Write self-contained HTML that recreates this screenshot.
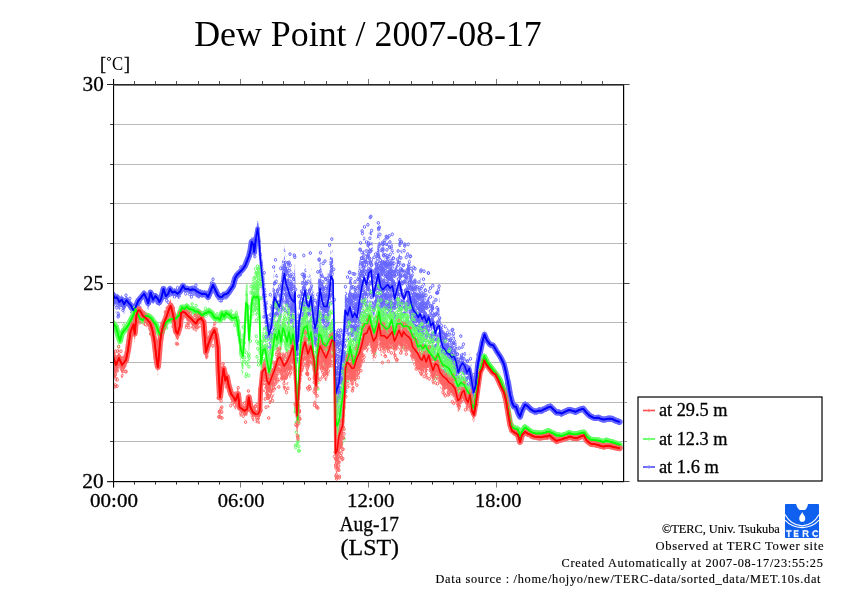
<!DOCTYPE html>
<html><head><meta charset="utf-8"><title>Dew Point / 2007-08-17</title><style>
html,body{margin:0;padding:0;background:#fff;}
body{width:842px;height:595px;overflow:hidden;position:relative;font-family:"Liberation Serif",serif;}
svg{position:absolute;left:0;top:0;display:block;will-change:transform;}
text{font-family:"Liberation Serif",serif;fill:#000;}
</style></head><body>
<svg width="842" height="595" viewBox="0 0 842 595">
<defs><clipPath id="pc"><rect x="113" y="84" width="511" height="398"/></clipPath><pattern id="bd" width="32" height="32" patternUnits="userSpaceOnUse"><g fill="none" stroke="#6464ff" stroke-width="1"><ellipse cx="4.3" cy="27.1" rx="1.15" ry="1.45"/><ellipse cx="24.4" cy="8.2" rx="1.15" ry="1.45"/><ellipse cx="15.9" cy="14.4" rx="1.15" ry="1.45"/><ellipse cx="20.9" cy="25.2" rx="1.15" ry="1.45"/><ellipse cx="3.0" cy="0.9" rx="1.15" ry="1.45"/><ellipse cx="3.0" cy="32.9" rx="1.15" ry="1.45"/><ellipse cx="26.7" cy="13.8" rx="1.15" ry="1.45"/><ellipse cx="24.4" cy="0.1" rx="1.15" ry="1.45"/><ellipse cx="24.4" cy="32.1" rx="1.15" ry="1.45"/><ellipse cx="14.3" cy="23.1" rx="1.15" ry="1.45"/><ellipse cx="7.3" cy="-1.8" rx="1.15" ry="1.45"/><ellipse cx="7.3" cy="30.2" rx="1.15" ry="1.45"/><ellipse cx="28.8" cy="1.0" rx="1.15" ry="1.45"/><ellipse cx="28.8" cy="33.0" rx="1.15" ry="1.45"/><ellipse cx="0.8" cy="17.3" rx="1.15" ry="1.45"/><ellipse cx="32.8" cy="17.3" rx="1.15" ry="1.45"/><ellipse cx="-1.9" cy="12.2" rx="1.15" ry="1.45"/><ellipse cx="30.1" cy="12.2" rx="1.15" ry="1.45"/><ellipse cx="6.9" cy="13.5" rx="1.15" ry="1.45"/><ellipse cx="0.9" cy="7.1" rx="1.15" ry="1.45"/><ellipse cx="32.9" cy="7.1" rx="1.15" ry="1.45"/><ellipse cx="14.0" cy="15.9" rx="1.15" ry="1.45"/><ellipse cx="7.5" cy="7.4" rx="1.15" ry="1.45"/><ellipse cx="7.0" cy="14.7" rx="1.15" ry="1.45"/><ellipse cx="9.3" cy="0.7" rx="1.15" ry="1.45"/><ellipse cx="9.3" cy="32.7" rx="1.15" ry="1.45"/><ellipse cx="26.8" cy="17.8" rx="1.15" ry="1.45"/><ellipse cx="20.6" cy="5.9" rx="1.15" ry="1.45"/><ellipse cx="-0.2" cy="27.5" rx="1.15" ry="1.45"/><ellipse cx="31.8" cy="27.5" rx="1.15" ry="1.45"/><ellipse cx="3.9" cy="10.6" rx="1.15" ry="1.45"/><ellipse cx="23.1" cy="22.8" rx="1.15" ry="1.45"/><ellipse cx="-2.0" cy="13.5" rx="1.15" ry="1.45"/><ellipse cx="30.0" cy="13.5" rx="1.15" ry="1.45"/><ellipse cx="26.6" cy="21.4" rx="1.15" ry="1.45"/><ellipse cx="9.7" cy="18.8" rx="1.15" ry="1.45"/><ellipse cx="28.2" cy="27.1" rx="1.15" ry="1.45"/><ellipse cx="16.2" cy="18.8" rx="1.15" ry="1.45"/><ellipse cx="1.1" cy="7.8" rx="1.15" ry="1.45"/><ellipse cx="33.1" cy="7.8" rx="1.15" ry="1.45"/><ellipse cx="25.5" cy="13.3" rx="1.15" ry="1.45"/><ellipse cx="5.5" cy="17.6" rx="1.15" ry="1.45"/><ellipse cx="22.5" cy="21.6" rx="1.15" ry="1.45"/><ellipse cx="12.0" cy="14.0" rx="1.15" ry="1.45"/><ellipse cx="16.3" cy="24.9" rx="1.15" ry="1.45"/><ellipse cx="16.7" cy="12.6" rx="1.15" ry="1.45"/><ellipse cx="15.7" cy="0.9" rx="1.15" ry="1.45"/><ellipse cx="15.7" cy="32.9" rx="1.15" ry="1.45"/><ellipse cx="1.4" cy="22.5" rx="1.15" ry="1.45"/><ellipse cx="33.4" cy="22.5" rx="1.15" ry="1.45"/><ellipse cx="-0.5" cy="19.0" rx="1.15" ry="1.45"/><ellipse cx="31.5" cy="19.0" rx="1.15" ry="1.45"/><ellipse cx="12.6" cy="5.5" rx="1.15" ry="1.45"/><ellipse cx="16.1" cy="-0.6" rx="1.15" ry="1.45"/><ellipse cx="16.1" cy="31.4" rx="1.15" ry="1.45"/><ellipse cx="24.7" cy="17.3" rx="1.15" ry="1.45"/><ellipse cx="27.5" cy="7.4" rx="1.15" ry="1.45"/><ellipse cx="16.4" cy="-1.5" rx="1.15" ry="1.45"/><ellipse cx="16.4" cy="30.5" rx="1.15" ry="1.45"/><ellipse cx="18.5" cy="14.7" rx="1.15" ry="1.45"/><ellipse cx="8.6" cy="17.5" rx="1.15" ry="1.45"/><ellipse cx="-1.4" cy="0.2" rx="1.15" ry="1.45"/><ellipse cx="-1.4" cy="32.2" rx="1.15" ry="1.45"/><ellipse cx="30.6" cy="0.2" rx="1.15" ry="1.45"/><ellipse cx="30.6" cy="32.2" rx="1.15" ry="1.45"/><ellipse cx="25.1" cy="26.3" rx="1.15" ry="1.45"/><ellipse cx="28.4" cy="23.7" rx="1.15" ry="1.45"/><ellipse cx="25.9" cy="16.6" rx="1.15" ry="1.45"/><ellipse cx="18.0" cy="13.6" rx="1.15" ry="1.45"/><ellipse cx="1.8" cy="27.8" rx="1.15" ry="1.45"/><ellipse cx="33.8" cy="27.8" rx="1.15" ry="1.45"/><ellipse cx="18.2" cy="6.4" rx="1.15" ry="1.45"/><ellipse cx="16.2" cy="15.5" rx="1.15" ry="1.45"/><ellipse cx="11.4" cy="11.1" rx="1.15" ry="1.45"/><ellipse cx="17.2" cy="20.0" rx="1.15" ry="1.45"/><ellipse cx="19.6" cy="14.7" rx="1.15" ry="1.45"/><ellipse cx="0.9" cy="7.3" rx="1.15" ry="1.45"/><ellipse cx="32.9" cy="7.3" rx="1.15" ry="1.45"/><ellipse cx="5.7" cy="18.7" rx="1.15" ry="1.45"/><ellipse cx="27.6" cy="25.6" rx="1.15" ry="1.45"/><ellipse cx="25.5" cy="26.1" rx="1.15" ry="1.45"/><ellipse cx="8.2" cy="26.9" rx="1.15" ry="1.45"/><ellipse cx="21.5" cy="2.7" rx="1.15" ry="1.45"/><ellipse cx="21.5" cy="34.7" rx="1.15" ry="1.45"/><ellipse cx="0.5" cy="0.5" rx="1.15" ry="1.45"/><ellipse cx="0.5" cy="32.5" rx="1.15" ry="1.45"/><ellipse cx="32.5" cy="0.5" rx="1.15" ry="1.45"/><ellipse cx="32.5" cy="32.5" rx="1.15" ry="1.45"/><ellipse cx="24.2" cy="8.0" rx="1.15" ry="1.45"/><ellipse cx="3.5" cy="20.0" rx="1.15" ry="1.45"/><ellipse cx="11.0" cy="2.2" rx="1.15" ry="1.45"/><ellipse cx="11.0" cy="34.2" rx="1.15" ry="1.45"/><ellipse cx="5.1" cy="16.9" rx="1.15" ry="1.45"/><ellipse cx="5.4" cy="8.7" rx="1.15" ry="1.45"/><ellipse cx="22.8" cy="14.6" rx="1.15" ry="1.45"/><ellipse cx="10.3" cy="15.2" rx="1.15" ry="1.45"/><ellipse cx="0.8" cy="12.4" rx="1.15" ry="1.45"/><ellipse cx="32.8" cy="12.4" rx="1.15" ry="1.45"/><ellipse cx="13.5" cy="6.0" rx="1.15" ry="1.45"/><ellipse cx="3.5" cy="28.8" rx="1.15" ry="1.45"/><ellipse cx="16.3" cy="6.7" rx="1.15" ry="1.45"/><ellipse cx="19.4" cy="26.1" rx="1.15" ry="1.45"/><ellipse cx="0.7" cy="0.6" rx="1.15" ry="1.45"/><ellipse cx="0.7" cy="32.6" rx="1.15" ry="1.45"/><ellipse cx="32.7" cy="0.6" rx="1.15" ry="1.45"/><ellipse cx="32.7" cy="32.6" rx="1.15" ry="1.45"/><ellipse cx="4.7" cy="23.0" rx="1.15" ry="1.45"/><ellipse cx="5.1" cy="22.5" rx="1.15" ry="1.45"/><ellipse cx="21.7" cy="17.4" rx="1.15" ry="1.45"/><ellipse cx="7.1" cy="-0.8" rx="1.15" ry="1.45"/><ellipse cx="7.1" cy="31.2" rx="1.15" ry="1.45"/><ellipse cx="25.5" cy="16.5" rx="1.15" ry="1.45"/><ellipse cx="7.1" cy="20.8" rx="1.15" ry="1.45"/><ellipse cx="12.6" cy="18.4" rx="1.15" ry="1.45"/><ellipse cx="10.3" cy="20.2" rx="1.15" ry="1.45"/><ellipse cx="1.9" cy="9.6" rx="1.15" ry="1.45"/><ellipse cx="33.9" cy="9.6" rx="1.15" ry="1.45"/><ellipse cx="-1.0" cy="28.0" rx="1.15" ry="1.45"/><ellipse cx="31.0" cy="28.0" rx="1.15" ry="1.45"/><ellipse cx="9.8" cy="27.5" rx="1.15" ry="1.45"/><ellipse cx="9.9" cy="-1.9" rx="1.15" ry="1.45"/><ellipse cx="9.9" cy="30.1" rx="1.15" ry="1.45"/><ellipse cx="23.8" cy="13.3" rx="1.15" ry="1.45"/><ellipse cx="8.1" cy="0.3" rx="1.15" ry="1.45"/><ellipse cx="8.1" cy="32.3" rx="1.15" ry="1.45"/><ellipse cx="28.1" cy="1.2" rx="1.15" ry="1.45"/><ellipse cx="28.1" cy="33.2" rx="1.15" ry="1.45"/><ellipse cx="26.2" cy="-1.2" rx="1.15" ry="1.45"/><ellipse cx="26.2" cy="30.8" rx="1.15" ry="1.45"/><ellipse cx="18.2" cy="5.5" rx="1.15" ry="1.45"/><ellipse cx="27.8" cy="-0.8" rx="1.15" ry="1.45"/><ellipse cx="27.8" cy="31.2" rx="1.15" ry="1.45"/><ellipse cx="22.5" cy="16.3" rx="1.15" ry="1.45"/><ellipse cx="12.1" cy="11.1" rx="1.15" ry="1.45"/><ellipse cx="6.6" cy="21.6" rx="1.15" ry="1.45"/><ellipse cx="13.9" cy="6.2" rx="1.15" ry="1.45"/><ellipse cx="3.3" cy="21.3" rx="1.15" ry="1.45"/><ellipse cx="9.5" cy="16.0" rx="1.15" ry="1.45"/><ellipse cx="10.4" cy="27.9" rx="1.15" ry="1.45"/><ellipse cx="28.8" cy="0.6" rx="1.15" ry="1.45"/><ellipse cx="28.8" cy="32.6" rx="1.15" ry="1.45"/><ellipse cx="6.4" cy="10.5" rx="1.15" ry="1.45"/><ellipse cx="-0.4" cy="25.0" rx="1.15" ry="1.45"/><ellipse cx="31.6" cy="25.0" rx="1.15" ry="1.45"/><ellipse cx="10.9" cy="6.8" rx="1.15" ry="1.45"/><ellipse cx="21.6" cy="26.8" rx="1.15" ry="1.45"/><ellipse cx="-2.2" cy="11.0" rx="1.15" ry="1.45"/><ellipse cx="29.8" cy="11.0" rx="1.15" ry="1.45"/><ellipse cx="28.2" cy="22.0" rx="1.15" ry="1.45"/><ellipse cx="15.5" cy="-0.5" rx="1.15" ry="1.45"/><ellipse cx="15.5" cy="31.5" rx="1.15" ry="1.45"/><ellipse cx="7.5" cy="23.2" rx="1.15" ry="1.45"/><ellipse cx="2.7" cy="5.4" rx="1.15" ry="1.45"/><ellipse cx="34.7" cy="5.4" rx="1.15" ry="1.45"/><ellipse cx="-2.8" cy="6.8" rx="1.15" ry="1.45"/><ellipse cx="29.2" cy="6.8" rx="1.15" ry="1.45"/><ellipse cx="24.3" cy="19.2" rx="1.15" ry="1.45"/><ellipse cx="26.9" cy="11.8" rx="1.15" ry="1.45"/><ellipse cx="10.9" cy="9.3" rx="1.15" ry="1.45"/><ellipse cx="27.8" cy="19.3" rx="1.15" ry="1.45"/><ellipse cx="-1.5" cy="28.4" rx="1.15" ry="1.45"/><ellipse cx="30.5" cy="28.4" rx="1.15" ry="1.45"/><ellipse cx="4.3" cy="17.6" rx="1.15" ry="1.45"/><ellipse cx="3.3" cy="1.3" rx="1.15" ry="1.45"/><ellipse cx="3.3" cy="33.3" rx="1.15" ry="1.45"/><ellipse cx="2.3" cy="27.7" rx="1.15" ry="1.45"/><ellipse cx="34.3" cy="27.7" rx="1.15" ry="1.45"/><ellipse cx="25.2" cy="26.5" rx="1.15" ry="1.45"/><ellipse cx="10.9" cy="19.7" rx="1.15" ry="1.45"/><ellipse cx="25.0" cy="12.1" rx="1.15" ry="1.45"/><ellipse cx="18.3" cy="7.2" rx="1.15" ry="1.45"/><ellipse cx="2.6" cy="8.5" rx="1.15" ry="1.45"/><ellipse cx="34.6" cy="8.5" rx="1.15" ry="1.45"/><ellipse cx="28.5" cy="18.1" rx="1.15" ry="1.45"/><ellipse cx="-2.4" cy="14.6" rx="1.15" ry="1.45"/><ellipse cx="29.6" cy="14.6" rx="1.15" ry="1.45"/><ellipse cx="8.9" cy="25.2" rx="1.15" ry="1.45"/><ellipse cx="26.5" cy="0.4" rx="1.15" ry="1.45"/><ellipse cx="26.5" cy="32.4" rx="1.15" ry="1.45"/><ellipse cx="21.5" cy="2.9" rx="1.15" ry="1.45"/><ellipse cx="21.5" cy="34.9" rx="1.15" ry="1.45"/><ellipse cx="3.7" cy="28.3" rx="1.15" ry="1.45"/><ellipse cx="1.3" cy="7.7" rx="1.15" ry="1.45"/><ellipse cx="33.3" cy="7.7" rx="1.15" ry="1.45"/><ellipse cx="-0.4" cy="13.5" rx="1.15" ry="1.45"/><ellipse cx="31.6" cy="13.5" rx="1.15" ry="1.45"/><ellipse cx="3.7" cy="5.4" rx="1.15" ry="1.45"/><ellipse cx="7.7" cy="23.8" rx="1.15" ry="1.45"/><ellipse cx="3.3" cy="-2.9" rx="1.15" ry="1.45"/><ellipse cx="3.3" cy="29.1" rx="1.15" ry="1.45"/><ellipse cx="12.1" cy="-1.0" rx="1.15" ry="1.45"/><ellipse cx="12.1" cy="31.0" rx="1.15" ry="1.45"/><ellipse cx="-2.9" cy="9.4" rx="1.15" ry="1.45"/><ellipse cx="29.1" cy="9.4" rx="1.15" ry="1.45"/><ellipse cx="8.1" cy="15.3" rx="1.15" ry="1.45"/><ellipse cx="3.2" cy="20.9" rx="1.15" ry="1.45"/><ellipse cx="1.3" cy="0.3" rx="1.15" ry="1.45"/><ellipse cx="1.3" cy="32.3" rx="1.15" ry="1.45"/><ellipse cx="33.3" cy="0.3" rx="1.15" ry="1.45"/><ellipse cx="33.3" cy="32.3" rx="1.15" ry="1.45"/><ellipse cx="-0.6" cy="9.5" rx="1.15" ry="1.45"/><ellipse cx="31.4" cy="9.5" rx="1.15" ry="1.45"/><ellipse cx="19.1" cy="14.4" rx="1.15" ry="1.45"/><ellipse cx="10.0" cy="2.0" rx="1.15" ry="1.45"/><ellipse cx="10.0" cy="34.0" rx="1.15" ry="1.45"/><ellipse cx="-2.8" cy="-1.0" rx="1.15" ry="1.45"/><ellipse cx="-2.8" cy="31.0" rx="1.15" ry="1.45"/><ellipse cx="29.2" cy="-1.0" rx="1.15" ry="1.45"/><ellipse cx="29.2" cy="31.0" rx="1.15" ry="1.45"/><ellipse cx="-1.0" cy="3.6" rx="1.15" ry="1.45"/><ellipse cx="31.0" cy="3.6" rx="1.15" ry="1.45"/><ellipse cx="6.9" cy="19.8" rx="1.15" ry="1.45"/><ellipse cx="-0.6" cy="17.4" rx="1.15" ry="1.45"/><ellipse cx="31.4" cy="17.4" rx="1.15" ry="1.45"/><ellipse cx="22.0" cy="21.2" rx="1.15" ry="1.45"/><ellipse cx="8.3" cy="17.3" rx="1.15" ry="1.45"/><ellipse cx="9.8" cy="7.9" rx="1.15" ry="1.45"/><ellipse cx="2.6" cy="9.0" rx="1.15" ry="1.45"/><ellipse cx="34.6" cy="9.0" rx="1.15" ry="1.45"/><ellipse cx="-0.5" cy="14.3" rx="1.15" ry="1.45"/><ellipse cx="31.5" cy="14.3" rx="1.15" ry="1.45"/><ellipse cx="20.9" cy="20.6" rx="1.15" ry="1.45"/><ellipse cx="-1.9" cy="12.5" rx="1.15" ry="1.45"/><ellipse cx="30.1" cy="12.5" rx="1.15" ry="1.45"/><ellipse cx="9.8" cy="10.5" rx="1.15" ry="1.45"/><ellipse cx="10.1" cy="27.1" rx="1.15" ry="1.45"/><ellipse cx="28.6" cy="9.7" rx="1.15" ry="1.45"/><ellipse cx="10.7" cy="17.4" rx="1.15" ry="1.45"/><ellipse cx="18.5" cy="19.1" rx="1.15" ry="1.45"/><ellipse cx="7.8" cy="0.7" rx="1.15" ry="1.45"/><ellipse cx="7.8" cy="32.7" rx="1.15" ry="1.45"/><ellipse cx="7.8" cy="2.3" rx="1.15" ry="1.45"/><ellipse cx="7.8" cy="34.3" rx="1.15" ry="1.45"/><ellipse cx="17.6" cy="2.3" rx="1.15" ry="1.45"/><ellipse cx="17.6" cy="34.3" rx="1.15" ry="1.45"/><ellipse cx="2.4" cy="20.3" rx="1.15" ry="1.45"/><ellipse cx="34.4" cy="20.3" rx="1.15" ry="1.45"/><ellipse cx="9.3" cy="25.3" rx="1.15" ry="1.45"/><ellipse cx="15.8" cy="27.6" rx="1.15" ry="1.45"/><ellipse cx="4.9" cy="16.0" rx="1.15" ry="1.45"/><ellipse cx="25.4" cy="2.5" rx="1.15" ry="1.45"/><ellipse cx="25.4" cy="34.5" rx="1.15" ry="1.45"/><ellipse cx="-1.6" cy="5.5" rx="1.15" ry="1.45"/><ellipse cx="30.4" cy="5.5" rx="1.15" ry="1.45"/><ellipse cx="24.8" cy="-0.5" rx="1.15" ry="1.45"/><ellipse cx="24.8" cy="31.5" rx="1.15" ry="1.45"/><ellipse cx="26.3" cy="10.2" rx="1.15" ry="1.45"/><ellipse cx="3.4" cy="16.5" rx="1.15" ry="1.45"/><ellipse cx="-2.6" cy="9.4" rx="1.15" ry="1.45"/><ellipse cx="29.4" cy="9.4" rx="1.15" ry="1.45"/><ellipse cx="28.6" cy="4.5" rx="1.15" ry="1.45"/><ellipse cx="-2.9" cy="1.0" rx="1.15" ry="1.45"/><ellipse cx="-2.9" cy="33.0" rx="1.15" ry="1.45"/><ellipse cx="29.1" cy="1.0" rx="1.15" ry="1.45"/><ellipse cx="29.1" cy="33.0" rx="1.15" ry="1.45"/><ellipse cx="10.1" cy="28.9" rx="1.15" ry="1.45"/><ellipse cx="25.7" cy="-3.0" rx="1.15" ry="1.45"/><ellipse cx="25.7" cy="29.0" rx="1.15" ry="1.45"/><ellipse cx="26.9" cy="23.9" rx="1.15" ry="1.45"/><ellipse cx="22.1" cy="5.7" rx="1.15" ry="1.45"/><ellipse cx="13.8" cy="5.1" rx="1.15" ry="1.45"/></g></pattern><pattern id="bs" width="32" height="32" patternUnits="userSpaceOnUse"><g fill="none" stroke="#6464ff" stroke-width="1"><ellipse cx="14.5" cy="17.9" rx="1.15" ry="1.45"/><ellipse cx="-2.4" cy="14.9" rx="1.15" ry="1.45"/><ellipse cx="29.6" cy="14.9" rx="1.15" ry="1.45"/><ellipse cx="16.3" cy="18.8" rx="1.15" ry="1.45"/><ellipse cx="5.9" cy="16.4" rx="1.15" ry="1.45"/><ellipse cx="20.2" cy="25.4" rx="1.15" ry="1.45"/><ellipse cx="3.0" cy="9.7" rx="1.15" ry="1.45"/><ellipse cx="2.9" cy="25.9" rx="1.15" ry="1.45"/><ellipse cx="34.9" cy="25.9" rx="1.15" ry="1.45"/><ellipse cx="22.2" cy="1.3" rx="1.15" ry="1.45"/><ellipse cx="22.2" cy="33.3" rx="1.15" ry="1.45"/><ellipse cx="-0.6" cy="-1.1" rx="1.15" ry="1.45"/><ellipse cx="-0.6" cy="30.9" rx="1.15" ry="1.45"/><ellipse cx="31.4" cy="-1.1" rx="1.15" ry="1.45"/><ellipse cx="31.4" cy="30.9" rx="1.15" ry="1.45"/><ellipse cx="20.9" cy="19.7" rx="1.15" ry="1.45"/><ellipse cx="5.0" cy="0.5" rx="1.15" ry="1.45"/><ellipse cx="5.0" cy="32.5" rx="1.15" ry="1.45"/><ellipse cx="16.9" cy="1.9" rx="1.15" ry="1.45"/><ellipse cx="16.9" cy="33.9" rx="1.15" ry="1.45"/><ellipse cx="6.1" cy="7.7" rx="1.15" ry="1.45"/><ellipse cx="1.0" cy="14.8" rx="1.15" ry="1.45"/><ellipse cx="33.0" cy="14.8" rx="1.15" ry="1.45"/><ellipse cx="14.1" cy="27.0" rx="1.15" ry="1.45"/><ellipse cx="16.6" cy="20.5" rx="1.15" ry="1.45"/><ellipse cx="16.0" cy="21.2" rx="1.15" ry="1.45"/><ellipse cx="14.6" cy="8.9" rx="1.15" ry="1.45"/><ellipse cx="-0.1" cy="-0.1" rx="1.15" ry="1.45"/><ellipse cx="-0.1" cy="31.9" rx="1.15" ry="1.45"/><ellipse cx="31.9" cy="-0.1" rx="1.15" ry="1.45"/><ellipse cx="31.9" cy="31.9" rx="1.15" ry="1.45"/><ellipse cx="26.9" cy="22.6" rx="1.15" ry="1.45"/><ellipse cx="10.1" cy="7.3" rx="1.15" ry="1.45"/><ellipse cx="9.2" cy="2.2" rx="1.15" ry="1.45"/><ellipse cx="9.2" cy="34.2" rx="1.15" ry="1.45"/><ellipse cx="24.5" cy="12.8" rx="1.15" ry="1.45"/><ellipse cx="27.1" cy="12.4" rx="1.15" ry="1.45"/><ellipse cx="-1.3" cy="27.1" rx="1.15" ry="1.45"/><ellipse cx="30.7" cy="27.1" rx="1.15" ry="1.45"/><ellipse cx="0.0" cy="6.7" rx="1.15" ry="1.45"/><ellipse cx="32.0" cy="6.7" rx="1.15" ry="1.45"/><ellipse cx="-2.9" cy="15.0" rx="1.15" ry="1.45"/><ellipse cx="29.1" cy="15.0" rx="1.15" ry="1.45"/><ellipse cx="-0.6" cy="12.7" rx="1.15" ry="1.45"/><ellipse cx="31.4" cy="12.7" rx="1.15" ry="1.45"/><ellipse cx="2.3" cy="20.1" rx="1.15" ry="1.45"/><ellipse cx="34.3" cy="20.1" rx="1.15" ry="1.45"/><ellipse cx="24.9" cy="8.6" rx="1.15" ry="1.45"/><ellipse cx="2.8" cy="10.6" rx="1.15" ry="1.45"/><ellipse cx="34.8" cy="10.6" rx="1.15" ry="1.45"/><ellipse cx="-1.1" cy="24.3" rx="1.15" ry="1.45"/><ellipse cx="30.9" cy="24.3" rx="1.15" ry="1.45"/><ellipse cx="3.8" cy="7.9" rx="1.15" ry="1.45"/><ellipse cx="3.2" cy="1.9" rx="1.15" ry="1.45"/><ellipse cx="3.2" cy="33.9" rx="1.15" ry="1.45"/><ellipse cx="25.5" cy="5.7" rx="1.15" ry="1.45"/><ellipse cx="17.9" cy="14.3" rx="1.15" ry="1.45"/><ellipse cx="6.1" cy="23.4" rx="1.15" ry="1.45"/><ellipse cx="4.2" cy="20.6" rx="1.15" ry="1.45"/><ellipse cx="3.7" cy="13.5" rx="1.15" ry="1.45"/><ellipse cx="6.8" cy="8.6" rx="1.15" ry="1.45"/><ellipse cx="-0.9" cy="25.7" rx="1.15" ry="1.45"/><ellipse cx="31.1" cy="25.7" rx="1.15" ry="1.45"/><ellipse cx="9.7" cy="28.3" rx="1.15" ry="1.45"/><ellipse cx="6.7" cy="12.6" rx="1.15" ry="1.45"/><ellipse cx="27.3" cy="20.5" rx="1.15" ry="1.45"/><ellipse cx="3.2" cy="-0.3" rx="1.15" ry="1.45"/><ellipse cx="3.2" cy="31.7" rx="1.15" ry="1.45"/><ellipse cx="6.8" cy="8.3" rx="1.15" ry="1.45"/><ellipse cx="24.7" cy="10.5" rx="1.15" ry="1.45"/><ellipse cx="9.5" cy="2.3" rx="1.15" ry="1.45"/><ellipse cx="9.5" cy="34.3" rx="1.15" ry="1.45"/><ellipse cx="2.9" cy="18.6" rx="1.15" ry="1.45"/><ellipse cx="34.9" cy="18.6" rx="1.15" ry="1.45"/><ellipse cx="7.8" cy="19.2" rx="1.15" ry="1.45"/><ellipse cx="11.9" cy="14.5" rx="1.15" ry="1.45"/><ellipse cx="-1.3" cy="15.5" rx="1.15" ry="1.45"/><ellipse cx="30.7" cy="15.5" rx="1.15" ry="1.45"/><ellipse cx="18.4" cy="27.7" rx="1.15" ry="1.45"/><ellipse cx="5.9" cy="4.9" rx="1.15" ry="1.45"/><ellipse cx="-2.9" cy="26.2" rx="1.15" ry="1.45"/><ellipse cx="29.1" cy="26.2" rx="1.15" ry="1.45"/><ellipse cx="8.0" cy="6.1" rx="1.15" ry="1.45"/><ellipse cx="23.7" cy="-1.9" rx="1.15" ry="1.45"/><ellipse cx="23.7" cy="30.1" rx="1.15" ry="1.45"/><ellipse cx="6.3" cy="-1.6" rx="1.15" ry="1.45"/><ellipse cx="6.3" cy="30.4" rx="1.15" ry="1.45"/><ellipse cx="28.2" cy="19.3" rx="1.15" ry="1.45"/><ellipse cx="13.5" cy="3.3" rx="1.15" ry="1.45"/><ellipse cx="1.2" cy="-1.2" rx="1.15" ry="1.45"/><ellipse cx="1.2" cy="30.8" rx="1.15" ry="1.45"/><ellipse cx="33.2" cy="-1.2" rx="1.15" ry="1.45"/><ellipse cx="33.2" cy="30.8" rx="1.15" ry="1.45"/><ellipse cx="7.6" cy="22.5" rx="1.15" ry="1.45"/><ellipse cx="8.2" cy="26.4" rx="1.15" ry="1.45"/><ellipse cx="19.1" cy="9.4" rx="1.15" ry="1.45"/><ellipse cx="5.6" cy="23.1" rx="1.15" ry="1.45"/><ellipse cx="2.2" cy="7.3" rx="1.15" ry="1.45"/><ellipse cx="34.2" cy="7.3" rx="1.15" ry="1.45"/><ellipse cx="17.9" cy="27.3" rx="1.15" ry="1.45"/><ellipse cx="19.7" cy="9.0" rx="1.15" ry="1.45"/><ellipse cx="-2.6" cy="6.5" rx="1.15" ry="1.45"/><ellipse cx="29.4" cy="6.5" rx="1.15" ry="1.45"/><ellipse cx="0.5" cy="8.6" rx="1.15" ry="1.45"/><ellipse cx="32.5" cy="8.6" rx="1.15" ry="1.45"/></g></pattern><pattern id="gd" width="32" height="32" patternUnits="userSpaceOnUse"><g fill="none" stroke="#64ff64" stroke-width="1"><ellipse cx="-1.4" cy="-1.7" rx="1.15" ry="1.45"/><ellipse cx="-1.4" cy="30.3" rx="1.15" ry="1.45"/><ellipse cx="30.6" cy="-1.7" rx="1.15" ry="1.45"/><ellipse cx="30.6" cy="30.3" rx="1.15" ry="1.45"/><ellipse cx="1.8" cy="2.7" rx="1.15" ry="1.45"/><ellipse cx="1.8" cy="34.7" rx="1.15" ry="1.45"/><ellipse cx="33.8" cy="2.7" rx="1.15" ry="1.45"/><ellipse cx="33.8" cy="34.7" rx="1.15" ry="1.45"/><ellipse cx="26.7" cy="23.6" rx="1.15" ry="1.45"/><ellipse cx="21.4" cy="9.9" rx="1.15" ry="1.45"/><ellipse cx="19.4" cy="19.4" rx="1.15" ry="1.45"/><ellipse cx="18.6" cy="5.1" rx="1.15" ry="1.45"/><ellipse cx="13.8" cy="12.6" rx="1.15" ry="1.45"/><ellipse cx="23.1" cy="-0.2" rx="1.15" ry="1.45"/><ellipse cx="23.1" cy="31.8" rx="1.15" ry="1.45"/><ellipse cx="-1.6" cy="17.4" rx="1.15" ry="1.45"/><ellipse cx="30.4" cy="17.4" rx="1.15" ry="1.45"/><ellipse cx="14.2" cy="8.6" rx="1.15" ry="1.45"/><ellipse cx="1.1" cy="0.9" rx="1.15" ry="1.45"/><ellipse cx="1.1" cy="32.9" rx="1.15" ry="1.45"/><ellipse cx="33.1" cy="0.9" rx="1.15" ry="1.45"/><ellipse cx="33.1" cy="32.9" rx="1.15" ry="1.45"/><ellipse cx="14.9" cy="10.2" rx="1.15" ry="1.45"/><ellipse cx="12.2" cy="28.5" rx="1.15" ry="1.45"/><ellipse cx="16.8" cy="17.9" rx="1.15" ry="1.45"/><ellipse cx="7.6" cy="0.8" rx="1.15" ry="1.45"/><ellipse cx="7.6" cy="32.8" rx="1.15" ry="1.45"/><ellipse cx="10.4" cy="4.4" rx="1.15" ry="1.45"/><ellipse cx="16.3" cy="-0.0" rx="1.15" ry="1.45"/><ellipse cx="16.3" cy="32.0" rx="1.15" ry="1.45"/><ellipse cx="21.6" cy="5.8" rx="1.15" ry="1.45"/><ellipse cx="28.6" cy="25.5" rx="1.15" ry="1.45"/><ellipse cx="23.5" cy="-3.0" rx="1.15" ry="1.45"/><ellipse cx="23.5" cy="29.0" rx="1.15" ry="1.45"/><ellipse cx="24.4" cy="25.3" rx="1.15" ry="1.45"/><ellipse cx="11.3" cy="-0.6" rx="1.15" ry="1.45"/><ellipse cx="11.3" cy="31.4" rx="1.15" ry="1.45"/><ellipse cx="-1.2" cy="5.2" rx="1.15" ry="1.45"/><ellipse cx="30.8" cy="5.2" rx="1.15" ry="1.45"/><ellipse cx="24.1" cy="22.9" rx="1.15" ry="1.45"/><ellipse cx="14.8" cy="17.0" rx="1.15" ry="1.45"/><ellipse cx="15.7" cy="-2.4" rx="1.15" ry="1.45"/><ellipse cx="15.7" cy="29.6" rx="1.15" ry="1.45"/><ellipse cx="16.0" cy="26.6" rx="1.15" ry="1.45"/><ellipse cx="11.3" cy="28.3" rx="1.15" ry="1.45"/><ellipse cx="28.8" cy="14.8" rx="1.15" ry="1.45"/><ellipse cx="18.2" cy="-2.5" rx="1.15" ry="1.45"/><ellipse cx="18.2" cy="29.5" rx="1.15" ry="1.45"/><ellipse cx="23.2" cy="15.6" rx="1.15" ry="1.45"/><ellipse cx="7.1" cy="10.4" rx="1.15" ry="1.45"/><ellipse cx="22.4" cy="5.3" rx="1.15" ry="1.45"/><ellipse cx="-2.9" cy="8.6" rx="1.15" ry="1.45"/><ellipse cx="29.1" cy="8.6" rx="1.15" ry="1.45"/><ellipse cx="-2.8" cy="9.9" rx="1.15" ry="1.45"/><ellipse cx="29.2" cy="9.9" rx="1.15" ry="1.45"/><ellipse cx="-1.4" cy="22.6" rx="1.15" ry="1.45"/><ellipse cx="30.6" cy="22.6" rx="1.15" ry="1.45"/><ellipse cx="16.1" cy="16.6" rx="1.15" ry="1.45"/><ellipse cx="20.8" cy="18.8" rx="1.15" ry="1.45"/><ellipse cx="10.0" cy="6.7" rx="1.15" ry="1.45"/><ellipse cx="16.4" cy="-2.1" rx="1.15" ry="1.45"/><ellipse cx="16.4" cy="29.9" rx="1.15" ry="1.45"/><ellipse cx="19.9" cy="2.4" rx="1.15" ry="1.45"/><ellipse cx="19.9" cy="34.4" rx="1.15" ry="1.45"/><ellipse cx="26.3" cy="23.2" rx="1.15" ry="1.45"/><ellipse cx="-3.0" cy="6.1" rx="1.15" ry="1.45"/><ellipse cx="29.0" cy="6.1" rx="1.15" ry="1.45"/><ellipse cx="23.8" cy="1.9" rx="1.15" ry="1.45"/><ellipse cx="23.8" cy="33.9" rx="1.15" ry="1.45"/><ellipse cx="20.9" cy="8.7" rx="1.15" ry="1.45"/><ellipse cx="7.3" cy="28.0" rx="1.15" ry="1.45"/><ellipse cx="3.4" cy="16.7" rx="1.15" ry="1.45"/><ellipse cx="27.3" cy="7.8" rx="1.15" ry="1.45"/><ellipse cx="6.7" cy="28.2" rx="1.15" ry="1.45"/><ellipse cx="13.5" cy="22.9" rx="1.15" ry="1.45"/><ellipse cx="1.0" cy="11.6" rx="1.15" ry="1.45"/><ellipse cx="33.0" cy="11.6" rx="1.15" ry="1.45"/><ellipse cx="5.5" cy="21.5" rx="1.15" ry="1.45"/><ellipse cx="2.7" cy="-1.5" rx="1.15" ry="1.45"/><ellipse cx="2.7" cy="30.5" rx="1.15" ry="1.45"/><ellipse cx="34.7" cy="-1.5" rx="1.15" ry="1.45"/><ellipse cx="34.7" cy="30.5" rx="1.15" ry="1.45"/><ellipse cx="0.8" cy="23.3" rx="1.15" ry="1.45"/><ellipse cx="32.8" cy="23.3" rx="1.15" ry="1.45"/><ellipse cx="0.7" cy="8.2" rx="1.15" ry="1.45"/><ellipse cx="32.7" cy="8.2" rx="1.15" ry="1.45"/><ellipse cx="26.0" cy="5.0" rx="1.15" ry="1.45"/><ellipse cx="5.9" cy="22.1" rx="1.15" ry="1.45"/><ellipse cx="12.3" cy="1.4" rx="1.15" ry="1.45"/><ellipse cx="12.3" cy="33.4" rx="1.15" ry="1.45"/><ellipse cx="-0.3" cy="4.8" rx="1.15" ry="1.45"/><ellipse cx="31.7" cy="4.8" rx="1.15" ry="1.45"/><ellipse cx="1.2" cy="11.0" rx="1.15" ry="1.45"/><ellipse cx="33.2" cy="11.0" rx="1.15" ry="1.45"/><ellipse cx="19.7" cy="23.8" rx="1.15" ry="1.45"/><ellipse cx="3.6" cy="10.8" rx="1.15" ry="1.45"/><ellipse cx="1.0" cy="14.4" rx="1.15" ry="1.45"/><ellipse cx="33.0" cy="14.4" rx="1.15" ry="1.45"/><ellipse cx="24.5" cy="23.7" rx="1.15" ry="1.45"/><ellipse cx="28.9" cy="24.2" rx="1.15" ry="1.45"/><ellipse cx="27.6" cy="22.6" rx="1.15" ry="1.45"/><ellipse cx="15.1" cy="7.2" rx="1.15" ry="1.45"/><ellipse cx="21.1" cy="10.1" rx="1.15" ry="1.45"/><ellipse cx="3.3" cy="14.3" rx="1.15" ry="1.45"/><ellipse cx="28.0" cy="4.1" rx="1.15" ry="1.45"/><ellipse cx="18.7" cy="12.6" rx="1.15" ry="1.45"/><ellipse cx="16.5" cy="4.6" rx="1.15" ry="1.45"/><ellipse cx="-1.3" cy="8.3" rx="1.15" ry="1.45"/><ellipse cx="30.7" cy="8.3" rx="1.15" ry="1.45"/><ellipse cx="19.4" cy="13.4" rx="1.15" ry="1.45"/><ellipse cx="0.6" cy="17.9" rx="1.15" ry="1.45"/><ellipse cx="32.6" cy="17.9" rx="1.15" ry="1.45"/><ellipse cx="4.5" cy="1.8" rx="1.15" ry="1.45"/><ellipse cx="4.5" cy="33.8" rx="1.15" ry="1.45"/><ellipse cx="1.1" cy="5.2" rx="1.15" ry="1.45"/><ellipse cx="33.1" cy="5.2" rx="1.15" ry="1.45"/><ellipse cx="3.1" cy="20.3" rx="1.15" ry="1.45"/><ellipse cx="16.3" cy="-0.5" rx="1.15" ry="1.45"/><ellipse cx="16.3" cy="31.5" rx="1.15" ry="1.45"/><ellipse cx="-2.1" cy="-0.2" rx="1.15" ry="1.45"/><ellipse cx="-2.1" cy="31.8" rx="1.15" ry="1.45"/><ellipse cx="29.9" cy="-0.2" rx="1.15" ry="1.45"/><ellipse cx="29.9" cy="31.8" rx="1.15" ry="1.45"/><ellipse cx="7.4" cy="14.2" rx="1.15" ry="1.45"/><ellipse cx="8.0" cy="18.9" rx="1.15" ry="1.45"/><ellipse cx="20.0" cy="25.6" rx="1.15" ry="1.45"/><ellipse cx="22.7" cy="8.2" rx="1.15" ry="1.45"/><ellipse cx="13.5" cy="16.8" rx="1.15" ry="1.45"/><ellipse cx="0.2" cy="1.1" rx="1.15" ry="1.45"/><ellipse cx="0.2" cy="33.1" rx="1.15" ry="1.45"/><ellipse cx="32.2" cy="1.1" rx="1.15" ry="1.45"/><ellipse cx="32.2" cy="33.1" rx="1.15" ry="1.45"/><ellipse cx="13.1" cy="3.6" rx="1.15" ry="1.45"/><ellipse cx="23.2" cy="7.7" rx="1.15" ry="1.45"/><ellipse cx="3.2" cy="5.8" rx="1.15" ry="1.45"/><ellipse cx="7.4" cy="7.0" rx="1.15" ry="1.45"/><ellipse cx="16.7" cy="14.9" rx="1.15" ry="1.45"/><ellipse cx="9.9" cy="20.5" rx="1.15" ry="1.45"/><ellipse cx="6.8" cy="-3.0" rx="1.15" ry="1.45"/><ellipse cx="6.8" cy="29.0" rx="1.15" ry="1.45"/><ellipse cx="-1.2" cy="23.3" rx="1.15" ry="1.45"/><ellipse cx="30.8" cy="23.3" rx="1.15" ry="1.45"/><ellipse cx="13.9" cy="16.4" rx="1.15" ry="1.45"/><ellipse cx="18.6" cy="1.6" rx="1.15" ry="1.45"/><ellipse cx="18.6" cy="33.6" rx="1.15" ry="1.45"/><ellipse cx="13.4" cy="16.8" rx="1.15" ry="1.45"/><ellipse cx="5.8" cy="3.0" rx="1.15" ry="1.45"/><ellipse cx="25.7" cy="11.7" rx="1.15" ry="1.45"/><ellipse cx="16.6" cy="-2.5" rx="1.15" ry="1.45"/><ellipse cx="16.6" cy="29.5" rx="1.15" ry="1.45"/><ellipse cx="19.5" cy="9.3" rx="1.15" ry="1.45"/><ellipse cx="-0.5" cy="11.9" rx="1.15" ry="1.45"/><ellipse cx="31.5" cy="11.9" rx="1.15" ry="1.45"/><ellipse cx="0.6" cy="21.9" rx="1.15" ry="1.45"/><ellipse cx="32.6" cy="21.9" rx="1.15" ry="1.45"/><ellipse cx="3.2" cy="9.8" rx="1.15" ry="1.45"/><ellipse cx="26.9" cy="21.5" rx="1.15" ry="1.45"/><ellipse cx="0.5" cy="14.4" rx="1.15" ry="1.45"/><ellipse cx="32.5" cy="14.4" rx="1.15" ry="1.45"/><ellipse cx="13.1" cy="15.5" rx="1.15" ry="1.45"/><ellipse cx="6.7" cy="18.8" rx="1.15" ry="1.45"/><ellipse cx="2.4" cy="9.1" rx="1.15" ry="1.45"/><ellipse cx="34.4" cy="9.1" rx="1.15" ry="1.45"/><ellipse cx="11.9" cy="-2.1" rx="1.15" ry="1.45"/><ellipse cx="11.9" cy="29.9" rx="1.15" ry="1.45"/><ellipse cx="2.4" cy="24.2" rx="1.15" ry="1.45"/><ellipse cx="34.4" cy="24.2" rx="1.15" ry="1.45"/><ellipse cx="6.2" cy="18.3" rx="1.15" ry="1.45"/><ellipse cx="12.5" cy="14.8" rx="1.15" ry="1.45"/><ellipse cx="24.1" cy="12.6" rx="1.15" ry="1.45"/><ellipse cx="3.9" cy="3.9" rx="1.15" ry="1.45"/><ellipse cx="2.6" cy="27.2" rx="1.15" ry="1.45"/><ellipse cx="34.6" cy="27.2" rx="1.15" ry="1.45"/><ellipse cx="20.5" cy="-1.3" rx="1.15" ry="1.45"/><ellipse cx="20.5" cy="30.7" rx="1.15" ry="1.45"/><ellipse cx="22.2" cy="0.8" rx="1.15" ry="1.45"/><ellipse cx="22.2" cy="32.8" rx="1.15" ry="1.45"/><ellipse cx="21.1" cy="24.9" rx="1.15" ry="1.45"/><ellipse cx="23.2" cy="15.9" rx="1.15" ry="1.45"/><ellipse cx="11.4" cy="14.6" rx="1.15" ry="1.45"/><ellipse cx="25.6" cy="8.6" rx="1.15" ry="1.45"/><ellipse cx="16.8" cy="15.3" rx="1.15" ry="1.45"/><ellipse cx="-1.4" cy="25.7" rx="1.15" ry="1.45"/><ellipse cx="30.6" cy="25.7" rx="1.15" ry="1.45"/><ellipse cx="-2.2" cy="26.8" rx="1.15" ry="1.45"/><ellipse cx="29.8" cy="26.8" rx="1.15" ry="1.45"/><ellipse cx="9.5" cy="7.4" rx="1.15" ry="1.45"/><ellipse cx="15.6" cy="8.3" rx="1.15" ry="1.45"/><ellipse cx="13.7" cy="21.7" rx="1.15" ry="1.45"/><ellipse cx="-2.6" cy="18.7" rx="1.15" ry="1.45"/><ellipse cx="29.4" cy="18.7" rx="1.15" ry="1.45"/><ellipse cx="26.2" cy="3.1" rx="1.15" ry="1.45"/><ellipse cx="11.4" cy="-0.1" rx="1.15" ry="1.45"/><ellipse cx="11.4" cy="31.9" rx="1.15" ry="1.45"/><ellipse cx="4.7" cy="13.3" rx="1.15" ry="1.45"/><ellipse cx="2.1" cy="2.8" rx="1.15" ry="1.45"/><ellipse cx="2.1" cy="34.8" rx="1.15" ry="1.45"/><ellipse cx="34.1" cy="2.8" rx="1.15" ry="1.45"/><ellipse cx="34.1" cy="34.8" rx="1.15" ry="1.45"/><ellipse cx="28.7" cy="-0.4" rx="1.15" ry="1.45"/><ellipse cx="28.7" cy="31.6" rx="1.15" ry="1.45"/><ellipse cx="20.7" cy="4.1" rx="1.15" ry="1.45"/><ellipse cx="9.5" cy="7.4" rx="1.15" ry="1.45"/><ellipse cx="21.5" cy="21.8" rx="1.15" ry="1.45"/><ellipse cx="14.0" cy="16.8" rx="1.15" ry="1.45"/><ellipse cx="3.6" cy="17.3" rx="1.15" ry="1.45"/><ellipse cx="-1.6" cy="24.2" rx="1.15" ry="1.45"/><ellipse cx="30.4" cy="24.2" rx="1.15" ry="1.45"/><ellipse cx="3.1" cy="16.5" rx="1.15" ry="1.45"/><ellipse cx="22.9" cy="8.2" rx="1.15" ry="1.45"/><ellipse cx="28.6" cy="14.8" rx="1.15" ry="1.45"/><ellipse cx="22.5" cy="12.9" rx="1.15" ry="1.45"/><ellipse cx="-0.2" cy="25.1" rx="1.15" ry="1.45"/><ellipse cx="31.8" cy="25.1" rx="1.15" ry="1.45"/><ellipse cx="18.4" cy="4.6" rx="1.15" ry="1.45"/><ellipse cx="14.1" cy="0.9" rx="1.15" ry="1.45"/><ellipse cx="14.1" cy="32.9" rx="1.15" ry="1.45"/><ellipse cx="19.0" cy="28.2" rx="1.15" ry="1.45"/><ellipse cx="5.8" cy="16.3" rx="1.15" ry="1.45"/><ellipse cx="15.4" cy="13.0" rx="1.15" ry="1.45"/><ellipse cx="22.7" cy="-2.0" rx="1.15" ry="1.45"/><ellipse cx="22.7" cy="30.0" rx="1.15" ry="1.45"/><ellipse cx="22.6" cy="15.1" rx="1.15" ry="1.45"/><ellipse cx="-1.2" cy="10.6" rx="1.15" ry="1.45"/><ellipse cx="30.8" cy="10.6" rx="1.15" ry="1.45"/><ellipse cx="23.9" cy="21.1" rx="1.15" ry="1.45"/><ellipse cx="24.4" cy="27.3" rx="1.15" ry="1.45"/><ellipse cx="7.2" cy="19.9" rx="1.15" ry="1.45"/><ellipse cx="12.9" cy="21.3" rx="1.15" ry="1.45"/><ellipse cx="-0.7" cy="20.3" rx="1.15" ry="1.45"/><ellipse cx="31.3" cy="20.3" rx="1.15" ry="1.45"/><ellipse cx="0.4" cy="14.9" rx="1.15" ry="1.45"/><ellipse cx="32.4" cy="14.9" rx="1.15" ry="1.45"/><ellipse cx="22.8" cy="28.3" rx="1.15" ry="1.45"/><ellipse cx="20.8" cy="26.1" rx="1.15" ry="1.45"/><ellipse cx="0.5" cy="-1.8" rx="1.15" ry="1.45"/><ellipse cx="0.5" cy="30.2" rx="1.15" ry="1.45"/><ellipse cx="32.5" cy="-1.8" rx="1.15" ry="1.45"/><ellipse cx="32.5" cy="30.2" rx="1.15" ry="1.45"/><ellipse cx="23.3" cy="19.4" rx="1.15" ry="1.45"/><ellipse cx="29.0" cy="28.3" rx="1.15" ry="1.45"/><ellipse cx="3.2" cy="26.1" rx="1.15" ry="1.45"/><ellipse cx="24.5" cy="6.4" rx="1.15" ry="1.45"/><ellipse cx="23.8" cy="18.8" rx="1.15" ry="1.45"/><ellipse cx="6.1" cy="25.7" rx="1.15" ry="1.45"/><ellipse cx="4.4" cy="19.6" rx="1.15" ry="1.45"/><ellipse cx="13.9" cy="8.1" rx="1.15" ry="1.45"/><ellipse cx="18.1" cy="14.9" rx="1.15" ry="1.45"/><ellipse cx="6.6" cy="-1.1" rx="1.15" ry="1.45"/><ellipse cx="6.6" cy="30.9" rx="1.15" ry="1.45"/><ellipse cx="2.3" cy="0.1" rx="1.15" ry="1.45"/><ellipse cx="2.3" cy="32.1" rx="1.15" ry="1.45"/><ellipse cx="34.3" cy="0.1" rx="1.15" ry="1.45"/><ellipse cx="34.3" cy="32.1" rx="1.15" ry="1.45"/><ellipse cx="15.5" cy="26.8" rx="1.15" ry="1.45"/><ellipse cx="21.1" cy="24.1" rx="1.15" ry="1.45"/><ellipse cx="15.5" cy="21.6" rx="1.15" ry="1.45"/><ellipse cx="10.7" cy="8.5" rx="1.15" ry="1.45"/><ellipse cx="16.1" cy="0.9" rx="1.15" ry="1.45"/><ellipse cx="16.1" cy="32.9" rx="1.15" ry="1.45"/><ellipse cx="2.6" cy="24.1" rx="1.15" ry="1.45"/><ellipse cx="34.6" cy="24.1" rx="1.15" ry="1.45"/><ellipse cx="5.6" cy="24.0" rx="1.15" ry="1.45"/><ellipse cx="25.1" cy="12.9" rx="1.15" ry="1.45"/><ellipse cx="21.6" cy="25.2" rx="1.15" ry="1.45"/><ellipse cx="27.6" cy="4.3" rx="1.15" ry="1.45"/><ellipse cx="5.2" cy="12.2" rx="1.15" ry="1.45"/><ellipse cx="14.9" cy="9.4" rx="1.15" ry="1.45"/><ellipse cx="0.3" cy="17.8" rx="1.15" ry="1.45"/><ellipse cx="32.3" cy="17.8" rx="1.15" ry="1.45"/><ellipse cx="-1.1" cy="11.7" rx="1.15" ry="1.45"/><ellipse cx="30.9" cy="11.7" rx="1.15" ry="1.45"/><ellipse cx="17.2" cy="12.2" rx="1.15" ry="1.45"/><ellipse cx="14.2" cy="27.9" rx="1.15" ry="1.45"/><ellipse cx="9.9" cy="20.8" rx="1.15" ry="1.45"/><ellipse cx="15.5" cy="17.2" rx="1.15" ry="1.45"/><ellipse cx="-2.7" cy="2.5" rx="1.15" ry="1.45"/><ellipse cx="-2.7" cy="34.5" rx="1.15" ry="1.45"/><ellipse cx="29.3" cy="2.5" rx="1.15" ry="1.45"/><ellipse cx="29.3" cy="34.5" rx="1.15" ry="1.45"/><ellipse cx="26.4" cy="9.7" rx="1.15" ry="1.45"/><ellipse cx="20.7" cy="25.5" rx="1.15" ry="1.45"/><ellipse cx="20.9" cy="12.6" rx="1.15" ry="1.45"/><ellipse cx="26.9" cy="3.0" rx="1.15" ry="1.45"/><ellipse cx="26.9" cy="35.0" rx="1.15" ry="1.45"/><ellipse cx="20.3" cy="12.5" rx="1.15" ry="1.45"/><ellipse cx="17.0" cy="27.2" rx="1.15" ry="1.45"/><ellipse cx="25.5" cy="20.1" rx="1.15" ry="1.45"/><ellipse cx="9.9" cy="7.5" rx="1.15" ry="1.45"/><ellipse cx="14.6" cy="7.4" rx="1.15" ry="1.45"/><ellipse cx="8.9" cy="-1.4" rx="1.15" ry="1.45"/><ellipse cx="8.9" cy="30.6" rx="1.15" ry="1.45"/><ellipse cx="3.6" cy="26.2" rx="1.15" ry="1.45"/><ellipse cx="12.1" cy="11.7" rx="1.15" ry="1.45"/><ellipse cx="10.2" cy="2.5" rx="1.15" ry="1.45"/><ellipse cx="10.2" cy="34.5" rx="1.15" ry="1.45"/><ellipse cx="14.6" cy="5.3" rx="1.15" ry="1.45"/><ellipse cx="14.1" cy="9.3" rx="1.15" ry="1.45"/><ellipse cx="28.6" cy="-2.5" rx="1.15" ry="1.45"/><ellipse cx="28.6" cy="29.5" rx="1.15" ry="1.45"/><ellipse cx="14.1" cy="20.5" rx="1.15" ry="1.45"/><ellipse cx="-2.3" cy="10.4" rx="1.15" ry="1.45"/><ellipse cx="29.7" cy="10.4" rx="1.15" ry="1.45"/><ellipse cx="3.2" cy="7.6" rx="1.15" ry="1.45"/><ellipse cx="6.1" cy="21.7" rx="1.15" ry="1.45"/><ellipse cx="12.0" cy="11.4" rx="1.15" ry="1.45"/><ellipse cx="25.4" cy="7.5" rx="1.15" ry="1.45"/><ellipse cx="25.9" cy="20.3" rx="1.15" ry="1.45"/><ellipse cx="12.8" cy="26.4" rx="1.15" ry="1.45"/><ellipse cx="11.0" cy="28.1" rx="1.15" ry="1.45"/><ellipse cx="-2.4" cy="16.1" rx="1.15" ry="1.45"/><ellipse cx="29.6" cy="16.1" rx="1.15" ry="1.45"/><ellipse cx="22.1" cy="-1.6" rx="1.15" ry="1.45"/><ellipse cx="22.1" cy="30.4" rx="1.15" ry="1.45"/><ellipse cx="23.8" cy="24.0" rx="1.15" ry="1.45"/></g></pattern><pattern id="gs" width="32" height="32" patternUnits="userSpaceOnUse"><g fill="none" stroke="#64ff64" stroke-width="1"><ellipse cx="15.2" cy="21.0" rx="1.15" ry="1.45"/><ellipse cx="21.3" cy="4.6" rx="1.15" ry="1.45"/><ellipse cx="0.3" cy="12.0" rx="1.15" ry="1.45"/><ellipse cx="32.3" cy="12.0" rx="1.15" ry="1.45"/><ellipse cx="8.8" cy="25.9" rx="1.15" ry="1.45"/><ellipse cx="22.1" cy="19.2" rx="1.15" ry="1.45"/><ellipse cx="17.9" cy="21.2" rx="1.15" ry="1.45"/><ellipse cx="4.6" cy="14.1" rx="1.15" ry="1.45"/><ellipse cx="5.2" cy="29.0" rx="1.15" ry="1.45"/><ellipse cx="1.9" cy="26.2" rx="1.15" ry="1.45"/><ellipse cx="33.9" cy="26.2" rx="1.15" ry="1.45"/><ellipse cx="2.4" cy="22.0" rx="1.15" ry="1.45"/><ellipse cx="34.4" cy="22.0" rx="1.15" ry="1.45"/><ellipse cx="10.8" cy="12.9" rx="1.15" ry="1.45"/><ellipse cx="27.0" cy="0.6" rx="1.15" ry="1.45"/><ellipse cx="27.0" cy="32.6" rx="1.15" ry="1.45"/><ellipse cx="1.9" cy="-2.7" rx="1.15" ry="1.45"/><ellipse cx="1.9" cy="29.3" rx="1.15" ry="1.45"/><ellipse cx="33.9" cy="-2.7" rx="1.15" ry="1.45"/><ellipse cx="33.9" cy="29.3" rx="1.15" ry="1.45"/><ellipse cx="16.3" cy="2.9" rx="1.15" ry="1.45"/><ellipse cx="16.3" cy="34.9" rx="1.15" ry="1.45"/><ellipse cx="-0.4" cy="-1.7" rx="1.15" ry="1.45"/><ellipse cx="-0.4" cy="30.3" rx="1.15" ry="1.45"/><ellipse cx="31.6" cy="-1.7" rx="1.15" ry="1.45"/><ellipse cx="31.6" cy="30.3" rx="1.15" ry="1.45"/><ellipse cx="3.6" cy="13.5" rx="1.15" ry="1.45"/><ellipse cx="4.3" cy="10.0" rx="1.15" ry="1.45"/><ellipse cx="19.9" cy="5.2" rx="1.15" ry="1.45"/><ellipse cx="22.3" cy="1.6" rx="1.15" ry="1.45"/><ellipse cx="22.3" cy="33.6" rx="1.15" ry="1.45"/><ellipse cx="5.5" cy="26.1" rx="1.15" ry="1.45"/><ellipse cx="12.8" cy="13.4" rx="1.15" ry="1.45"/><ellipse cx="19.1" cy="15.3" rx="1.15" ry="1.45"/><ellipse cx="12.3" cy="1.0" rx="1.15" ry="1.45"/><ellipse cx="12.3" cy="33.0" rx="1.15" ry="1.45"/><ellipse cx="23.2" cy="-1.0" rx="1.15" ry="1.45"/><ellipse cx="23.2" cy="31.0" rx="1.15" ry="1.45"/><ellipse cx="-0.8" cy="21.2" rx="1.15" ry="1.45"/><ellipse cx="31.2" cy="21.2" rx="1.15" ry="1.45"/><ellipse cx="11.4" cy="11.6" rx="1.15" ry="1.45"/><ellipse cx="22.1" cy="21.6" rx="1.15" ry="1.45"/><ellipse cx="3.6" cy="7.5" rx="1.15" ry="1.45"/><ellipse cx="11.6" cy="16.4" rx="1.15" ry="1.45"/><ellipse cx="25.9" cy="16.0" rx="1.15" ry="1.45"/><ellipse cx="0.9" cy="26.3" rx="1.15" ry="1.45"/><ellipse cx="32.9" cy="26.3" rx="1.15" ry="1.45"/><ellipse cx="13.8" cy="16.6" rx="1.15" ry="1.45"/><ellipse cx="7.1" cy="13.7" rx="1.15" ry="1.45"/><ellipse cx="12.4" cy="24.7" rx="1.15" ry="1.45"/><ellipse cx="3.3" cy="17.6" rx="1.15" ry="1.45"/><ellipse cx="5.7" cy="22.3" rx="1.15" ry="1.45"/><ellipse cx="1.2" cy="8.8" rx="1.15" ry="1.45"/><ellipse cx="33.2" cy="8.8" rx="1.15" ry="1.45"/><ellipse cx="11.0" cy="20.4" rx="1.15" ry="1.45"/><ellipse cx="1.7" cy="14.7" rx="1.15" ry="1.45"/><ellipse cx="33.7" cy="14.7" rx="1.15" ry="1.45"/><ellipse cx="6.7" cy="9.0" rx="1.15" ry="1.45"/><ellipse cx="15.2" cy="-1.3" rx="1.15" ry="1.45"/><ellipse cx="15.2" cy="30.7" rx="1.15" ry="1.45"/><ellipse cx="15.4" cy="-1.4" rx="1.15" ry="1.45"/><ellipse cx="15.4" cy="30.6" rx="1.15" ry="1.45"/><ellipse cx="5.4" cy="-2.4" rx="1.15" ry="1.45"/><ellipse cx="5.4" cy="29.6" rx="1.15" ry="1.45"/><ellipse cx="11.7" cy="6.1" rx="1.15" ry="1.45"/><ellipse cx="24.0" cy="-2.8" rx="1.15" ry="1.45"/><ellipse cx="24.0" cy="29.2" rx="1.15" ry="1.45"/><ellipse cx="0.2" cy="8.6" rx="1.15" ry="1.45"/><ellipse cx="32.2" cy="8.6" rx="1.15" ry="1.45"/><ellipse cx="24.7" cy="10.9" rx="1.15" ry="1.45"/><ellipse cx="7.7" cy="0.3" rx="1.15" ry="1.45"/><ellipse cx="7.7" cy="32.3" rx="1.15" ry="1.45"/><ellipse cx="1.3" cy="19.8" rx="1.15" ry="1.45"/><ellipse cx="33.3" cy="19.8" rx="1.15" ry="1.45"/><ellipse cx="-0.5" cy="-0.0" rx="1.15" ry="1.45"/><ellipse cx="-0.5" cy="32.0" rx="1.15" ry="1.45"/><ellipse cx="31.5" cy="-0.0" rx="1.15" ry="1.45"/><ellipse cx="31.5" cy="32.0" rx="1.15" ry="1.45"/><ellipse cx="16.1" cy="0.8" rx="1.15" ry="1.45"/><ellipse cx="16.1" cy="32.8" rx="1.15" ry="1.45"/><ellipse cx="10.3" cy="25.2" rx="1.15" ry="1.45"/><ellipse cx="26.6" cy="20.5" rx="1.15" ry="1.45"/><ellipse cx="7.3" cy="16.9" rx="1.15" ry="1.45"/><ellipse cx="15.3" cy="20.1" rx="1.15" ry="1.45"/><ellipse cx="8.4" cy="-1.7" rx="1.15" ry="1.45"/><ellipse cx="8.4" cy="30.3" rx="1.15" ry="1.45"/><ellipse cx="28.6" cy="5.2" rx="1.15" ry="1.45"/><ellipse cx="9.3" cy="27.9" rx="1.15" ry="1.45"/><ellipse cx="8.9" cy="-1.8" rx="1.15" ry="1.45"/><ellipse cx="8.9" cy="30.2" rx="1.15" ry="1.45"/><ellipse cx="16.5" cy="22.3" rx="1.15" ry="1.45"/><ellipse cx="22.6" cy="6.9" rx="1.15" ry="1.45"/><ellipse cx="9.1" cy="8.2" rx="1.15" ry="1.45"/><ellipse cx="21.9" cy="22.2" rx="1.15" ry="1.45"/><ellipse cx="4.2" cy="28.4" rx="1.15" ry="1.45"/><ellipse cx="13.5" cy="7.7" rx="1.15" ry="1.45"/><ellipse cx="13.9" cy="-0.7" rx="1.15" ry="1.45"/><ellipse cx="13.9" cy="31.3" rx="1.15" ry="1.45"/><ellipse cx="17.9" cy="20.0" rx="1.15" ry="1.45"/><ellipse cx="-2.6" cy="-1.2" rx="1.15" ry="1.45"/><ellipse cx="-2.6" cy="30.8" rx="1.15" ry="1.45"/><ellipse cx="29.4" cy="-1.2" rx="1.15" ry="1.45"/><ellipse cx="29.4" cy="30.8" rx="1.15" ry="1.45"/><ellipse cx="24.3" cy="13.4" rx="1.15" ry="1.45"/><ellipse cx="18.8" cy="28.8" rx="1.15" ry="1.45"/><ellipse cx="25.3" cy="18.6" rx="1.15" ry="1.45"/><ellipse cx="11.1" cy="11.8" rx="1.15" ry="1.45"/><ellipse cx="23.5" cy="18.0" rx="1.15" ry="1.45"/><ellipse cx="0.5" cy="22.7" rx="1.15" ry="1.45"/><ellipse cx="32.5" cy="22.7" rx="1.15" ry="1.45"/><ellipse cx="28.9" cy="25.5" rx="1.15" ry="1.45"/><ellipse cx="28.7" cy="-2.9" rx="1.15" ry="1.45"/><ellipse cx="28.7" cy="29.1" rx="1.15" ry="1.45"/><ellipse cx="17.1" cy="25.3" rx="1.15" ry="1.45"/><ellipse cx="12.1" cy="3.1" rx="1.15" ry="1.45"/><ellipse cx="11.3" cy="10.0" rx="1.15" ry="1.45"/><ellipse cx="-2.1" cy="22.1" rx="1.15" ry="1.45"/><ellipse cx="29.9" cy="22.1" rx="1.15" ry="1.45"/></g></pattern><pattern id="rd" width="32" height="32" patternUnits="userSpaceOnUse"><g fill="none" stroke="#ff6464" stroke-width="1"><ellipse cx="7.6" cy="17.4" rx="1.15" ry="1.45"/><ellipse cx="11.8" cy="19.3" rx="1.15" ry="1.45"/><ellipse cx="20.0" cy="2.1" rx="1.15" ry="1.45"/><ellipse cx="20.0" cy="34.1" rx="1.15" ry="1.45"/><ellipse cx="0.4" cy="26.8" rx="1.15" ry="1.45"/><ellipse cx="32.4" cy="26.8" rx="1.15" ry="1.45"/><ellipse cx="8.3" cy="7.5" rx="1.15" ry="1.45"/><ellipse cx="-0.1" cy="15.0" rx="1.15" ry="1.45"/><ellipse cx="31.9" cy="15.0" rx="1.15" ry="1.45"/><ellipse cx="26.8" cy="15.2" rx="1.15" ry="1.45"/><ellipse cx="20.5" cy="4.8" rx="1.15" ry="1.45"/><ellipse cx="20.3" cy="27.8" rx="1.15" ry="1.45"/><ellipse cx="16.7" cy="23.7" rx="1.15" ry="1.45"/><ellipse cx="21.5" cy="2.0" rx="1.15" ry="1.45"/><ellipse cx="21.5" cy="34.0" rx="1.15" ry="1.45"/><ellipse cx="24.3" cy="18.9" rx="1.15" ry="1.45"/><ellipse cx="9.6" cy="1.0" rx="1.15" ry="1.45"/><ellipse cx="9.6" cy="33.0" rx="1.15" ry="1.45"/><ellipse cx="27.7" cy="15.1" rx="1.15" ry="1.45"/><ellipse cx="23.0" cy="28.1" rx="1.15" ry="1.45"/><ellipse cx="22.9" cy="-2.5" rx="1.15" ry="1.45"/><ellipse cx="22.9" cy="29.5" rx="1.15" ry="1.45"/><ellipse cx="12.6" cy="25.6" rx="1.15" ry="1.45"/><ellipse cx="14.2" cy="-2.1" rx="1.15" ry="1.45"/><ellipse cx="14.2" cy="29.9" rx="1.15" ry="1.45"/><ellipse cx="28.1" cy="3.1" rx="1.15" ry="1.45"/><ellipse cx="4.4" cy="6.9" rx="1.15" ry="1.45"/><ellipse cx="-1.1" cy="14.0" rx="1.15" ry="1.45"/><ellipse cx="30.9" cy="14.0" rx="1.15" ry="1.45"/><ellipse cx="20.1" cy="9.6" rx="1.15" ry="1.45"/><ellipse cx="16.2" cy="12.3" rx="1.15" ry="1.45"/><ellipse cx="11.2" cy="18.7" rx="1.15" ry="1.45"/><ellipse cx="18.7" cy="28.9" rx="1.15" ry="1.45"/><ellipse cx="21.8" cy="-2.3" rx="1.15" ry="1.45"/><ellipse cx="21.8" cy="29.7" rx="1.15" ry="1.45"/><ellipse cx="27.4" cy="-0.3" rx="1.15" ry="1.45"/><ellipse cx="27.4" cy="31.7" rx="1.15" ry="1.45"/><ellipse cx="21.5" cy="5.2" rx="1.15" ry="1.45"/><ellipse cx="27.5" cy="-1.1" rx="1.15" ry="1.45"/><ellipse cx="27.5" cy="30.9" rx="1.15" ry="1.45"/><ellipse cx="29.0" cy="18.2" rx="1.15" ry="1.45"/><ellipse cx="22.8" cy="6.8" rx="1.15" ry="1.45"/><ellipse cx="26.6" cy="18.4" rx="1.15" ry="1.45"/><ellipse cx="9.1" cy="2.0" rx="1.15" ry="1.45"/><ellipse cx="9.1" cy="34.0" rx="1.15" ry="1.45"/><ellipse cx="27.3" cy="-0.3" rx="1.15" ry="1.45"/><ellipse cx="27.3" cy="31.7" rx="1.15" ry="1.45"/><ellipse cx="2.8" cy="25.6" rx="1.15" ry="1.45"/><ellipse cx="34.8" cy="25.6" rx="1.15" ry="1.45"/><ellipse cx="13.1" cy="4.8" rx="1.15" ry="1.45"/><ellipse cx="9.4" cy="24.6" rx="1.15" ry="1.45"/><ellipse cx="27.9" cy="1.4" rx="1.15" ry="1.45"/><ellipse cx="27.9" cy="33.4" rx="1.15" ry="1.45"/><ellipse cx="19.7" cy="1.4" rx="1.15" ry="1.45"/><ellipse cx="19.7" cy="33.4" rx="1.15" ry="1.45"/><ellipse cx="23.0" cy="10.6" rx="1.15" ry="1.45"/><ellipse cx="28.2" cy="-0.6" rx="1.15" ry="1.45"/><ellipse cx="28.2" cy="31.4" rx="1.15" ry="1.45"/><ellipse cx="16.2" cy="-0.0" rx="1.15" ry="1.45"/><ellipse cx="16.2" cy="32.0" rx="1.15" ry="1.45"/><ellipse cx="9.9" cy="2.5" rx="1.15" ry="1.45"/><ellipse cx="9.9" cy="34.5" rx="1.15" ry="1.45"/><ellipse cx="19.2" cy="1.0" rx="1.15" ry="1.45"/><ellipse cx="19.2" cy="33.0" rx="1.15" ry="1.45"/><ellipse cx="6.3" cy="13.1" rx="1.15" ry="1.45"/><ellipse cx="19.5" cy="5.0" rx="1.15" ry="1.45"/><ellipse cx="1.4" cy="27.8" rx="1.15" ry="1.45"/><ellipse cx="33.4" cy="27.8" rx="1.15" ry="1.45"/><ellipse cx="10.0" cy="-1.3" rx="1.15" ry="1.45"/><ellipse cx="10.0" cy="30.7" rx="1.15" ry="1.45"/><ellipse cx="28.7" cy="12.1" rx="1.15" ry="1.45"/><ellipse cx="14.7" cy="16.6" rx="1.15" ry="1.45"/><ellipse cx="20.6" cy="19.1" rx="1.15" ry="1.45"/><ellipse cx="17.9" cy="19.8" rx="1.15" ry="1.45"/><ellipse cx="-1.9" cy="16.2" rx="1.15" ry="1.45"/><ellipse cx="30.1" cy="16.2" rx="1.15" ry="1.45"/><ellipse cx="13.8" cy="23.0" rx="1.15" ry="1.45"/><ellipse cx="7.6" cy="9.6" rx="1.15" ry="1.45"/><ellipse cx="-0.7" cy="16.7" rx="1.15" ry="1.45"/><ellipse cx="31.3" cy="16.7" rx="1.15" ry="1.45"/><ellipse cx="17.5" cy="0.4" rx="1.15" ry="1.45"/><ellipse cx="17.5" cy="32.4" rx="1.15" ry="1.45"/><ellipse cx="13.3" cy="18.6" rx="1.15" ry="1.45"/><ellipse cx="0.6" cy="19.7" rx="1.15" ry="1.45"/><ellipse cx="32.6" cy="19.7" rx="1.15" ry="1.45"/><ellipse cx="20.2" cy="1.9" rx="1.15" ry="1.45"/><ellipse cx="20.2" cy="33.9" rx="1.15" ry="1.45"/><ellipse cx="20.1" cy="14.9" rx="1.15" ry="1.45"/><ellipse cx="21.7" cy="11.3" rx="1.15" ry="1.45"/><ellipse cx="22.6" cy="23.6" rx="1.15" ry="1.45"/><ellipse cx="0.7" cy="1.9" rx="1.15" ry="1.45"/><ellipse cx="0.7" cy="33.9" rx="1.15" ry="1.45"/><ellipse cx="32.7" cy="1.9" rx="1.15" ry="1.45"/><ellipse cx="32.7" cy="33.9" rx="1.15" ry="1.45"/><ellipse cx="21.6" cy="-1.2" rx="1.15" ry="1.45"/><ellipse cx="21.6" cy="30.8" rx="1.15" ry="1.45"/><ellipse cx="8.0" cy="14.6" rx="1.15" ry="1.45"/><ellipse cx="19.0" cy="10.2" rx="1.15" ry="1.45"/><ellipse cx="11.6" cy="10.0" rx="1.15" ry="1.45"/><ellipse cx="11.8" cy="19.1" rx="1.15" ry="1.45"/><ellipse cx="9.6" cy="12.1" rx="1.15" ry="1.45"/><ellipse cx="24.7" cy="0.9" rx="1.15" ry="1.45"/><ellipse cx="24.7" cy="32.9" rx="1.15" ry="1.45"/><ellipse cx="18.2" cy="23.5" rx="1.15" ry="1.45"/><ellipse cx="9.9" cy="7.1" rx="1.15" ry="1.45"/><ellipse cx="25.7" cy="7.6" rx="1.15" ry="1.45"/><ellipse cx="6.0" cy="13.9" rx="1.15" ry="1.45"/><ellipse cx="22.3" cy="3.3" rx="1.15" ry="1.45"/><ellipse cx="10.3" cy="10.7" rx="1.15" ry="1.45"/><ellipse cx="26.7" cy="14.0" rx="1.15" ry="1.45"/><ellipse cx="27.4" cy="5.4" rx="1.15" ry="1.45"/><ellipse cx="10.8" cy="20.8" rx="1.15" ry="1.45"/><ellipse cx="28.3" cy="14.4" rx="1.15" ry="1.45"/><ellipse cx="7.2" cy="3.9" rx="1.15" ry="1.45"/><ellipse cx="16.9" cy="6.1" rx="1.15" ry="1.45"/><ellipse cx="25.8" cy="26.8" rx="1.15" ry="1.45"/><ellipse cx="5.9" cy="8.9" rx="1.15" ry="1.45"/><ellipse cx="25.8" cy="20.5" rx="1.15" ry="1.45"/><ellipse cx="25.8" cy="11.0" rx="1.15" ry="1.45"/><ellipse cx="4.2" cy="9.3" rx="1.15" ry="1.45"/><ellipse cx="25.4" cy="8.7" rx="1.15" ry="1.45"/><ellipse cx="11.1" cy="13.3" rx="1.15" ry="1.45"/><ellipse cx="13.4" cy="13.1" rx="1.15" ry="1.45"/><ellipse cx="-2.5" cy="5.0" rx="1.15" ry="1.45"/><ellipse cx="29.5" cy="5.0" rx="1.15" ry="1.45"/><ellipse cx="0.1" cy="-1.8" rx="1.15" ry="1.45"/><ellipse cx="0.1" cy="30.2" rx="1.15" ry="1.45"/><ellipse cx="32.1" cy="-1.8" rx="1.15" ry="1.45"/><ellipse cx="32.1" cy="30.2" rx="1.15" ry="1.45"/><ellipse cx="28.2" cy="-0.4" rx="1.15" ry="1.45"/><ellipse cx="28.2" cy="31.6" rx="1.15" ry="1.45"/><ellipse cx="13.9" cy="-1.6" rx="1.15" ry="1.45"/><ellipse cx="13.9" cy="30.4" rx="1.15" ry="1.45"/><ellipse cx="-2.3" cy="7.1" rx="1.15" ry="1.45"/><ellipse cx="29.7" cy="7.1" rx="1.15" ry="1.45"/><ellipse cx="23.9" cy="26.8" rx="1.15" ry="1.45"/><ellipse cx="21.2" cy="16.6" rx="1.15" ry="1.45"/><ellipse cx="9.2" cy="10.9" rx="1.15" ry="1.45"/><ellipse cx="7.3" cy="2.2" rx="1.15" ry="1.45"/><ellipse cx="7.3" cy="34.2" rx="1.15" ry="1.45"/><ellipse cx="18.8" cy="9.2" rx="1.15" ry="1.45"/><ellipse cx="25.9" cy="1.4" rx="1.15" ry="1.45"/><ellipse cx="25.9" cy="33.4" rx="1.15" ry="1.45"/><ellipse cx="28.9" cy="22.2" rx="1.15" ry="1.45"/><ellipse cx="-2.4" cy="28.7" rx="1.15" ry="1.45"/><ellipse cx="29.6" cy="28.7" rx="1.15" ry="1.45"/><ellipse cx="28.8" cy="18.5" rx="1.15" ry="1.45"/><ellipse cx="0.4" cy="23.8" rx="1.15" ry="1.45"/><ellipse cx="32.4" cy="23.8" rx="1.15" ry="1.45"/><ellipse cx="5.5" cy="9.6" rx="1.15" ry="1.45"/><ellipse cx="21.2" cy="16.8" rx="1.15" ry="1.45"/><ellipse cx="13.2" cy="-2.0" rx="1.15" ry="1.45"/><ellipse cx="13.2" cy="30.0" rx="1.15" ry="1.45"/><ellipse cx="19.6" cy="10.9" rx="1.15" ry="1.45"/><ellipse cx="8.1" cy="27.6" rx="1.15" ry="1.45"/><ellipse cx="15.3" cy="25.0" rx="1.15" ry="1.45"/><ellipse cx="11.3" cy="6.3" rx="1.15" ry="1.45"/><ellipse cx="17.1" cy="26.1" rx="1.15" ry="1.45"/><ellipse cx="5.5" cy="25.3" rx="1.15" ry="1.45"/><ellipse cx="-2.5" cy="25.8" rx="1.15" ry="1.45"/><ellipse cx="29.5" cy="25.8" rx="1.15" ry="1.45"/><ellipse cx="26.4" cy="0.2" rx="1.15" ry="1.45"/><ellipse cx="26.4" cy="32.2" rx="1.15" ry="1.45"/><ellipse cx="20.1" cy="27.6" rx="1.15" ry="1.45"/><ellipse cx="1.6" cy="8.7" rx="1.15" ry="1.45"/><ellipse cx="33.6" cy="8.7" rx="1.15" ry="1.45"/><ellipse cx="8.6" cy="16.9" rx="1.15" ry="1.45"/><ellipse cx="13.5" cy="15.1" rx="1.15" ry="1.45"/><ellipse cx="24.8" cy="0.1" rx="1.15" ry="1.45"/><ellipse cx="24.8" cy="32.1" rx="1.15" ry="1.45"/><ellipse cx="1.8" cy="4.1" rx="1.15" ry="1.45"/><ellipse cx="33.8" cy="4.1" rx="1.15" ry="1.45"/><ellipse cx="4.0" cy="2.2" rx="1.15" ry="1.45"/><ellipse cx="4.0" cy="34.2" rx="1.15" ry="1.45"/><ellipse cx="-0.8" cy="27.3" rx="1.15" ry="1.45"/><ellipse cx="31.2" cy="27.3" rx="1.15" ry="1.45"/><ellipse cx="2.8" cy="16.1" rx="1.15" ry="1.45"/><ellipse cx="34.8" cy="16.1" rx="1.15" ry="1.45"/><ellipse cx="10.1" cy="10.1" rx="1.15" ry="1.45"/><ellipse cx="11.2" cy="20.7" rx="1.15" ry="1.45"/><ellipse cx="18.8" cy="11.5" rx="1.15" ry="1.45"/><ellipse cx="6.1" cy="10.5" rx="1.15" ry="1.45"/><ellipse cx="4.0" cy="17.8" rx="1.15" ry="1.45"/><ellipse cx="22.9" cy="12.2" rx="1.15" ry="1.45"/><ellipse cx="2.6" cy="5.7" rx="1.15" ry="1.45"/><ellipse cx="34.6" cy="5.7" rx="1.15" ry="1.45"/><ellipse cx="11.9" cy="19.3" rx="1.15" ry="1.45"/><ellipse cx="25.0" cy="12.2" rx="1.15" ry="1.45"/><ellipse cx="25.6" cy="19.9" rx="1.15" ry="1.45"/><ellipse cx="13.8" cy="11.9" rx="1.15" ry="1.45"/><ellipse cx="15.9" cy="22.5" rx="1.15" ry="1.45"/><ellipse cx="13.5" cy="22.2" rx="1.15" ry="1.45"/><ellipse cx="14.7" cy="7.8" rx="1.15" ry="1.45"/><ellipse cx="17.1" cy="22.2" rx="1.15" ry="1.45"/><ellipse cx="2.3" cy="13.6" rx="1.15" ry="1.45"/><ellipse cx="34.3" cy="13.6" rx="1.15" ry="1.45"/><ellipse cx="13.6" cy="28.1" rx="1.15" ry="1.45"/><ellipse cx="-2.0" cy="12.0" rx="1.15" ry="1.45"/><ellipse cx="30.0" cy="12.0" rx="1.15" ry="1.45"/><ellipse cx="28.7" cy="25.3" rx="1.15" ry="1.45"/><ellipse cx="8.4" cy="14.9" rx="1.15" ry="1.45"/><ellipse cx="3.9" cy="26.0" rx="1.15" ry="1.45"/><ellipse cx="21.2" cy="28.4" rx="1.15" ry="1.45"/><ellipse cx="25.4" cy="21.4" rx="1.15" ry="1.45"/><ellipse cx="23.5" cy="18.0" rx="1.15" ry="1.45"/><ellipse cx="3.3" cy="18.8" rx="1.15" ry="1.45"/><ellipse cx="0.2" cy="4.6" rx="1.15" ry="1.45"/><ellipse cx="32.2" cy="4.6" rx="1.15" ry="1.45"/><ellipse cx="24.8" cy="1.4" rx="1.15" ry="1.45"/><ellipse cx="24.8" cy="33.4" rx="1.15" ry="1.45"/><ellipse cx="2.9" cy="3.2" rx="1.15" ry="1.45"/><ellipse cx="34.9" cy="3.2" rx="1.15" ry="1.45"/><ellipse cx="28.2" cy="5.7" rx="1.15" ry="1.45"/><ellipse cx="0.8" cy="26.9" rx="1.15" ry="1.45"/><ellipse cx="32.8" cy="26.9" rx="1.15" ry="1.45"/><ellipse cx="3.9" cy="27.0" rx="1.15" ry="1.45"/><ellipse cx="21.6" cy="26.8" rx="1.15" ry="1.45"/><ellipse cx="-1.5" cy="18.5" rx="1.15" ry="1.45"/><ellipse cx="30.5" cy="18.5" rx="1.15" ry="1.45"/><ellipse cx="25.6" cy="1.2" rx="1.15" ry="1.45"/><ellipse cx="25.6" cy="33.2" rx="1.15" ry="1.45"/><ellipse cx="24.6" cy="16.4" rx="1.15" ry="1.45"/><ellipse cx="22.9" cy="3.4" rx="1.15" ry="1.45"/><ellipse cx="24.0" cy="-2.1" rx="1.15" ry="1.45"/><ellipse cx="24.0" cy="29.9" rx="1.15" ry="1.45"/><ellipse cx="2.0" cy="10.4" rx="1.15" ry="1.45"/><ellipse cx="34.0" cy="10.4" rx="1.15" ry="1.45"/><ellipse cx="18.0" cy="26.5" rx="1.15" ry="1.45"/><ellipse cx="7.7" cy="5.8" rx="1.15" ry="1.45"/><ellipse cx="8.0" cy="19.7" rx="1.15" ry="1.45"/><ellipse cx="24.1" cy="12.6" rx="1.15" ry="1.45"/><ellipse cx="11.8" cy="12.7" rx="1.15" ry="1.45"/><ellipse cx="11.2" cy="13.4" rx="1.15" ry="1.45"/><ellipse cx="2.7" cy="16.0" rx="1.15" ry="1.45"/><ellipse cx="34.7" cy="16.0" rx="1.15" ry="1.45"/><ellipse cx="-0.9" cy="13.2" rx="1.15" ry="1.45"/><ellipse cx="31.1" cy="13.2" rx="1.15" ry="1.45"/><ellipse cx="23.9" cy="5.1" rx="1.15" ry="1.45"/><ellipse cx="22.1" cy="24.2" rx="1.15" ry="1.45"/><ellipse cx="21.6" cy="16.5" rx="1.15" ry="1.45"/><ellipse cx="15.5" cy="20.6" rx="1.15" ry="1.45"/><ellipse cx="28.7" cy="4.8" rx="1.15" ry="1.45"/><ellipse cx="3.1" cy="23.9" rx="1.15" ry="1.45"/><ellipse cx="-2.7" cy="16.6" rx="1.15" ry="1.45"/><ellipse cx="29.3" cy="16.6" rx="1.15" ry="1.45"/><ellipse cx="14.2" cy="23.0" rx="1.15" ry="1.45"/><ellipse cx="6.0" cy="8.6" rx="1.15" ry="1.45"/><ellipse cx="6.4" cy="18.7" rx="1.15" ry="1.45"/><ellipse cx="10.1" cy="7.4" rx="1.15" ry="1.45"/><ellipse cx="22.1" cy="-1.5" rx="1.15" ry="1.45"/><ellipse cx="22.1" cy="30.5" rx="1.15" ry="1.45"/><ellipse cx="9.5" cy="22.6" rx="1.15" ry="1.45"/><ellipse cx="13.2" cy="27.3" rx="1.15" ry="1.45"/><ellipse cx="18.7" cy="8.5" rx="1.15" ry="1.45"/><ellipse cx="7.0" cy="0.7" rx="1.15" ry="1.45"/><ellipse cx="7.0" cy="32.7" rx="1.15" ry="1.45"/><ellipse cx="15.3" cy="12.2" rx="1.15" ry="1.45"/><ellipse cx="5.5" cy="11.5" rx="1.15" ry="1.45"/><ellipse cx="10.3" cy="24.8" rx="1.15" ry="1.45"/><ellipse cx="4.6" cy="-0.3" rx="1.15" ry="1.45"/><ellipse cx="4.6" cy="31.7" rx="1.15" ry="1.45"/><ellipse cx="15.3" cy="19.2" rx="1.15" ry="1.45"/><ellipse cx="15.0" cy="26.7" rx="1.15" ry="1.45"/><ellipse cx="26.3" cy="17.8" rx="1.15" ry="1.45"/><ellipse cx="15.4" cy="23.1" rx="1.15" ry="1.45"/><ellipse cx="27.4" cy="12.8" rx="1.15" ry="1.45"/><ellipse cx="23.5" cy="-1.3" rx="1.15" ry="1.45"/><ellipse cx="23.5" cy="30.7" rx="1.15" ry="1.45"/><ellipse cx="15.0" cy="7.3" rx="1.15" ry="1.45"/><ellipse cx="7.5" cy="23.0" rx="1.15" ry="1.45"/><ellipse cx="21.6" cy="-1.3" rx="1.15" ry="1.45"/><ellipse cx="21.6" cy="30.7" rx="1.15" ry="1.45"/><ellipse cx="27.3" cy="7.7" rx="1.15" ry="1.45"/><ellipse cx="6.1" cy="8.3" rx="1.15" ry="1.45"/><ellipse cx="6.0" cy="22.6" rx="1.15" ry="1.45"/><ellipse cx="27.5" cy="28.8" rx="1.15" ry="1.45"/><ellipse cx="8.2" cy="27.7" rx="1.15" ry="1.45"/><ellipse cx="10.0" cy="13.5" rx="1.15" ry="1.45"/><ellipse cx="23.3" cy="2.7" rx="1.15" ry="1.45"/><ellipse cx="23.3" cy="34.7" rx="1.15" ry="1.45"/><ellipse cx="3.0" cy="26.7" rx="1.15" ry="1.45"/><ellipse cx="35.0" cy="26.7" rx="1.15" ry="1.45"/><ellipse cx="9.3" cy="11.4" rx="1.15" ry="1.45"/><ellipse cx="18.6" cy="21.6" rx="1.15" ry="1.45"/><ellipse cx="0.2" cy="10.7" rx="1.15" ry="1.45"/><ellipse cx="32.2" cy="10.7" rx="1.15" ry="1.45"/><ellipse cx="14.0" cy="15.5" rx="1.15" ry="1.45"/><ellipse cx="6.7" cy="18.7" rx="1.15" ry="1.45"/><ellipse cx="-1.4" cy="12.5" rx="1.15" ry="1.45"/><ellipse cx="30.6" cy="12.5" rx="1.15" ry="1.45"/><ellipse cx="17.4" cy="3.8" rx="1.15" ry="1.45"/><ellipse cx="8.8" cy="21.3" rx="1.15" ry="1.45"/><ellipse cx="3.6" cy="28.4" rx="1.15" ry="1.45"/><ellipse cx="-2.9" cy="3.1" rx="1.15" ry="1.45"/><ellipse cx="29.1" cy="3.1" rx="1.15" ry="1.45"/><ellipse cx="-1.9" cy="12.0" rx="1.15" ry="1.45"/><ellipse cx="30.1" cy="12.0" rx="1.15" ry="1.45"/><ellipse cx="24.7" cy="24.2" rx="1.15" ry="1.45"/><ellipse cx="9.5" cy="21.6" rx="1.15" ry="1.45"/><ellipse cx="20.9" cy="25.8" rx="1.15" ry="1.45"/><ellipse cx="8.5" cy="24.1" rx="1.15" ry="1.45"/><ellipse cx="-1.2" cy="21.5" rx="1.15" ry="1.45"/><ellipse cx="30.8" cy="21.5" rx="1.15" ry="1.45"/><ellipse cx="17.2" cy="3.6" rx="1.15" ry="1.45"/><ellipse cx="15.8" cy="11.3" rx="1.15" ry="1.45"/><ellipse cx="23.0" cy="21.7" rx="1.15" ry="1.45"/><ellipse cx="18.1" cy="5.8" rx="1.15" ry="1.45"/><ellipse cx="20.7" cy="20.2" rx="1.15" ry="1.45"/><ellipse cx="5.7" cy="28.5" rx="1.15" ry="1.45"/><ellipse cx="21.0" cy="3.9" rx="1.15" ry="1.45"/><ellipse cx="-2.2" cy="4.5" rx="1.15" ry="1.45"/><ellipse cx="29.8" cy="4.5" rx="1.15" ry="1.45"/><ellipse cx="10.6" cy="23.1" rx="1.15" ry="1.45"/><ellipse cx="19.1" cy="17.8" rx="1.15" ry="1.45"/><ellipse cx="20.7" cy="14.6" rx="1.15" ry="1.45"/><ellipse cx="10.0" cy="5.6" rx="1.15" ry="1.45"/><ellipse cx="2.2" cy="22.9" rx="1.15" ry="1.45"/><ellipse cx="34.2" cy="22.9" rx="1.15" ry="1.45"/><ellipse cx="24.1" cy="17.4" rx="1.15" ry="1.45"/><ellipse cx="23.7" cy="11.5" rx="1.15" ry="1.45"/><ellipse cx="8.5" cy="12.3" rx="1.15" ry="1.45"/><ellipse cx="27.9" cy="1.3" rx="1.15" ry="1.45"/><ellipse cx="27.9" cy="33.3" rx="1.15" ry="1.45"/><ellipse cx="16.2" cy="7.9" rx="1.15" ry="1.45"/><ellipse cx="24.6" cy="11.3" rx="1.15" ry="1.45"/><ellipse cx="10.7" cy="12.9" rx="1.15" ry="1.45"/><ellipse cx="17.3" cy="24.7" rx="1.15" ry="1.45"/><ellipse cx="11.3" cy="27.1" rx="1.15" ry="1.45"/><ellipse cx="3.6" cy="8.7" rx="1.15" ry="1.45"/><ellipse cx="3.2" cy="3.6" rx="1.15" ry="1.45"/><ellipse cx="24.9" cy="23.3" rx="1.15" ry="1.45"/><ellipse cx="5.9" cy="6.1" rx="1.15" ry="1.45"/><ellipse cx="13.3" cy="23.8" rx="1.15" ry="1.45"/><ellipse cx="26.1" cy="24.0" rx="1.15" ry="1.45"/><ellipse cx="18.9" cy="4.7" rx="1.15" ry="1.45"/><ellipse cx="12.7" cy="6.2" rx="1.15" ry="1.45"/><ellipse cx="16.9" cy="18.2" rx="1.15" ry="1.45"/><ellipse cx="6.5" cy="8.0" rx="1.15" ry="1.45"/><ellipse cx="25.0" cy="1.0" rx="1.15" ry="1.45"/><ellipse cx="25.0" cy="33.0" rx="1.15" ry="1.45"/><ellipse cx="25.7" cy="28.5" rx="1.15" ry="1.45"/><ellipse cx="-1.6" cy="12.3" rx="1.15" ry="1.45"/><ellipse cx="30.4" cy="12.3" rx="1.15" ry="1.45"/><ellipse cx="17.7" cy="18.7" rx="1.15" ry="1.45"/><ellipse cx="20.3" cy="-0.7" rx="1.15" ry="1.45"/><ellipse cx="20.3" cy="31.3" rx="1.15" ry="1.45"/><ellipse cx="22.0" cy="9.6" rx="1.15" ry="1.45"/><ellipse cx="27.5" cy="15.5" rx="1.15" ry="1.45"/><ellipse cx="19.2" cy="23.3" rx="1.15" ry="1.45"/><ellipse cx="0.1" cy="24.7" rx="1.15" ry="1.45"/><ellipse cx="32.1" cy="24.7" rx="1.15" ry="1.45"/><ellipse cx="21.2" cy="15.7" rx="1.15" ry="1.45"/><ellipse cx="16.8" cy="14.7" rx="1.15" ry="1.45"/><ellipse cx="6.2" cy="16.9" rx="1.15" ry="1.45"/><ellipse cx="1.2" cy="16.0" rx="1.15" ry="1.45"/><ellipse cx="33.2" cy="16.0" rx="1.15" ry="1.45"/></g></pattern><pattern id="rs" width="32" height="32" patternUnits="userSpaceOnUse"><g fill="none" stroke="#ff6464" stroke-width="1"><ellipse cx="8.3" cy="21.9" rx="1.15" ry="1.45"/><ellipse cx="21.9" cy="27.2" rx="1.15" ry="1.45"/><ellipse cx="5.9" cy="7.4" rx="1.15" ry="1.45"/><ellipse cx="4.7" cy="7.2" rx="1.15" ry="1.45"/><ellipse cx="23.5" cy="4.2" rx="1.15" ry="1.45"/><ellipse cx="17.0" cy="6.8" rx="1.15" ry="1.45"/><ellipse cx="9.4" cy="13.8" rx="1.15" ry="1.45"/><ellipse cx="26.8" cy="19.5" rx="1.15" ry="1.45"/><ellipse cx="0.5" cy="8.8" rx="1.15" ry="1.45"/><ellipse cx="32.5" cy="8.8" rx="1.15" ry="1.45"/><ellipse cx="4.7" cy="27.9" rx="1.15" ry="1.45"/><ellipse cx="25.9" cy="25.8" rx="1.15" ry="1.45"/><ellipse cx="26.4" cy="23.8" rx="1.15" ry="1.45"/><ellipse cx="-1.6" cy="25.4" rx="1.15" ry="1.45"/><ellipse cx="30.4" cy="25.4" rx="1.15" ry="1.45"/><ellipse cx="8.2" cy="27.2" rx="1.15" ry="1.45"/><ellipse cx="15.6" cy="24.2" rx="1.15" ry="1.45"/><ellipse cx="18.1" cy="13.7" rx="1.15" ry="1.45"/><ellipse cx="11.7" cy="13.8" rx="1.15" ry="1.45"/><ellipse cx="10.0" cy="3.8" rx="1.15" ry="1.45"/><ellipse cx="26.2" cy="25.5" rx="1.15" ry="1.45"/><ellipse cx="-0.5" cy="22.1" rx="1.15" ry="1.45"/><ellipse cx="31.5" cy="22.1" rx="1.15" ry="1.45"/><ellipse cx="17.7" cy="23.9" rx="1.15" ry="1.45"/><ellipse cx="4.3" cy="21.7" rx="1.15" ry="1.45"/><ellipse cx="14.2" cy="5.7" rx="1.15" ry="1.45"/><ellipse cx="6.5" cy="16.7" rx="1.15" ry="1.45"/><ellipse cx="8.1" cy="14.7" rx="1.15" ry="1.45"/><ellipse cx="19.4" cy="12.7" rx="1.15" ry="1.45"/><ellipse cx="4.2" cy="15.7" rx="1.15" ry="1.45"/><ellipse cx="7.5" cy="7.5" rx="1.15" ry="1.45"/><ellipse cx="6.2" cy="11.7" rx="1.15" ry="1.45"/><ellipse cx="2.3" cy="20.8" rx="1.15" ry="1.45"/><ellipse cx="34.3" cy="20.8" rx="1.15" ry="1.45"/><ellipse cx="-1.5" cy="12.5" rx="1.15" ry="1.45"/><ellipse cx="30.5" cy="12.5" rx="1.15" ry="1.45"/><ellipse cx="23.0" cy="-2.1" rx="1.15" ry="1.45"/><ellipse cx="23.0" cy="29.9" rx="1.15" ry="1.45"/><ellipse cx="1.4" cy="4.5" rx="1.15" ry="1.45"/><ellipse cx="33.4" cy="4.5" rx="1.15" ry="1.45"/><ellipse cx="25.8" cy="26.8" rx="1.15" ry="1.45"/><ellipse cx="20.4" cy="5.1" rx="1.15" ry="1.45"/><ellipse cx="13.2" cy="27.8" rx="1.15" ry="1.45"/><ellipse cx="28.4" cy="25.7" rx="1.15" ry="1.45"/><ellipse cx="6.5" cy="27.3" rx="1.15" ry="1.45"/><ellipse cx="12.0" cy="22.9" rx="1.15" ry="1.45"/><ellipse cx="4.4" cy="-0.9" rx="1.15" ry="1.45"/><ellipse cx="4.4" cy="31.1" rx="1.15" ry="1.45"/><ellipse cx="19.3" cy="23.1" rx="1.15" ry="1.45"/><ellipse cx="6.8" cy="19.8" rx="1.15" ry="1.45"/><ellipse cx="18.6" cy="18.9" rx="1.15" ry="1.45"/><ellipse cx="11.5" cy="23.3" rx="1.15" ry="1.45"/><ellipse cx="10.9" cy="9.5" rx="1.15" ry="1.45"/><ellipse cx="5.3" cy="21.9" rx="1.15" ry="1.45"/><ellipse cx="3.6" cy="7.2" rx="1.15" ry="1.45"/><ellipse cx="2.2" cy="20.6" rx="1.15" ry="1.45"/><ellipse cx="34.2" cy="20.6" rx="1.15" ry="1.45"/><ellipse cx="17.8" cy="17.4" rx="1.15" ry="1.45"/><ellipse cx="1.2" cy="14.1" rx="1.15" ry="1.45"/><ellipse cx="33.2" cy="14.1" rx="1.15" ry="1.45"/><ellipse cx="11.0" cy="3.0" rx="1.15" ry="1.45"/><ellipse cx="11.0" cy="35.0" rx="1.15" ry="1.45"/><ellipse cx="0.1" cy="-0.1" rx="1.15" ry="1.45"/><ellipse cx="0.1" cy="31.9" rx="1.15" ry="1.45"/><ellipse cx="32.1" cy="-0.1" rx="1.15" ry="1.45"/><ellipse cx="32.1" cy="31.9" rx="1.15" ry="1.45"/><ellipse cx="3.9" cy="9.6" rx="1.15" ry="1.45"/><ellipse cx="8.6" cy="19.1" rx="1.15" ry="1.45"/><ellipse cx="2.5" cy="15.0" rx="1.15" ry="1.45"/><ellipse cx="34.5" cy="15.0" rx="1.15" ry="1.45"/><ellipse cx="11.7" cy="26.7" rx="1.15" ry="1.45"/><ellipse cx="0.2" cy="10.7" rx="1.15" ry="1.45"/><ellipse cx="32.2" cy="10.7" rx="1.15" ry="1.45"/><ellipse cx="15.9" cy="-1.0" rx="1.15" ry="1.45"/><ellipse cx="15.9" cy="31.0" rx="1.15" ry="1.45"/><ellipse cx="16.5" cy="15.2" rx="1.15" ry="1.45"/><ellipse cx="21.4" cy="9.5" rx="1.15" ry="1.45"/><ellipse cx="1.0" cy="16.0" rx="1.15" ry="1.45"/><ellipse cx="33.0" cy="16.0" rx="1.15" ry="1.45"/><ellipse cx="-2.9" cy="23.6" rx="1.15" ry="1.45"/><ellipse cx="29.1" cy="23.6" rx="1.15" ry="1.45"/><ellipse cx="8.3" cy="21.9" rx="1.15" ry="1.45"/><ellipse cx="27.2" cy="8.3" rx="1.15" ry="1.45"/><ellipse cx="18.8" cy="11.4" rx="1.15" ry="1.45"/><ellipse cx="7.8" cy="9.2" rx="1.15" ry="1.45"/><ellipse cx="6.5" cy="11.2" rx="1.15" ry="1.45"/><ellipse cx="1.2" cy="12.7" rx="1.15" ry="1.45"/><ellipse cx="33.2" cy="12.7" rx="1.15" ry="1.45"/><ellipse cx="2.8" cy="24.3" rx="1.15" ry="1.45"/><ellipse cx="34.8" cy="24.3" rx="1.15" ry="1.45"/><ellipse cx="19.2" cy="0.1" rx="1.15" ry="1.45"/><ellipse cx="19.2" cy="32.1" rx="1.15" ry="1.45"/><ellipse cx="24.8" cy="6.1" rx="1.15" ry="1.45"/><ellipse cx="15.4" cy="17.7" rx="1.15" ry="1.45"/><ellipse cx="10.7" cy="9.3" rx="1.15" ry="1.45"/><ellipse cx="13.9" cy="4.4" rx="1.15" ry="1.45"/><ellipse cx="27.6" cy="3.6" rx="1.15" ry="1.45"/><ellipse cx="26.4" cy="7.0" rx="1.15" ry="1.45"/><ellipse cx="9.7" cy="12.4" rx="1.15" ry="1.45"/><ellipse cx="1.1" cy="4.1" rx="1.15" ry="1.45"/><ellipse cx="33.1" cy="4.1" rx="1.15" ry="1.45"/><ellipse cx="11.6" cy="14.1" rx="1.15" ry="1.45"/><ellipse cx="28.0" cy="-0.3" rx="1.15" ry="1.45"/><ellipse cx="28.0" cy="31.7" rx="1.15" ry="1.45"/><ellipse cx="1.4" cy="17.1" rx="1.15" ry="1.45"/><ellipse cx="33.4" cy="17.1" rx="1.15" ry="1.45"/><ellipse cx="4.1" cy="25.7" rx="1.15" ry="1.45"/><ellipse cx="10.3" cy="28.6" rx="1.15" ry="1.45"/><ellipse cx="17.5" cy="4.0" rx="1.15" ry="1.45"/><ellipse cx="0.2" cy="7.9" rx="1.15" ry="1.45"/><ellipse cx="32.2" cy="7.9" rx="1.15" ry="1.45"/><ellipse cx="27.8" cy="4.8" rx="1.15" ry="1.45"/><ellipse cx="15.3" cy="11.9" rx="1.15" ry="1.45"/><ellipse cx="11.0" cy="25.7" rx="1.15" ry="1.45"/><ellipse cx="6.8" cy="23.0" rx="1.15" ry="1.45"/><ellipse cx="21.3" cy="-2.1" rx="1.15" ry="1.45"/><ellipse cx="21.3" cy="29.9" rx="1.15" ry="1.45"/><ellipse cx="16.6" cy="-2.5" rx="1.15" ry="1.45"/><ellipse cx="16.6" cy="29.5" rx="1.15" ry="1.45"/><ellipse cx="14.1" cy="18.3" rx="1.15" ry="1.45"/><ellipse cx="19.9" cy="26.9" rx="1.15" ry="1.45"/><ellipse cx="28.7" cy="3.7" rx="1.15" ry="1.45"/><ellipse cx="4.4" cy="17.1" rx="1.15" ry="1.45"/></g></pattern></defs>
<g clip-path="url(#pc)">
<g stroke="#b8b8b8" stroke-width="1"><line x1="113" x2="623" y1="441.5" y2="441.5"/><line x1="113" x2="623" y1="402.5" y2="402.5"/><line x1="113" x2="623" y1="362.5" y2="362.5"/><line x1="113" x2="623" y1="322.5" y2="322.5"/><line x1="113" x2="623" y1="283.5" y2="283.5"/><line x1="113" x2="623" y1="243.5" y2="243.5"/><line x1="113" x2="623" y1="203.5" y2="203.5"/><line x1="113" x2="623" y1="164.5" y2="164.5"/><line x1="113" x2="623" y1="124.5" y2="124.5"/></g>
<g fill="none" stroke="#6464ff" stroke-width="1"><ellipse cx="118.6" cy="315.4" rx="1.15" ry="1.45"/><ellipse cx="118.1" cy="313.4" rx="1.15" ry="1.45"/><ellipse cx="118.1" cy="316.7" rx="1.15" ry="1.45"/><ellipse cx="126.0" cy="295.3" rx="1.15" ry="1.45"/><ellipse cx="129.9" cy="298.5" rx="1.15" ry="1.45"/><ellipse cx="139.5" cy="307.4" rx="1.15" ry="1.45"/><ellipse cx="148.3" cy="298.6" rx="1.15" ry="1.45"/><ellipse cx="153.3" cy="294.6" rx="1.15" ry="1.45"/><ellipse cx="168.2" cy="302.2" rx="1.15" ry="1.45"/><ellipse cx="177.6" cy="287.8" rx="1.15" ry="1.45"/><ellipse cx="191.4" cy="296.8" rx="1.15" ry="1.45"/><ellipse cx="195.9" cy="285.2" rx="1.15" ry="1.45"/><ellipse cx="211.5" cy="282.9" rx="1.15" ry="1.45"/><ellipse cx="213.0" cy="279.2" rx="1.15" ry="1.45"/><ellipse cx="232.8" cy="282.2" rx="1.15" ry="1.45"/><ellipse cx="240.8" cy="267.0" rx="1.15" ry="1.45"/><ellipse cx="252.6" cy="251.2" rx="1.15" ry="1.45"/><ellipse cx="254.0" cy="241.8" rx="1.15" ry="1.45"/><ellipse cx="254.8" cy="256.5" rx="1.15" ry="1.45"/><ellipse cx="270.3" cy="294.7" rx="1.15" ry="1.45"/><ellipse cx="264.2" cy="272.8" rx="1.15" ry="1.45"/><ellipse cx="265.7" cy="337.3" rx="1.15" ry="1.45"/><ellipse cx="266.0" cy="336.7" rx="1.15" ry="1.45"/><ellipse cx="266.9" cy="347.4" rx="1.15" ry="1.45"/><ellipse cx="264.0" cy="316.9" rx="1.15" ry="1.45"/><ellipse cx="280.7" cy="268.4" rx="1.15" ry="1.45"/><ellipse cx="273.7" cy="267.0" rx="1.15" ry="1.45"/><ellipse cx="275.4" cy="328.9" rx="1.15" ry="1.45"/><ellipse cx="277.5" cy="333.7" rx="1.15" ry="1.45"/><ellipse cx="278.7" cy="334.4" rx="1.15" ry="1.45"/><ellipse cx="274.5" cy="330.1" rx="1.15" ry="1.45"/><ellipse cx="275.5" cy="259.8" rx="1.15" ry="1.45"/><ellipse cx="285.0" cy="310.3" rx="1.15" ry="1.45"/><ellipse cx="289.0" cy="263.4" rx="1.15" ry="1.45"/><ellipse cx="283.4" cy="308.6" rx="1.15" ry="1.45"/><ellipse cx="290.0" cy="254.1" rx="1.15" ry="1.45"/><ellipse cx="289.0" cy="262.3" rx="1.15" ry="1.45"/><ellipse cx="290.2" cy="265.3" rx="1.15" ry="1.45"/><ellipse cx="288.6" cy="322.6" rx="1.15" ry="1.45"/><ellipse cx="302.2" cy="274.6" rx="1.15" ry="1.45"/><ellipse cx="295.7" cy="289.5" rx="1.15" ry="1.45"/><ellipse cx="294.8" cy="257.2" rx="1.15" ry="1.45"/><ellipse cx="294.3" cy="255.2" rx="1.15" ry="1.45"/><ellipse cx="302.8" cy="332.4" rx="1.15" ry="1.45"/><ellipse cx="298.8" cy="296.2" rx="1.15" ry="1.45"/><ellipse cx="293.2" cy="333.0" rx="1.15" ry="1.45"/><ellipse cx="303.2" cy="329.1" rx="1.15" ry="1.45"/><ellipse cx="310.3" cy="253.1" rx="1.15" ry="1.45"/><ellipse cx="303.8" cy="255.5" rx="1.15" ry="1.45"/><ellipse cx="312.0" cy="337.3" rx="1.15" ry="1.45"/><ellipse cx="310.9" cy="326.3" rx="1.15" ry="1.45"/><ellipse cx="309.9" cy="335.2" rx="1.15" ry="1.45"/><ellipse cx="307.2" cy="337.6" rx="1.15" ry="1.45"/><ellipse cx="319.2" cy="259.2" rx="1.15" ry="1.45"/><ellipse cx="319.1" cy="260.0" rx="1.15" ry="1.45"/><ellipse cx="322.9" cy="335.3" rx="1.15" ry="1.45"/><ellipse cx="316.9" cy="352.0" rx="1.15" ry="1.45"/><ellipse cx="317.4" cy="344.8" rx="1.15" ry="1.45"/><ellipse cx="320.5" cy="252.7" rx="1.15" ry="1.45"/><ellipse cx="317.8" cy="271.9" rx="1.15" ry="1.45"/><ellipse cx="329.1" cy="324.0" rx="1.15" ry="1.45"/><ellipse cx="323.1" cy="263.4" rx="1.15" ry="1.45"/><ellipse cx="325.0" cy="261.1" rx="1.15" ry="1.45"/><ellipse cx="329.6" cy="245.1" rx="1.15" ry="1.45"/><ellipse cx="326.3" cy="335.2" rx="1.15" ry="1.45"/><ellipse cx="327.3" cy="338.3" rx="1.15" ry="1.45"/><ellipse cx="331.8" cy="239.1" rx="1.15" ry="1.45"/><ellipse cx="334.4" cy="299.7" rx="1.15" ry="1.45"/><ellipse cx="341.5" cy="381.5" rx="1.15" ry="1.45"/><ellipse cx="335.8" cy="355.1" rx="1.15" ry="1.45"/><ellipse cx="335.8" cy="355.1" rx="1.15" ry="1.45"/><ellipse cx="339.3" cy="361.3" rx="1.15" ry="1.45"/><ellipse cx="341.4" cy="379.3" rx="1.15" ry="1.45"/><ellipse cx="333.7" cy="269.4" rx="1.15" ry="1.45"/><ellipse cx="350.1" cy="333.9" rx="1.15" ry="1.45"/><ellipse cx="350.9" cy="278.7" rx="1.15" ry="1.45"/><ellipse cx="347.5" cy="277.1" rx="1.15" ry="1.45"/><ellipse cx="345.4" cy="286.8" rx="1.15" ry="1.45"/><ellipse cx="349.3" cy="272.4" rx="1.15" ry="1.45"/><ellipse cx="349.6" cy="339.1" rx="1.15" ry="1.45"/><ellipse cx="349.8" cy="272.2" rx="1.15" ry="1.45"/><ellipse cx="353.1" cy="273.8" rx="1.15" ry="1.45"/><ellipse cx="354.8" cy="274.1" rx="1.15" ry="1.45"/><ellipse cx="360.0" cy="249.4" rx="1.15" ry="1.45"/><ellipse cx="360.6" cy="242.9" rx="1.15" ry="1.45"/><ellipse cx="362.1" cy="231.0" rx="1.15" ry="1.45"/><ellipse cx="360.2" cy="249.8" rx="1.15" ry="1.45"/><ellipse cx="359.3" cy="334.1" rx="1.15" ry="1.45"/><ellipse cx="358.7" cy="340.5" rx="1.15" ry="1.45"/><ellipse cx="362.4" cy="233.5" rx="1.15" ry="1.45"/><ellipse cx="370.2" cy="306.4" rx="1.15" ry="1.45"/><ellipse cx="370.2" cy="217.4" rx="1.15" ry="1.45"/><ellipse cx="372.8" cy="322.6" rx="1.15" ry="1.45"/><ellipse cx="370.9" cy="216.5" rx="1.15" ry="1.45"/><ellipse cx="371.6" cy="230.6" rx="1.15" ry="1.45"/><ellipse cx="367.4" cy="315.9" rx="1.15" ry="1.45"/><ellipse cx="367.9" cy="224.8" rx="1.15" ry="1.45"/><ellipse cx="363.6" cy="312.0" rx="1.15" ry="1.45"/><ellipse cx="366.4" cy="316.5" rx="1.15" ry="1.45"/><ellipse cx="364.5" cy="226.9" rx="1.15" ry="1.45"/><ellipse cx="371.4" cy="309.6" rx="1.15" ry="1.45"/><ellipse cx="382.5" cy="244.1" rx="1.15" ry="1.45"/><ellipse cx="378.3" cy="222.9" rx="1.15" ry="1.45"/><ellipse cx="379.4" cy="227.3" rx="1.15" ry="1.45"/><ellipse cx="378.6" cy="229.4" rx="1.15" ry="1.45"/><ellipse cx="381.5" cy="319.6" rx="1.15" ry="1.45"/><ellipse cx="381.5" cy="321.2" rx="1.15" ry="1.45"/><ellipse cx="378.7" cy="228.1" rx="1.15" ry="1.45"/><ellipse cx="378.0" cy="306.1" rx="1.15" ry="1.45"/><ellipse cx="382.7" cy="242.3" rx="1.15" ry="1.45"/><ellipse cx="381.0" cy="320.6" rx="1.15" ry="1.45"/><ellipse cx="379.9" cy="234.5" rx="1.15" ry="1.45"/><ellipse cx="392.6" cy="318.3" rx="1.15" ry="1.45"/><ellipse cx="387.7" cy="237.8" rx="1.15" ry="1.45"/><ellipse cx="391.2" cy="319.5" rx="1.15" ry="1.45"/><ellipse cx="386.2" cy="236.5" rx="1.15" ry="1.45"/><ellipse cx="392.3" cy="234.3" rx="1.15" ry="1.45"/><ellipse cx="383.2" cy="244.3" rx="1.15" ry="1.45"/><ellipse cx="389.9" cy="242.0" rx="1.15" ry="1.45"/><ellipse cx="389.2" cy="235.9" rx="1.15" ry="1.45"/><ellipse cx="384.2" cy="243.1" rx="1.15" ry="1.45"/><ellipse cx="385.0" cy="240.1" rx="1.15" ry="1.45"/><ellipse cx="386.8" cy="237.2" rx="1.15" ry="1.45"/><ellipse cx="395.0" cy="330.4" rx="1.15" ry="1.45"/><ellipse cx="398.3" cy="317.6" rx="1.15" ry="1.45"/><ellipse cx="401.6" cy="241.9" rx="1.15" ry="1.45"/><ellipse cx="401.1" cy="321.5" rx="1.15" ry="1.45"/><ellipse cx="396.1" cy="323.9" rx="1.15" ry="1.45"/><ellipse cx="403.0" cy="326.9" rx="1.15" ry="1.45"/><ellipse cx="395.4" cy="327.2" rx="1.15" ry="1.45"/><ellipse cx="394.0" cy="326.7" rx="1.15" ry="1.45"/><ellipse cx="400.9" cy="243.1" rx="1.15" ry="1.45"/><ellipse cx="399.9" cy="239.8" rx="1.15" ry="1.45"/><ellipse cx="399.8" cy="317.8" rx="1.15" ry="1.45"/><ellipse cx="408.1" cy="322.7" rx="1.15" ry="1.45"/><ellipse cx="409.9" cy="256.5" rx="1.15" ry="1.45"/><ellipse cx="404.1" cy="250.7" rx="1.15" ry="1.45"/><ellipse cx="408.1" cy="321.4" rx="1.15" ry="1.45"/><ellipse cx="404.8" cy="244.3" rx="1.15" ry="1.45"/><ellipse cx="412.9" cy="337.1" rx="1.15" ry="1.45"/><ellipse cx="403.6" cy="329.4" rx="1.15" ry="1.45"/><ellipse cx="410.6" cy="256.3" rx="1.15" ry="1.45"/><ellipse cx="408.2" cy="244.4" rx="1.15" ry="1.45"/><ellipse cx="403.1" cy="330.2" rx="1.15" ry="1.45"/><ellipse cx="404.8" cy="245.9" rx="1.15" ry="1.45"/><ellipse cx="415.0" cy="268.7" rx="1.15" ry="1.45"/><ellipse cx="413.2" cy="340.7" rx="1.15" ry="1.45"/><ellipse cx="420.0" cy="342.6" rx="1.15" ry="1.45"/><ellipse cx="417.0" cy="344.2" rx="1.15" ry="1.45"/><ellipse cx="422.8" cy="344.9" rx="1.15" ry="1.45"/><ellipse cx="422.1" cy="348.0" rx="1.15" ry="1.45"/><ellipse cx="421.1" cy="270.1" rx="1.15" ry="1.45"/><ellipse cx="421.8" cy="347.2" rx="1.15" ry="1.45"/><ellipse cx="420.7" cy="271.4" rx="1.15" ry="1.45"/><ellipse cx="413.7" cy="267.5" rx="1.15" ry="1.45"/><ellipse cx="426.6" cy="349.6" rx="1.15" ry="1.45"/><ellipse cx="425.3" cy="346.4" rx="1.15" ry="1.45"/><ellipse cx="426.4" cy="348.9" rx="1.15" ry="1.45"/><ellipse cx="428.3" cy="273.0" rx="1.15" ry="1.45"/><ellipse cx="429.4" cy="347.1" rx="1.15" ry="1.45"/><ellipse cx="432.8" cy="285.6" rx="1.15" ry="1.45"/><ellipse cx="430.4" cy="288.1" rx="1.15" ry="1.45"/><ellipse cx="423.5" cy="279.2" rx="1.15" ry="1.45"/><ellipse cx="424.0" cy="271.2" rx="1.15" ry="1.45"/><ellipse cx="428.5" cy="273.1" rx="1.15" ry="1.45"/><ellipse cx="443.0" cy="371.5" rx="1.15" ry="1.45"/><ellipse cx="433.8" cy="352.0" rx="1.15" ry="1.45"/><ellipse cx="433.5" cy="348.1" rx="1.15" ry="1.45"/><ellipse cx="437.7" cy="292.9" rx="1.15" ry="1.45"/><ellipse cx="439.1" cy="286.2" rx="1.15" ry="1.45"/><ellipse cx="437.2" cy="292.4" rx="1.15" ry="1.45"/><ellipse cx="436.7" cy="293.0" rx="1.15" ry="1.45"/><ellipse cx="438.6" cy="289.7" rx="1.15" ry="1.45"/><ellipse cx="436.0" cy="299.9" rx="1.15" ry="1.45"/><ellipse cx="444.6" cy="370.9" rx="1.15" ry="1.45"/><ellipse cx="452.0" cy="375.4" rx="1.15" ry="1.45"/><ellipse cx="452.9" cy="374.6" rx="1.15" ry="1.45"/><ellipse cx="452.1" cy="330.2" rx="1.15" ry="1.45"/><ellipse cx="452.7" cy="329.6" rx="1.15" ry="1.45"/><ellipse cx="452.4" cy="376.4" rx="1.15" ry="1.45"/><ellipse cx="452.8" cy="376.7" rx="1.15" ry="1.45"/><ellipse cx="444.2" cy="370.9" rx="1.15" ry="1.45"/><ellipse cx="453.5" cy="333.6" rx="1.15" ry="1.45"/><ellipse cx="457.4" cy="386.0" rx="1.15" ry="1.45"/><ellipse cx="455.6" cy="378.7" rx="1.15" ry="1.45"/><ellipse cx="460.8" cy="336.1" rx="1.15" ry="1.45"/><ellipse cx="462.5" cy="378.1" rx="1.15" ry="1.45"/><ellipse cx="454.1" cy="377.1" rx="1.15" ry="1.45"/><ellipse cx="459.2" cy="348.1" rx="1.15" ry="1.45"/><ellipse cx="468.6" cy="384.1" rx="1.15" ry="1.45"/><ellipse cx="470.5" cy="358.8" rx="1.15" ry="1.45"/><ellipse cx="472.8" cy="401.2" rx="1.15" ry="1.45"/><ellipse cx="463.4" cy="344.3" rx="1.15" ry="1.45"/><ellipse cx="467.3" cy="385.3" rx="1.15" ry="1.45"/><ellipse cx="473.7" cy="374.9" rx="1.15" ry="1.45"/><ellipse cx="478.5" cy="369.3" rx="1.15" ry="1.45"/><ellipse cx="477.8" cy="354.4" rx="1.15" ry="1.45"/></g>
<g fill="none" stroke="#6464ff" stroke-width="1"><ellipse cx="339.4" cy="343.0" rx="1.15" ry="1.45"/><ellipse cx="337.0" cy="346.1" rx="1.15" ry="1.45"/><ellipse cx="343.4" cy="346.3" rx="1.15" ry="1.45"/><ellipse cx="339.2" cy="374.5" rx="1.15" ry="1.45"/><ellipse cx="340.9" cy="391.0" rx="1.15" ry="1.45"/><ellipse cx="340.4" cy="357.4" rx="1.15" ry="1.45"/><ellipse cx="341.7" cy="344.1" rx="1.15" ry="1.45"/><ellipse cx="344.9" cy="354.3" rx="1.15" ry="1.45"/><ellipse cx="339.3" cy="374.4" rx="1.15" ry="1.45"/><ellipse cx="336.7" cy="372.9" rx="1.15" ry="1.45"/><ellipse cx="344.3" cy="352.0" rx="1.15" ry="1.45"/><ellipse cx="345.4" cy="364.4" rx="1.15" ry="1.45"/><ellipse cx="343.5" cy="360.5" rx="1.15" ry="1.45"/><ellipse cx="339.4" cy="347.5" rx="1.15" ry="1.45"/><ellipse cx="335.1" cy="343.2" rx="1.15" ry="1.45"/><ellipse cx="345.9" cy="364.7" rx="1.15" ry="1.45"/><ellipse cx="340.1" cy="388.5" rx="1.15" ry="1.45"/><ellipse cx="341.7" cy="393.5" rx="1.15" ry="1.45"/><ellipse cx="338.9" cy="344.0" rx="1.15" ry="1.45"/><ellipse cx="345.1" cy="340.5" rx="1.15" ry="1.45"/><ellipse cx="343.7" cy="368.7" rx="1.15" ry="1.45"/><ellipse cx="345.8" cy="391.4" rx="1.15" ry="1.45"/><ellipse cx="342.3" cy="332.4" rx="1.15" ry="1.45"/><ellipse cx="335.3" cy="360.8" rx="1.15" ry="1.45"/><ellipse cx="344.0" cy="335.3" rx="1.15" ry="1.45"/><ellipse cx="339.7" cy="335.6" rx="1.15" ry="1.45"/><ellipse cx="338.4" cy="330.4" rx="1.15" ry="1.45"/><ellipse cx="338.6" cy="364.0" rx="1.15" ry="1.45"/><ellipse cx="337.2" cy="381.2" rx="1.15" ry="1.45"/><ellipse cx="335.6" cy="343.7" rx="1.15" ry="1.45"/><ellipse cx="337.8" cy="356.3" rx="1.15" ry="1.45"/><ellipse cx="343.4" cy="353.0" rx="1.15" ry="1.45"/><ellipse cx="342.6" cy="389.9" rx="1.15" ry="1.45"/><ellipse cx="336.4" cy="386.2" rx="1.15" ry="1.45"/><ellipse cx="341.6" cy="378.6" rx="1.15" ry="1.45"/><ellipse cx="341.7" cy="356.5" rx="1.15" ry="1.45"/><ellipse cx="336.1" cy="339.3" rx="1.15" ry="1.45"/><ellipse cx="336.9" cy="341.5" rx="1.15" ry="1.45"/><ellipse cx="336.6" cy="343.5" rx="1.15" ry="1.45"/><ellipse cx="341.2" cy="380.1" rx="1.15" ry="1.45"/><ellipse cx="343.8" cy="385.0" rx="1.15" ry="1.45"/><ellipse cx="336.3" cy="383.5" rx="1.15" ry="1.45"/><ellipse cx="337.0" cy="334.7" rx="1.15" ry="1.45"/><ellipse cx="338.2" cy="368.1" rx="1.15" ry="1.45"/><ellipse cx="335.5" cy="344.1" rx="1.15" ry="1.45"/><ellipse cx="339.4" cy="383.5" rx="1.15" ry="1.45"/><ellipse cx="339.4" cy="356.9" rx="1.15" ry="1.45"/><ellipse cx="339.1" cy="336.0" rx="1.15" ry="1.45"/><ellipse cx="344.7" cy="390.0" rx="1.15" ry="1.45"/><ellipse cx="342.9" cy="355.9" rx="1.15" ry="1.45"/><ellipse cx="339.9" cy="350.2" rx="1.15" ry="1.45"/><ellipse cx="342.2" cy="372.5" rx="1.15" ry="1.45"/><ellipse cx="338.4" cy="386.8" rx="1.15" ry="1.45"/><ellipse cx="342.9" cy="344.2" rx="1.15" ry="1.45"/><ellipse cx="343.9" cy="373.8" rx="1.15" ry="1.45"/><ellipse cx="337.7" cy="349.3" rx="1.15" ry="1.45"/><ellipse cx="343.3" cy="335.2" rx="1.15" ry="1.45"/><ellipse cx="339.8" cy="392.6" rx="1.15" ry="1.45"/><ellipse cx="337.8" cy="362.7" rx="1.15" ry="1.45"/><ellipse cx="345.0" cy="386.8" rx="1.15" ry="1.45"/><ellipse cx="343.7" cy="364.7" rx="1.15" ry="1.45"/><ellipse cx="345.2" cy="346.7" rx="1.15" ry="1.45"/><ellipse cx="344.7" cy="356.6" rx="1.15" ry="1.45"/><ellipse cx="342.2" cy="369.7" rx="1.15" ry="1.45"/><ellipse cx="338.1" cy="374.1" rx="1.15" ry="1.45"/><ellipse cx="341.6" cy="394.2" rx="1.15" ry="1.45"/><ellipse cx="342.3" cy="358.6" rx="1.15" ry="1.45"/><ellipse cx="339.2" cy="387.7" rx="1.15" ry="1.45"/><ellipse cx="338.8" cy="373.4" rx="1.15" ry="1.45"/><ellipse cx="342.6" cy="392.7" rx="1.15" ry="1.45"/><ellipse cx="337.1" cy="373.2" rx="1.15" ry="1.45"/><ellipse cx="336.9" cy="371.6" rx="1.15" ry="1.45"/><ellipse cx="342.2" cy="378.3" rx="1.15" ry="1.45"/><ellipse cx="344.5" cy="345.0" rx="1.15" ry="1.45"/><ellipse cx="344.5" cy="352.5" rx="1.15" ry="1.45"/><ellipse cx="339.4" cy="337.3" rx="1.15" ry="1.45"/><ellipse cx="340.8" cy="330.1" rx="1.15" ry="1.45"/><ellipse cx="338.4" cy="373.7" rx="1.15" ry="1.45"/><ellipse cx="343.2" cy="340.9" rx="1.15" ry="1.45"/><ellipse cx="343.6" cy="358.9" rx="1.15" ry="1.45"/><ellipse cx="337.3" cy="378.7" rx="1.15" ry="1.45"/><ellipse cx="343.1" cy="360.4" rx="1.15" ry="1.45"/><ellipse cx="340.8" cy="370.3" rx="1.15" ry="1.45"/><ellipse cx="341.9" cy="379.7" rx="1.15" ry="1.45"/><ellipse cx="343.5" cy="343.0" rx="1.15" ry="1.45"/><ellipse cx="335.2" cy="336.8" rx="1.15" ry="1.45"/><ellipse cx="338.4" cy="367.7" rx="1.15" ry="1.45"/><ellipse cx="345.6" cy="357.1" rx="1.15" ry="1.45"/><ellipse cx="339.1" cy="366.2" rx="1.15" ry="1.45"/><ellipse cx="345.4" cy="368.2" rx="1.15" ry="1.45"/><ellipse cx="338.2" cy="379.2" rx="1.15" ry="1.45"/><ellipse cx="345.9" cy="381.6" rx="1.15" ry="1.45"/><ellipse cx="339.4" cy="341.2" rx="1.15" ry="1.45"/><ellipse cx="340.1" cy="338.4" rx="1.15" ry="1.45"/><ellipse cx="336.4" cy="359.0" rx="1.15" ry="1.45"/><ellipse cx="344.4" cy="375.6" rx="1.15" ry="1.45"/><ellipse cx="339.6" cy="392.0" rx="1.15" ry="1.45"/><ellipse cx="337.0" cy="346.3" rx="1.15" ry="1.45"/><ellipse cx="338.0" cy="367.2" rx="1.15" ry="1.45"/><ellipse cx="344.8" cy="354.9" rx="1.15" ry="1.45"/><ellipse cx="344.1" cy="390.9" rx="1.15" ry="1.45"/><ellipse cx="340.3" cy="388.0" rx="1.15" ry="1.45"/><ellipse cx="344.8" cy="361.0" rx="1.15" ry="1.45"/><ellipse cx="336.9" cy="334.9" rx="1.15" ry="1.45"/><ellipse cx="337.6" cy="359.9" rx="1.15" ry="1.45"/><ellipse cx="335.2" cy="351.4" rx="1.15" ry="1.45"/><ellipse cx="340.4" cy="351.8" rx="1.15" ry="1.45"/><ellipse cx="343.1" cy="367.0" rx="1.15" ry="1.45"/><ellipse cx="340.9" cy="371.2" rx="1.15" ry="1.45"/><ellipse cx="341.4" cy="356.9" rx="1.15" ry="1.45"/><ellipse cx="336.8" cy="368.2" rx="1.15" ry="1.45"/><ellipse cx="335.5" cy="332.3" rx="1.15" ry="1.45"/><ellipse cx="338.8" cy="344.9" rx="1.15" ry="1.45"/><ellipse cx="343.3" cy="340.3" rx="1.15" ry="1.45"/><ellipse cx="339.8" cy="375.2" rx="1.15" ry="1.45"/><ellipse cx="339.6" cy="382.3" rx="1.15" ry="1.45"/><ellipse cx="336.3" cy="341.2" rx="1.15" ry="1.45"/><ellipse cx="338.0" cy="353.7" rx="1.15" ry="1.45"/><ellipse cx="341.2" cy="342.9" rx="1.15" ry="1.45"/><ellipse cx="341.1" cy="375.6" rx="1.15" ry="1.45"/><ellipse cx="342.2" cy="383.0" rx="1.15" ry="1.45"/><ellipse cx="335.9" cy="374.1" rx="1.15" ry="1.45"/><ellipse cx="343.0" cy="383.6" rx="1.15" ry="1.45"/><ellipse cx="336.7" cy="335.6" rx="1.15" ry="1.45"/><ellipse cx="343.4" cy="372.0" rx="1.15" ry="1.45"/><ellipse cx="336.8" cy="386.6" rx="1.15" ry="1.45"/><ellipse cx="342.9" cy="370.0" rx="1.15" ry="1.45"/><ellipse cx="343.4" cy="369.7" rx="1.15" ry="1.45"/><ellipse cx="338.7" cy="333.4" rx="1.15" ry="1.45"/><ellipse cx="338.8" cy="370.6" rx="1.15" ry="1.45"/><ellipse cx="337.1" cy="394.7" rx="1.15" ry="1.45"/><ellipse cx="336.7" cy="402.9" rx="1.15" ry="1.45"/><ellipse cx="341.8" cy="409.0" rx="1.15" ry="1.45"/><ellipse cx="336.1" cy="399.8" rx="1.15" ry="1.45"/><ellipse cx="340.1" cy="392.5" rx="1.15" ry="1.45"/><ellipse cx="340.8" cy="396.1" rx="1.15" ry="1.45"/><ellipse cx="338.7" cy="410.6" rx="1.15" ry="1.45"/><ellipse cx="341.2" cy="392.1" rx="1.15" ry="1.45"/><ellipse cx="340.9" cy="412.8" rx="1.15" ry="1.45"/><ellipse cx="341.0" cy="410.1" rx="1.15" ry="1.45"/><ellipse cx="338.2" cy="398.1" rx="1.15" ry="1.45"/><ellipse cx="336.3" cy="400.3" rx="1.15" ry="1.45"/><ellipse cx="337.8" cy="394.1" rx="1.15" ry="1.45"/><ellipse cx="341.7" cy="412.9" rx="1.15" ry="1.45"/><ellipse cx="340.9" cy="397.7" rx="1.15" ry="1.45"/><ellipse cx="336.7" cy="401.1" rx="1.15" ry="1.45"/><ellipse cx="336.4" cy="399.2" rx="1.15" ry="1.45"/><ellipse cx="339.6" cy="398.3" rx="1.15" ry="1.45"/><ellipse cx="338.0" cy="398.5" rx="1.15" ry="1.45"/><ellipse cx="341.0" cy="390.9" rx="1.15" ry="1.45"/><ellipse cx="340.9" cy="405.9" rx="1.15" ry="1.45"/><ellipse cx="339.3" cy="408.0" rx="1.15" ry="1.45"/><ellipse cx="336.1" cy="412.4" rx="1.15" ry="1.45"/><ellipse cx="337.7" cy="400.4" rx="1.15" ry="1.45"/><ellipse cx="339.1" cy="413.4" rx="1.15" ry="1.45"/><ellipse cx="296.7" cy="341.5" rx="1.15" ry="1.45"/><ellipse cx="299.0" cy="334.7" rx="1.15" ry="1.45"/><ellipse cx="297.9" cy="333.6" rx="1.15" ry="1.45"/><ellipse cx="297.7" cy="339.6" rx="1.15" ry="1.45"/><ellipse cx="297.7" cy="330.6" rx="1.15" ry="1.45"/><ellipse cx="296.6" cy="349.8" rx="1.15" ry="1.45"/><ellipse cx="296.5" cy="336.6" rx="1.15" ry="1.45"/><ellipse cx="299.0" cy="335.6" rx="1.15" ry="1.45"/></g>
<polygon points="113.0,289.0 115.0,292.1 117.0,291.9 119.4,296.9 121.8,294.9 124.0,299.9 126.5,296.1 128.8,299.2 131.0,301.6 133.5,306.3 135.3,304.0 138.2,296.9 141.2,293.4 144.1,289.8 146.5,294.5 148.2,299.2 150.6,288.6 153.0,295.7 155.3,292.2 157.6,294.5 159.4,298.0 161.2,294.5 163.5,285.0 165.9,292.2 168.2,289.8 170.0,285.0 172.4,288.6 174.7,287.5 177.6,289.8 180.0,287.5 183.0,282.0 185.3,285.2 187.7,284.8 190.0,286.0 192.3,285.5 194.7,285.6 197.0,287.5 199.5,288.8 202.0,290.0 204.0,289.7 206.0,290.1 208.0,293.0 210.5,287.3 213.0,281.0 215.5,286.4 218.0,291.5 220.0,293.0 222.0,293.0 224.0,290.5 226.0,290.3 228.0,289.0 230.5,285.4 233.0,282.0 235.0,274.5 237.0,271.0 240.0,268.0 242.0,265.8 245.0,261.4 247.0,256.1 249.0,250.9 250.5,244.7 251.7,236.3 253.4,239.3 254.2,246.2 255.9,232.4 257.6,218.7 259.2,228.3 260.0,239.9 261.7,252.7 263.4,267.7 265.0,281.6 266.8,295.2 269.0,309.4 271.5,298.4 273.0,284.0 274.3,268.9 276.8,273.8 279.4,278.8 281.0,270.5 282.7,255.4 284.4,245.3 286.0,255.2 287.8,260.3 290.0,267.4 292.0,271.4 294.0,273.3 295.0,263.3 296.5,321.2 298.0,311.2 299.0,293.7 302.0,275.5 305.0,261.3 307.0,275.4 309.0,277.3 311.0,267.1 313.0,285.3 315.0,299.2 317.0,291.1 319.0,271.0 320.0,258.9 322.0,270.9 324.0,276.8 327.0,276.7 329.0,266.6 331.0,246.4 333.0,250.3 334.5,320.2 336.0,368.0 339.0,365.5 340.6,352.0 342.6,330.8 344.4,305.2 345.3,287.0 347.6,287.9 350.0,276.7 352.4,284.6 354.7,277.3 357.0,279.3 359.4,260.0 361.8,243.2 364.1,233.7 366.5,240.9 368.8,229.3 371.2,227.0 373.5,253.0 375.9,241.3 378.2,230.8 380.6,243.9 383.0,246.4 385.3,244.1 387.6,241.9 390.0,245.5 392.4,243.3 394.7,256.3 397.0,247.0 399.4,238.9 401.8,252.0 404.1,256.8 406.5,250.4 408.8,251.3 411.2,264.0 413.5,272.0 415.9,275.4 418.2,280.9 420.0,277.7 422.2,284.1 424.4,281.7 426.6,289.1 428.7,284.5 430.9,294.1 433.1,291.7 435.3,303.5 437.5,297.8 439.2,297.4 440.8,312.3 443.0,320.9 445.1,324.0 447.3,328.3 449.5,330.3 451.7,334.5 453.9,334.3 456.1,340.8 458.3,352.6 460.4,347.0 462.6,344.7 464.8,348.9 467.0,356.4 469.2,353.1 471.4,365.3 473.6,380.0 475.7,375.0 477.9,354.8 480.1,345.5 482.3,336.1 484.5,330.1 486.7,336.0 489.9,340.3 493.2,341.5 496.5,347.0 500.0,352.4 501.0,354.1 504.0,360.3 506.0,368.5 508.0,378.6 510.0,390.7 512.0,398.7 514.0,402.8 516.0,402.8 518.0,408.8 520.0,413.0 522.0,406.9 525.0,400.9 528.0,402.9 531.0,405.9 533.0,407.1 535.0,408.0 537.2,407.6 539.4,407.0 541.4,407.2 543.4,406.0 545.5,405.1 547.5,404.1 550.5,403.1 553.5,406.1 556.5,409.1 559.6,409.1 561.5,410.1 565.0,408.4 568.6,406.6 572.0,407.2 575.6,408.5 579.0,406.7 581.1,406.1 583.3,405.5 586.2,409.1 589.8,412.7 593.3,414.4 595.6,414.8 598.0,414.4 600.4,415.4 602.7,416.3 605.0,416.3 607.4,415.7 609.7,415.6 612.0,415.7 615.6,417.6 619.2,418.8 619.6,419.0 619.6,425.0 619.2,424.8 615.6,423.6 612.0,421.9 609.7,421.8 607.4,421.9 605.0,422.5 602.7,422.5 600.4,421.7 598.0,420.8 595.6,421.2 593.3,420.8 589.8,419.1 586.2,415.7 583.3,412.1 581.1,412.6 579.0,413.3 575.6,415.1 572.0,414.0 568.6,413.4 565.0,415.2 561.5,416.9 559.6,416.1 556.5,416.1 553.5,413.1 550.5,410.1 547.5,411.1 545.5,412.2 543.4,413.2 541.4,414.4 539.4,414.2 537.2,414.8 535.0,415.2 533.0,414.4 531.0,413.3 528.0,410.3 525.0,408.3 522.0,414.3 520.0,420.4 518.0,416.4 516.0,410.4 514.0,410.4 512.0,406.3 510.0,398.3 508.0,386.2 506.0,376.1 504.0,368.1 501.0,361.9 500.0,360.2 496.5,354.8 493.2,349.3 489.9,348.3 486.7,344.0 484.5,338.8 482.3,347.5 480.1,359.7 477.9,371.8 475.7,394.8 473.6,402.5 471.4,390.6 469.2,380.7 467.0,385.7 464.8,379.9 462.6,377.4 460.4,381.4 458.3,388.6 456.1,378.4 453.9,373.7 451.7,375.5 449.5,373.0 447.3,372.7 445.1,370.1 443.0,368.6 440.8,361.7 439.2,347.9 437.5,349.4 435.3,356.5 433.1,346.1 430.9,349.8 428.7,341.6 426.6,347.6 424.4,341.5 422.2,345.3 420.0,340.3 418.2,344.6 415.9,340.5 413.5,338.7 411.2,332.1 408.8,320.9 406.5,321.5 404.1,328.8 401.8,324.2 399.4,311.5 397.0,319.8 394.7,329.3 392.4,316.5 390.0,318.9 387.6,315.5 385.3,317.9 383.0,320.4 380.6,318.1 378.2,305.2 375.9,316.1 373.5,328.0 371.2,302.2 368.8,304.7 366.5,316.5 364.1,309.5 361.8,318.9 359.4,331.5 357.0,346.7 354.7,340.8 352.4,344.1 350.0,332.1 347.6,338.9 345.3,331.6 344.4,347.3 342.6,367.9 340.6,383.7 339.0,400.2 336.0,416.7 334.5,375.9 333.0,308.3 331.0,304.3 329.0,324.4 327.0,334.5 324.0,334.5 322.0,328.5 320.0,316.4 319.0,328.5 317.0,348.6 315.0,356.6 313.0,342.6 311.0,324.4 309.0,334.5 307.0,332.5 305.0,318.4 302.0,332.5 299.0,350.6 298.0,368.0 296.5,378.0 295.0,320.0 294.0,330.0 292.0,328.0 290.0,324.0 287.8,316.8 286.0,311.7 284.4,301.7 282.7,311.7 281.0,326.8 279.4,335.0 276.8,330.0 274.3,325.0 273.0,340.0 271.5,353.6 269.0,360.6 266.8,342.8 265.0,326.4 263.4,309.9 261.7,291.4 260.0,271.2 259.2,256.2 257.6,239.6 255.9,246.4 254.2,259.7 253.4,252.5 251.7,249.0 250.5,257.0 249.0,262.7 247.0,267.3 245.0,271.9 242.0,275.4 240.0,277.0 237.0,280.1 235.0,283.7 233.0,291.2 230.5,294.7 228.0,298.3 226.0,299.7 224.0,299.9 222.0,302.5 220.0,302.5 218.0,301.1 215.5,296.1 213.0,290.7 210.5,297.0 208.0,302.9 206.0,300.0 204.0,299.6 202.0,300.0 199.5,298.9 197.0,297.7 194.7,295.8 192.3,295.8 190.0,296.3 187.7,295.2 185.3,295.7 183.0,292.5 180.0,298.1 177.6,300.5 174.7,298.2 172.4,299.4 170.0,295.9 168.2,300.7 165.9,303.2 163.5,296.0 161.2,305.6 159.4,309.2 157.6,305.7 155.3,303.5 153.0,307.0 150.6,300.0 148.2,310.7 146.5,306.0 144.1,301.4 141.2,305.0 138.2,308.6 135.3,315.8 133.5,318.2 131.0,313.5 128.8,311.2 126.5,309.1 124.0,314.5 121.8,311.0 119.4,314.6 117.0,311.3 115.0,312.8 113.0,311.0" fill="url(#bs)"/>
<polygon points="113.0,291.0 115.0,294.0 117.0,293.7 119.4,298.4 121.8,296.3 124.0,301.1 126.5,297.2 128.8,300.2 131.0,302.6 133.5,307.3 135.3,305.0 138.2,297.9 141.2,294.4 144.1,290.8 146.5,295.5 148.2,300.2 150.6,289.6 153.0,296.7 155.3,293.2 157.6,295.5 159.4,299.0 161.2,295.5 163.5,286.0 165.9,293.2 168.2,290.8 170.0,286.0 172.4,289.6 174.7,288.5 177.6,290.8 180.0,288.5 183.0,283.0 185.3,286.2 187.7,285.8 190.0,287.0 192.3,286.5 194.7,286.6 197.0,288.5 199.5,289.8 202.0,291.0 204.0,290.7 206.0,291.1 208.0,294.0 210.5,288.3 213.0,282.0 215.5,287.4 218.0,292.5 220.0,294.0 222.0,294.0 224.0,291.5 226.0,291.3 228.0,290.0 230.5,286.4 233.0,283.0 235.0,275.5 237.0,272.0 240.0,269.0 242.0,266.9 245.0,262.7 247.0,257.6 249.0,252.4 250.5,246.3 251.7,238.1 253.4,241.2 254.2,248.1 255.9,234.4 257.6,222.3 259.2,233.5 260.0,245.9 261.7,260.4 263.4,276.0 265.0,290.2 266.8,304.1 269.0,318.8 271.5,308.3 273.0,294.0 274.3,278.9 276.8,283.8 279.4,288.8 281.0,280.5 282.7,265.4 284.4,255.3 286.0,265.2 287.8,270.3 290.0,277.4 292.0,281.4 294.0,283.3 295.0,273.3 296.5,331.2 298.0,321.2 299.0,303.7 302.0,285.5 305.0,271.3 307.0,285.4 309.0,287.3 311.0,277.1 313.0,295.3 315.0,309.2 317.0,301.1 319.0,281.0 320.0,268.9 322.0,280.9 324.0,286.8 327.0,286.7 329.0,276.6 331.0,256.4 333.0,260.3 334.5,329.8 336.0,376.3 339.0,371.3 340.6,357.4 342.6,337.4 344.4,313.0 345.3,295.3 347.6,297.7 350.0,287.3 352.4,295.8 354.7,289.3 357.0,291.9 359.4,273.2 361.8,257.2 364.1,247.7 366.5,254.9 368.8,243.3 371.2,241.0 373.5,267.0 375.9,255.3 378.2,244.8 380.6,257.9 383.0,260.4 385.3,258.1 387.6,255.9 390.0,259.5 392.4,257.3 394.7,270.3 397.0,261.0 399.4,252.9 401.8,266.0 404.1,270.8 406.5,264.2 408.8,264.9 411.2,277.3 413.5,285.0 415.9,288.1 418.2,293.4 420.0,290.0 422.2,296.1 424.4,293.4 426.6,300.7 428.7,295.8 430.9,305.1 433.1,302.5 435.3,314.1 437.5,308.1 439.2,307.5 440.8,322.3 443.0,330.6 445.1,333.5 447.3,337.5 449.5,339.4 451.7,343.3 453.9,342.9 456.1,349.2 458.3,360.8 460.4,355.0 462.6,352.4 464.8,356.5 467.0,363.7 469.2,360.1 471.4,371.8 473.6,385.6 475.7,379.7 477.9,358.6 480.1,348.5 482.3,338.2 484.5,331.3 486.7,337.0 489.9,341.3 493.2,342.4 496.5,347.9 500.0,353.3 501.0,355.0 504.0,361.2 506.0,369.3 508.0,379.4 510.0,391.5 512.0,399.5 514.0,403.6 516.0,403.6 518.0,409.6 520.0,413.7 522.0,407.6 525.0,401.6 528.0,403.6 531.0,406.6 533.0,407.8 535.0,408.6 537.2,408.2 539.4,407.6 541.4,407.8 543.4,406.6 545.5,405.7 547.5,404.6 550.5,403.6 553.5,406.6 556.5,409.6 559.6,409.6 561.5,410.5 565.0,408.8 568.6,407.0 572.0,407.6 575.6,408.8 579.0,407.0 581.1,406.4 583.3,405.8 586.2,409.4 589.8,412.9 593.3,414.6 595.6,415.0 598.0,414.6 600.4,415.6 602.7,416.4 605.0,416.4 607.4,415.8 609.7,415.7 612.0,415.8 615.6,417.6 619.2,418.8 619.6,419.0 619.6,425.0 619.2,424.8 615.6,423.6 612.0,421.8 609.7,421.7 607.4,421.8 605.0,422.4 602.7,422.4 600.4,421.6 598.0,420.6 595.6,421.0 593.3,420.6 589.8,418.9 586.2,415.4 583.3,411.8 581.1,412.4 579.0,413.0 575.6,414.8 572.0,413.6 568.6,413.0 565.0,414.8 561.5,416.5 559.6,415.6 556.5,415.6 553.5,412.6 550.5,409.6 547.5,410.6 545.5,411.7 543.4,412.6 541.4,413.8 539.4,413.6 537.2,414.2 535.0,414.6 533.0,413.8 531.0,412.6 528.0,409.6 525.0,407.6 522.0,413.6 520.0,419.7 518.0,415.6 516.0,409.6 514.0,409.6 512.0,405.5 510.0,397.5 508.0,385.4 506.0,375.3 504.0,367.2 501.0,361.0 500.0,359.3 496.5,353.9 493.2,348.4 489.9,347.3 486.7,343.0 484.5,337.7 482.3,346.0 480.1,357.7 477.9,369.4 475.7,391.9 473.6,399.2 471.4,386.8 469.2,376.6 467.0,381.5 464.8,375.6 462.6,372.9 460.4,376.8 458.3,383.8 456.1,373.5 453.9,368.6 451.7,370.3 449.5,367.7 447.3,367.2 445.1,364.4 443.0,362.8 440.8,355.8 439.2,341.8 437.5,343.2 435.3,350.2 433.1,339.7 430.9,343.3 428.7,334.9 426.6,340.8 424.4,334.6 422.2,338.3 420.0,333.1 418.2,337.3 415.9,333.1 413.5,331.1 411.2,324.4 408.8,313.1 406.5,313.5 404.1,320.8 401.8,316.2 399.4,303.5 397.0,311.8 394.7,321.3 392.4,308.5 390.0,310.9 387.6,307.5 385.3,309.9 383.0,312.4 380.6,310.1 378.2,297.2 375.9,308.1 373.5,320.0 371.2,294.2 368.8,296.7 366.5,308.5 364.1,301.5 361.8,310.9 359.4,323.9 357.0,339.5 354.7,333.9 352.4,337.5 350.0,325.9 347.6,332.9 345.3,325.9 344.4,341.8 342.6,362.6 340.6,378.6 339.0,394.7 336.0,409.7 334.5,368.2 333.0,300.3 331.0,296.3 329.0,316.4 327.0,326.5 324.0,326.5 322.0,320.5 320.0,308.4 319.0,320.5 317.0,340.6 315.0,348.6 313.0,334.6 311.0,316.4 309.0,326.5 307.0,324.5 305.0,310.4 302.0,324.5 299.0,342.6 298.0,360.0 296.5,370.0 295.0,312.0 294.0,322.0 292.0,320.0 290.0,316.0 287.8,308.8 286.0,303.7 284.4,293.7 282.7,303.7 281.0,318.8 279.4,327.0 276.8,322.0 274.3,317.0 273.0,332.0 271.5,345.6 269.0,352.6 266.8,334.8 265.0,318.4 263.4,301.9 261.7,283.6 260.0,264.5 259.2,250.1 257.6,234.5 255.9,242.4 254.2,255.9 253.4,248.8 251.7,245.5 250.5,253.7 249.0,259.6 247.0,264.4 245.0,269.3 242.0,273.1 240.0,275.0 237.0,278.1 235.0,281.6 233.0,289.1 230.5,292.6 228.0,296.2 226.0,297.6 224.0,297.8 222.0,300.3 220.0,300.3 218.0,298.9 215.5,293.9 213.0,288.5 210.5,294.8 208.0,300.6 206.0,297.7 204.0,297.3 202.0,297.7 199.5,296.5 197.0,295.3 194.7,293.4 192.3,293.4 190.0,293.9 187.7,292.7 185.3,293.2 183.0,290.0 180.0,295.6 177.6,297.9 174.7,295.7 172.4,296.8 170.0,293.2 168.2,298.1 165.9,300.5 163.5,293.4 161.2,302.9 159.4,306.4 157.6,303.0 155.3,300.7 153.0,304.3 150.6,297.2 148.2,307.8 146.5,303.2 144.1,298.5 141.2,302.2 138.2,305.7 135.3,312.9 133.5,315.2 131.0,310.5 128.8,308.2 126.5,305.8 124.0,310.7 121.8,306.8 119.4,309.9 117.0,306.1 115.0,307.2 113.0,305.0" fill="url(#bd)"/>
<polygon points="113.0,295.0 115.0,297.9 117.0,297.4 119.4,302.0 121.8,299.7 124.0,304.4 126.5,300.3 128.8,303.2 131.0,305.6 133.5,310.3 135.3,308.0 138.2,300.9 141.2,297.4 144.1,293.8 146.5,298.5 148.2,303.2 150.6,292.6 153.0,299.7 155.3,296.2 157.6,298.5 159.4,302.0 161.2,298.5 163.5,289.0 165.9,296.2 168.2,293.8 170.0,289.0 172.4,292.6 174.7,291.5 177.6,293.8 180.0,291.5 183.0,286.0 185.3,289.2 187.7,288.8 190.0,290.0 192.3,289.5 194.7,289.6 197.0,291.5 199.5,292.8 202.0,294.0 204.0,293.7 206.0,294.1 208.0,297.0 210.5,291.3 213.0,285.0 215.5,290.4 218.0,295.5 220.0,297.0 222.0,297.0 224.0,294.5 226.0,294.3 228.0,293.0 230.5,289.4 233.0,286.0 235.0,278.5 237.0,275.0 240.0,272.0 242.0,270.0 245.0,266.0 247.0,261.0 249.0,256.0 250.5,250.0 251.7,241.8 253.4,245.0 254.2,252.0 255.9,238.4 257.6,227.7 259.2,240.5 260.0,253.5 261.7,269.6 263.4,286.2 265.0,301.4 266.8,316.3 269.0,332.1 271.5,323.0 273.0,309.0 274.3,294.0 276.8,299.0 279.4,304.0 281.0,295.8 282.7,280.7 284.4,270.7 286.0,280.7 287.8,285.8 290.0,293.0 292.0,297.0 294.0,299.0 295.0,289.0 296.5,347.0 298.0,337.0 299.0,319.6 302.0,301.5 305.0,287.4 307.0,301.5 309.0,303.5 311.0,293.4 313.0,311.6 315.0,325.6 317.0,317.6 319.0,297.5 320.0,285.4 322.0,297.5 324.0,303.5 327.0,303.5 329.0,293.4 331.0,273.3 333.0,277.3 334.5,346.1 336.0,390.3 339.0,380.8 340.6,365.9 342.6,347.7 344.4,325.0 345.3,308.1 347.6,312.5 350.0,304.0 352.4,314.5 354.7,309.8 357.0,314.3 359.4,297.6 361.8,283.5 364.1,274.1 366.5,281.2 368.8,269.5 371.2,267.1 373.5,293.0 375.9,281.2 378.2,270.5 380.6,283.5 383.0,285.9 385.3,283.5 387.6,281.2 390.0,284.7 392.4,282.4 394.7,295.3 397.0,285.9 399.4,277.7 401.8,290.6 404.1,295.3 406.5,288.3 408.8,288.3 411.2,300.0 413.5,307.2 415.9,309.6 418.2,314.2 420.0,310.4 422.2,315.9 424.4,312.6 426.6,319.3 428.7,313.8 430.9,322.5 433.1,319.4 435.3,330.3 437.5,323.8 439.2,322.7 440.8,337.0 443.0,344.7 445.1,346.9 447.3,350.2 449.5,351.4 451.7,354.6 453.9,353.5 456.1,359.1 458.3,370.0 460.4,363.5 462.6,360.3 464.8,363.6 467.0,370.1 469.2,365.9 471.4,377.0 473.6,390.5 475.7,384.2 477.9,362.8 480.1,352.3 482.3,341.7 484.5,334.4 486.7,340.0 489.9,344.3 493.2,345.4 496.5,350.9 500.0,356.3 501.0,358.0 504.0,364.2 506.0,372.3 508.0,382.4 510.0,394.5 512.0,402.5 514.0,406.6 516.0,406.6 518.0,412.6 520.0,416.7 522.0,410.6 525.0,404.6 528.0,406.6 531.0,409.6 533.0,410.8 535.0,411.6 537.2,411.2 539.4,410.6 541.4,410.8 543.4,409.6 545.5,408.7 547.5,407.6 550.5,406.6 553.5,409.6 556.5,412.6 559.6,412.6 561.5,413.5 565.0,411.8 568.6,410.0 572.0,410.6 575.6,411.8 579.0,410.0 581.1,409.4 583.3,408.8 586.2,412.4 589.8,415.9 593.3,417.6 595.6,418.0 598.0,417.6 600.4,418.6 602.7,419.4 605.0,419.4 607.4,418.8 609.7,418.7 612.0,418.8 615.6,420.6 619.2,421.8 619.6,422.0 619.6,422.0 619.2,421.8 615.6,420.6 612.0,418.8 609.7,418.7 607.4,418.8 605.0,419.4 602.7,419.4 600.4,418.6 598.0,417.6 595.6,418.0 593.3,417.6 589.8,415.9 586.2,412.4 583.3,408.8 581.1,409.4 579.0,410.0 575.6,411.8 572.0,410.6 568.6,410.0 565.0,411.8 561.5,413.5 559.6,412.6 556.5,412.6 553.5,409.6 550.5,406.6 547.5,407.6 545.5,408.7 543.4,409.6 541.4,410.8 539.4,410.6 537.2,411.2 535.0,411.6 533.0,410.8 531.0,409.6 528.0,406.6 525.0,404.6 522.0,410.6 520.0,416.7 518.0,412.6 516.0,406.6 514.0,406.6 512.0,402.5 510.0,394.5 508.0,382.4 506.0,372.3 504.0,364.2 501.0,358.0 500.0,356.3 496.5,350.9 493.2,345.4 489.9,344.3 486.7,340.0 484.5,334.6 482.3,342.6 480.1,353.9 477.9,365.2 475.7,387.4 473.6,394.3 471.4,381.6 469.2,370.9 467.0,375.2 464.8,368.8 462.6,365.5 460.4,368.9 458.3,375.4 456.1,364.5 453.9,359.1 451.7,360.2 449.5,357.0 447.3,356.0 445.1,352.7 443.0,350.6 440.8,343.0 439.2,328.7 437.5,329.8 435.3,336.5 433.1,325.6 430.9,328.9 428.7,320.2 426.6,325.7 424.4,319.2 422.2,322.5 420.0,317.0 418.2,321.0 415.9,316.4 413.5,314.0 411.2,307.0 408.8,295.3 406.5,295.3 404.1,302.3 401.8,297.6 399.4,284.7 397.0,292.9 394.7,302.3 392.4,289.4 390.0,291.7 387.6,288.2 385.3,290.5 383.0,292.9 380.6,290.5 378.2,277.5 375.9,288.2 373.5,300.0 371.2,274.1 368.8,276.5 366.5,288.2 364.1,281.1 361.8,290.5 359.4,304.4 357.0,320.9 354.7,316.2 352.4,320.7 350.0,310.0 347.6,318.1 345.3,313.1 344.4,329.8 342.6,352.3 340.6,370.1 339.0,385.2 336.0,395.7 334.5,351.9 333.0,283.3 331.0,279.3 329.0,299.4 327.0,309.5 324.0,309.5 322.0,303.5 320.0,291.4 319.0,303.5 317.0,323.6 315.0,331.6 313.0,317.6 311.0,299.4 309.0,309.5 307.0,307.5 305.0,293.4 302.0,307.5 299.0,325.6 298.0,343.0 296.5,353.0 295.0,295.0 294.0,305.0 292.0,303.0 290.0,299.0 287.8,291.8 286.0,286.7 284.4,276.7 282.7,286.7 281.0,301.8 279.4,310.0 276.8,305.0 274.3,300.0 273.0,315.0 271.5,329.0 269.0,337.9 266.8,321.7 265.0,306.6 263.4,291.4 261.7,274.4 260.0,256.9 259.2,243.1 257.6,229.1 255.9,238.4 254.2,252.0 253.4,245.0 251.7,241.8 250.5,250.0 249.0,256.0 247.0,261.0 245.0,266.0 242.0,270.0 240.0,272.0 237.0,275.0 235.0,278.5 233.0,286.0 230.5,289.4 228.0,293.0 226.0,294.3 224.0,294.5 222.0,297.0 220.0,297.0 218.0,295.5 215.5,290.4 213.0,285.0 210.5,291.3 208.0,297.0 206.0,294.1 204.0,293.7 202.0,294.0 199.5,292.8 197.0,291.5 194.7,289.6 192.3,289.5 190.0,290.0 187.7,288.8 185.3,289.2 183.0,286.0 180.0,291.5 177.6,293.8 174.7,291.5 172.4,292.6 170.0,289.0 168.2,293.8 165.9,296.2 163.5,289.0 161.2,298.5 159.4,302.0 157.6,298.5 155.3,296.2 153.0,299.7 150.6,292.6 148.2,303.2 146.5,298.5 144.1,293.8 141.2,297.4 138.2,300.9 135.3,308.0 133.5,310.3 131.0,305.6 128.8,303.2 126.5,300.3 124.0,304.4 121.8,299.7 119.4,302.0 117.0,297.4 115.0,297.9 113.0,295.0" fill="#6464ff"/>
<polyline points="113.0,295.0 115.0,297.9 117.0,297.4 119.4,302.0 121.8,299.7 124.0,304.4 126.5,300.3 128.8,303.2 131.0,305.6 133.5,310.3 135.3,308.0 138.2,300.9 141.2,297.4 144.1,293.8 146.5,298.5 148.2,303.2 150.6,292.6 153.0,299.7 155.3,296.2 157.6,298.5 159.4,302.0 161.2,298.5 163.5,289.0 165.9,296.2 168.2,293.8 170.0,289.0 172.4,292.6 174.7,291.5 177.6,293.8 180.0,291.5 183.0,286.0 185.3,289.2 187.7,288.8 190.0,290.0 192.3,289.5 194.7,289.6 197.0,291.5 199.5,292.8 202.0,294.0 204.0,293.7 206.0,294.1 208.0,297.0 210.5,291.3 213.0,285.0 215.5,290.4 218.0,295.5 220.0,297.0 222.0,297.0 224.0,294.5 226.0,294.3 228.0,293.0 230.5,289.4 233.0,286.0 235.0,278.5 237.0,275.0 240.0,272.0 242.0,270.0 245.0,266.0 247.0,261.0 249.0,256.0 250.5,250.0 251.7,241.8 253.4,245.0 254.2,252.0" fill="none" stroke="#6464ff" stroke-width="6.0" stroke-linejoin="round" stroke-linecap="round"/><polyline points="254.2,252.0 255.9,238.4" fill="none" stroke="#6464ff" stroke-width="5.5" stroke-linejoin="round" stroke-linecap="round"/><polyline points="255.9,238.4 257.6,228.4" fill="none" stroke="#6464ff" stroke-width="4.5" stroke-linejoin="round" stroke-linecap="round"/><polyline points="257.6,228.4 259.2,241.8" fill="none" stroke="#6464ff" stroke-width="3.0" stroke-linejoin="round" stroke-linecap="round"/><polyline points="259.2,241.8 260.0,255.2" fill="none" stroke="#6464ff" stroke-width="2.5" stroke-linejoin="round" stroke-linecap="round"/><polyline points="260.0,255.2 261.7,272.0 263.4,288.8" fill="none" stroke="#6464ff" stroke-width="2.0" stroke-linejoin="round" stroke-linecap="round"/><polyline points="263.4,288.8 265.0,304.0 266.8,319.0 269.0,335.0 271.5,326.0 273.0,312.0 274.3,297.0 276.8,302.0 279.4,307.0 281.0,298.8 282.7,283.7 284.4,273.7 286.0,283.7 287.8,288.8 290.0,296.0 292.0,300.0 294.0,302.0 295.0,292.0 296.5,350.0 298.0,340.0 299.0,322.6 302.0,304.5 305.0,290.4 307.0,304.5 309.0,306.5 311.0,296.4 313.0,314.6 315.0,328.6 317.0,320.6 319.0,300.5 320.0,288.4 322.0,300.5 324.0,306.5 327.0,306.5 329.0,296.4 331.0,276.3 333.0,280.3 334.5,349.0 336.0,393.0" fill="none" stroke="#6464ff" stroke-width="1.5" stroke-linejoin="round" stroke-linecap="round"/><polyline points="336.0,393.0 339.0,383.0 340.6,368.0" fill="none" stroke="#6464ff" stroke-width="2.0" stroke-linejoin="round" stroke-linecap="round"/><polyline points="340.6,368.0 342.6,350.0 344.4,327.4 345.3,310.6" fill="none" stroke="#6464ff" stroke-width="2.5" stroke-linejoin="round" stroke-linecap="round"/><polyline points="345.3,310.6 347.6,315.3" fill="none" stroke="#6464ff" stroke-width="2.0" stroke-linejoin="round" stroke-linecap="round"/><polyline points="347.6,315.3 350.0,307.0 352.4,317.6 354.7,313.0 357.0,317.6 359.4,301.0 361.8,287.0 364.1,277.6 366.5,284.7 368.8,273.0 371.2,270.6 373.5,296.5 375.9,284.7 378.2,274.0 380.6,287.0 383.0,289.4 385.3,287.0 387.6,284.7 390.0,288.2 392.4,285.9 394.7,298.8 397.0,289.4 399.4,281.2 401.8,294.1 404.1,298.8 406.5,291.8 408.8,291.8 411.2,303.5 413.5,310.6 415.9,313.0 418.2,317.6 420.0,313.7 422.2,319.2 424.4,315.9 426.6,322.5 428.7,317.0 430.9,325.7 433.1,322.5 435.3,333.4 437.5,326.8 439.2,325.7 440.8,340.0 443.0,347.6" fill="none" stroke="#6464ff" stroke-width="1.5" stroke-linejoin="round" stroke-linecap="round"/><polyline points="443.0,347.6 445.1,349.8 447.3,353.1" fill="none" stroke="#6464ff" stroke-width="2.0" stroke-linejoin="round" stroke-linecap="round"/><polyline points="447.3,353.1 449.5,354.2 451.7,357.4" fill="none" stroke="#6464ff" stroke-width="2.5" stroke-linejoin="round" stroke-linecap="round"/><polyline points="451.7,357.4 453.9,356.3 456.1,361.8 458.3,372.7" fill="none" stroke="#6464ff" stroke-width="3.0" stroke-linejoin="round" stroke-linecap="round"/><polyline points="458.3,372.7 460.4,366.2 462.6,362.9" fill="none" stroke="#6464ff" stroke-width="3.5" stroke-linejoin="round" stroke-linecap="round"/><polyline points="462.6,362.9 464.8,366.2 467.0,372.7" fill="none" stroke="#6464ff" stroke-width="4.0" stroke-linejoin="round" stroke-linecap="round"/><polyline points="467.0,372.7 469.2,368.4 471.4,379.3" fill="none" stroke="#6464ff" stroke-width="4.5" stroke-linejoin="round" stroke-linecap="round"/><polyline points="471.4,379.3 473.6,392.4 475.7,385.8" fill="none" stroke="#6464ff" stroke-width="5.0" stroke-linejoin="round" stroke-linecap="round"/><polyline points="475.7,385.8 477.9,364.0 480.1,353.1 482.3,342.1 484.5,334.5 486.7,340.0 489.9,344.3 493.2,345.4 496.5,350.9 500.0,356.3 501.0,358.0 504.0,364.2 506.0,372.3 508.0,382.4" fill="none" stroke="#6464ff" stroke-width="5.5" stroke-linejoin="round" stroke-linecap="round"/><polyline points="508.0,382.4 510.0,394.5 512.0,402.5 514.0,406.6 516.0,406.6 518.0,412.6 520.0,416.7 522.0,410.6 525.0,404.6 528.0,406.6 531.0,409.6 533.0,410.8 535.0,411.6 537.2,411.2 539.4,410.6 541.4,410.8 543.4,409.6 545.5,408.7 547.5,407.6 550.5,406.6 553.5,409.6 556.5,412.6 559.6,412.6 561.5,413.5 565.0,411.8 568.6,410.0 572.0,410.6 575.6,411.8 579.0,410.0 581.1,409.4 583.3,408.8 586.2,412.4 589.8,415.9 593.3,417.6 595.6,418.0 598.0,417.6 600.4,418.6 602.7,419.4 605.0,419.4 607.4,418.8 609.7,418.7 612.0,418.8 615.6,420.6 619.2,421.8 619.6,422.0" fill="none" stroke="#6464ff" stroke-width="6.0" stroke-linejoin="round" stroke-linecap="round"/>
<g fill="none" stroke="#64ff64" stroke-width="1"><ellipse cx="118.5" cy="346.3" rx="1.15" ry="1.45"/><ellipse cx="117.3" cy="326.8" rx="1.15" ry="1.45"/><ellipse cx="123.8" cy="325.2" rx="1.15" ry="1.45"/><ellipse cx="139.9" cy="312.9" rx="1.15" ry="1.45"/><ellipse cx="145.1" cy="321.7" rx="1.15" ry="1.45"/><ellipse cx="160.2" cy="340.4" rx="1.15" ry="1.45"/><ellipse cx="166.6" cy="327.8" rx="1.15" ry="1.45"/><ellipse cx="180.1" cy="320.7" rx="1.15" ry="1.45"/><ellipse cx="192.1" cy="304.0" rx="1.15" ry="1.45"/><ellipse cx="196.2" cy="305.7" rx="1.15" ry="1.45"/><ellipse cx="205.5" cy="308.5" rx="1.15" ry="1.45"/><ellipse cx="217.0" cy="314.0" rx="1.15" ry="1.45"/><ellipse cx="231.0" cy="311.1" rx="1.15" ry="1.45"/><ellipse cx="234.8" cy="325.1" rx="1.15" ry="1.45"/><ellipse cx="243.2" cy="327.1" rx="1.15" ry="1.45"/><ellipse cx="248.7" cy="356.0" rx="1.15" ry="1.45"/><ellipse cx="251.0" cy="286.6" rx="1.15" ry="1.45"/><ellipse cx="250.9" cy="292.6" rx="1.15" ry="1.45"/><ellipse cx="250.4" cy="341.1" rx="1.15" ry="1.45"/><ellipse cx="249.3" cy="307.4" rx="1.15" ry="1.45"/><ellipse cx="255.5" cy="268.8" rx="1.15" ry="1.45"/><ellipse cx="258.2" cy="318.4" rx="1.15" ry="1.45"/><ellipse cx="256.4" cy="320.3" rx="1.15" ry="1.45"/><ellipse cx="257.9" cy="268.9" rx="1.15" ry="1.45"/><ellipse cx="260.1" cy="353.2" rx="1.15" ry="1.45"/><ellipse cx="261.3" cy="386.0" rx="1.15" ry="1.45"/><ellipse cx="271.3" cy="384.9" rx="1.15" ry="1.45"/><ellipse cx="269.4" cy="339.6" rx="1.15" ry="1.45"/><ellipse cx="271.0" cy="335.6" rx="1.15" ry="1.45"/><ellipse cx="264.5" cy="373.9" rx="1.15" ry="1.45"/><ellipse cx="266.8" cy="333.6" rx="1.15" ry="1.45"/><ellipse cx="267.2" cy="328.0" rx="1.15" ry="1.45"/><ellipse cx="276.1" cy="306.6" rx="1.15" ry="1.45"/><ellipse cx="280.8" cy="315.3" rx="1.15" ry="1.45"/><ellipse cx="277.6" cy="360.1" rx="1.15" ry="1.45"/><ellipse cx="273.4" cy="319.3" rx="1.15" ry="1.45"/><ellipse cx="275.2" cy="303.0" rx="1.15" ry="1.45"/><ellipse cx="278.9" cy="304.1" rx="1.15" ry="1.45"/><ellipse cx="275.8" cy="304.5" rx="1.15" ry="1.45"/><ellipse cx="288.5" cy="353.7" rx="1.15" ry="1.45"/><ellipse cx="285.6" cy="359.5" rx="1.15" ry="1.45"/><ellipse cx="286.4" cy="305.2" rx="1.15" ry="1.45"/><ellipse cx="287.8" cy="312.7" rx="1.15" ry="1.45"/><ellipse cx="292.5" cy="354.9" rx="1.15" ry="1.45"/><ellipse cx="288.3" cy="308.8" rx="1.15" ry="1.45"/><ellipse cx="292.9" cy="351.7" rx="1.15" ry="1.45"/><ellipse cx="297.7" cy="386.5" rx="1.15" ry="1.45"/><ellipse cx="300.1" cy="369.7" rx="1.15" ry="1.45"/><ellipse cx="294.6" cy="316.7" rx="1.15" ry="1.45"/><ellipse cx="301.7" cy="306.7" rx="1.15" ry="1.45"/><ellipse cx="302.9" cy="302.8" rx="1.15" ry="1.45"/><ellipse cx="294.5" cy="359.0" rx="1.15" ry="1.45"/><ellipse cx="301.2" cy="361.3" rx="1.15" ry="1.45"/><ellipse cx="305.7" cy="343.3" rx="1.15" ry="1.45"/><ellipse cx="307.8" cy="297.2" rx="1.15" ry="1.45"/><ellipse cx="308.9" cy="356.8" rx="1.15" ry="1.45"/><ellipse cx="310.9" cy="298.5" rx="1.15" ry="1.45"/><ellipse cx="303.9" cy="345.4" rx="1.15" ry="1.45"/><ellipse cx="308.4" cy="310.1" rx="1.15" ry="1.45"/><ellipse cx="311.3" cy="307.7" rx="1.15" ry="1.45"/><ellipse cx="316.1" cy="335.1" rx="1.15" ry="1.45"/><ellipse cx="316.6" cy="379.3" rx="1.15" ry="1.45"/><ellipse cx="316.9" cy="325.8" rx="1.15" ry="1.45"/><ellipse cx="321.3" cy="353.2" rx="1.15" ry="1.45"/><ellipse cx="316.8" cy="378.8" rx="1.15" ry="1.45"/><ellipse cx="318.6" cy="313.6" rx="1.15" ry="1.45"/><ellipse cx="322.9" cy="360.7" rx="1.15" ry="1.45"/><ellipse cx="325.9" cy="316.4" rx="1.15" ry="1.45"/><ellipse cx="326.0" cy="318.0" rx="1.15" ry="1.45"/><ellipse cx="329.7" cy="312.9" rx="1.15" ry="1.45"/><ellipse cx="330.3" cy="304.0" rx="1.15" ry="1.45"/><ellipse cx="328.6" cy="358.6" rx="1.15" ry="1.45"/><ellipse cx="331.3" cy="311.2" rx="1.15" ry="1.45"/><ellipse cx="323.9" cy="365.7" rx="1.15" ry="1.45"/><ellipse cx="337.0" cy="446.0" rx="1.15" ry="1.45"/><ellipse cx="333.9" cy="323.4" rx="1.15" ry="1.45"/><ellipse cx="334.2" cy="334.9" rx="1.15" ry="1.45"/><ellipse cx="342.2" cy="371.3" rx="1.15" ry="1.45"/><ellipse cx="339.5" cy="440.2" rx="1.15" ry="1.45"/><ellipse cx="336.9" cy="397.0" rx="1.15" ry="1.45"/><ellipse cx="333.2" cy="312.8" rx="1.15" ry="1.45"/><ellipse cx="350.9" cy="371.2" rx="1.15" ry="1.45"/><ellipse cx="343.2" cy="365.5" rx="1.15" ry="1.45"/><ellipse cx="349.5" cy="323.1" rx="1.15" ry="1.45"/><ellipse cx="348.1" cy="379.9" rx="1.15" ry="1.45"/><ellipse cx="349.1" cy="322.2" rx="1.15" ry="1.45"/><ellipse cx="352.0" cy="329.8" rx="1.15" ry="1.45"/><ellipse cx="348.0" cy="326.8" rx="1.15" ry="1.45"/><ellipse cx="358.2" cy="369.1" rx="1.15" ry="1.45"/><ellipse cx="355.0" cy="379.2" rx="1.15" ry="1.45"/><ellipse cx="355.0" cy="333.1" rx="1.15" ry="1.45"/><ellipse cx="358.8" cy="362.3" rx="1.15" ry="1.45"/><ellipse cx="362.3" cy="301.2" rx="1.15" ry="1.45"/><ellipse cx="354.2" cy="377.8" rx="1.15" ry="1.45"/><ellipse cx="368.4" cy="338.9" rx="1.15" ry="1.45"/><ellipse cx="365.6" cy="346.7" rx="1.15" ry="1.45"/><ellipse cx="371.2" cy="339.4" rx="1.15" ry="1.45"/><ellipse cx="371.2" cy="292.0" rx="1.15" ry="1.45"/><ellipse cx="365.4" cy="345.1" rx="1.15" ry="1.45"/><ellipse cx="364.9" cy="299.7" rx="1.15" ry="1.45"/><ellipse cx="374.8" cy="353.1" rx="1.15" ry="1.45"/><ellipse cx="379.6" cy="287.2" rx="1.15" ry="1.45"/><ellipse cx="380.4" cy="292.9" rx="1.15" ry="1.45"/><ellipse cx="381.0" cy="300.1" rx="1.15" ry="1.45"/><ellipse cx="377.7" cy="293.3" rx="1.15" ry="1.45"/><ellipse cx="378.7" cy="285.9" rx="1.15" ry="1.45"/><ellipse cx="375.6" cy="345.1" rx="1.15" ry="1.45"/><ellipse cx="383.4" cy="341.9" rx="1.15" ry="1.45"/><ellipse cx="392.6" cy="342.1" rx="1.15" ry="1.45"/><ellipse cx="387.1" cy="348.1" rx="1.15" ry="1.45"/><ellipse cx="390.6" cy="340.7" rx="1.15" ry="1.45"/><ellipse cx="392.9" cy="347.1" rx="1.15" ry="1.45"/><ellipse cx="387.1" cy="301.9" rx="1.15" ry="1.45"/><ellipse cx="398.3" cy="299.1" rx="1.15" ry="1.45"/><ellipse cx="402.0" cy="303.7" rx="1.15" ry="1.45"/><ellipse cx="400.3" cy="342.9" rx="1.15" ry="1.45"/><ellipse cx="399.0" cy="339.9" rx="1.15" ry="1.45"/><ellipse cx="398.9" cy="301.9" rx="1.15" ry="1.45"/><ellipse cx="397.5" cy="299.4" rx="1.15" ry="1.45"/><ellipse cx="409.9" cy="307.9" rx="1.15" ry="1.45"/><ellipse cx="406.1" cy="303.9" rx="1.15" ry="1.45"/><ellipse cx="403.7" cy="347.9" rx="1.15" ry="1.45"/><ellipse cx="409.7" cy="345.9" rx="1.15" ry="1.45"/><ellipse cx="411.1" cy="305.0" rx="1.15" ry="1.45"/><ellipse cx="408.7" cy="342.0" rx="1.15" ry="1.45"/><ellipse cx="410.9" cy="307.0" rx="1.15" ry="1.45"/><ellipse cx="413.0" cy="314.9" rx="1.15" ry="1.45"/><ellipse cx="416.2" cy="313.3" rx="1.15" ry="1.45"/><ellipse cx="421.2" cy="324.3" rx="1.15" ry="1.45"/><ellipse cx="418.9" cy="326.5" rx="1.15" ry="1.45"/><ellipse cx="422.0" cy="324.1" rx="1.15" ry="1.45"/><ellipse cx="422.3" cy="364.8" rx="1.15" ry="1.45"/><ellipse cx="426.0" cy="366.2" rx="1.15" ry="1.45"/><ellipse cx="425.0" cy="361.6" rx="1.15" ry="1.45"/><ellipse cx="427.7" cy="322.6" rx="1.15" ry="1.45"/><ellipse cx="433.0" cy="332.9" rx="1.15" ry="1.45"/><ellipse cx="424.9" cy="360.2" rx="1.15" ry="1.45"/><ellipse cx="424.1" cy="362.6" rx="1.15" ry="1.45"/><ellipse cx="441.7" cy="376.6" rx="1.15" ry="1.45"/><ellipse cx="440.0" cy="374.9" rx="1.15" ry="1.45"/><ellipse cx="433.8" cy="337.5" rx="1.15" ry="1.45"/><ellipse cx="440.1" cy="340.2" rx="1.15" ry="1.45"/><ellipse cx="435.4" cy="378.8" rx="1.15" ry="1.45"/><ellipse cx="436.7" cy="376.1" rx="1.15" ry="1.45"/><ellipse cx="445.3" cy="341.1" rx="1.15" ry="1.45"/><ellipse cx="449.7" cy="349.4" rx="1.15" ry="1.45"/><ellipse cx="443.9" cy="380.6" rx="1.15" ry="1.45"/><ellipse cx="448.3" cy="352.0" rx="1.15" ry="1.45"/><ellipse cx="449.0" cy="351.3" rx="1.15" ry="1.45"/><ellipse cx="451.0" cy="355.7" rx="1.15" ry="1.45"/><ellipse cx="455.5" cy="362.2" rx="1.15" ry="1.45"/><ellipse cx="454.9" cy="394.3" rx="1.15" ry="1.45"/><ellipse cx="453.3" cy="356.1" rx="1.15" ry="1.45"/><ellipse cx="456.8" cy="396.0" rx="1.15" ry="1.45"/><ellipse cx="468.6" cy="402.0" rx="1.15" ry="1.45"/><ellipse cx="469.6" cy="403.8" rx="1.15" ry="1.45"/><ellipse cx="468.1" cy="402.9" rx="1.15" ry="1.45"/><ellipse cx="468.2" cy="400.9" rx="1.15" ry="1.45"/><ellipse cx="474.7" cy="412.0" rx="1.15" ry="1.45"/><ellipse cx="477.4" cy="395.4" rx="1.15" ry="1.45"/></g>
<g fill="none" stroke="#64ff64" stroke-width="1"><ellipse cx="258.0" cy="272.8" rx="1.15" ry="1.45"/><ellipse cx="256.9" cy="274.4" rx="1.15" ry="1.45"/><ellipse cx="259.8" cy="274.5" rx="1.15" ry="1.45"/><ellipse cx="257.9" cy="289.3" rx="1.15" ry="1.45"/><ellipse cx="258.7" cy="297.9" rx="1.15" ry="1.45"/><ellipse cx="258.4" cy="280.3" rx="1.15" ry="1.45"/><ellipse cx="259.1" cy="273.4" rx="1.15" ry="1.45"/><ellipse cx="260.5" cy="278.7" rx="1.15" ry="1.45"/><ellipse cx="257.9" cy="289.2" rx="1.15" ry="1.45"/><ellipse cx="256.8" cy="288.5" rx="1.15" ry="1.45"/><ellipse cx="260.2" cy="277.5" rx="1.15" ry="1.45"/><ellipse cx="260.7" cy="284.0" rx="1.15" ry="1.45"/><ellipse cx="259.9" cy="281.9" rx="1.15" ry="1.45"/><ellipse cx="258.0" cy="275.2" rx="1.15" ry="1.45"/><ellipse cx="256.0" cy="272.9" rx="1.15" ry="1.45"/><ellipse cx="260.9" cy="284.2" rx="1.15" ry="1.45"/><ellipse cx="258.3" cy="296.6" rx="1.15" ry="1.45"/><ellipse cx="259.0" cy="299.2" rx="1.15" ry="1.45"/><ellipse cx="257.8" cy="273.3" rx="1.15" ry="1.45"/><ellipse cx="260.6" cy="271.5" rx="1.15" ry="1.45"/><ellipse cx="260.0" cy="286.2" rx="1.15" ry="1.45"/><ellipse cx="260.9" cy="298.1" rx="1.15" ry="1.45"/><ellipse cx="259.3" cy="267.3" rx="1.15" ry="1.45"/><ellipse cx="256.1" cy="282.1" rx="1.15" ry="1.45"/><ellipse cx="260.1" cy="268.8" rx="1.15" ry="1.45"/><ellipse cx="258.1" cy="268.9" rx="1.15" ry="1.45"/><ellipse cx="257.5" cy="266.2" rx="1.15" ry="1.45"/><ellipse cx="257.6" cy="283.8" rx="1.15" ry="1.45"/><ellipse cx="257.0" cy="292.8" rx="1.15" ry="1.45"/><ellipse cx="256.3" cy="273.2" rx="1.15" ry="1.45"/><ellipse cx="296.3" cy="422.2" rx="1.15" ry="1.45"/><ellipse cx="298.8" cy="419.5" rx="1.15" ry="1.45"/><ellipse cx="298.5" cy="450.7" rx="1.15" ry="1.45"/><ellipse cx="295.7" cy="447.5" rx="1.15" ry="1.45"/><ellipse cx="298.0" cy="441.1" rx="1.15" ry="1.45"/><ellipse cx="298.0" cy="422.5" rx="1.15" ry="1.45"/><ellipse cx="295.5" cy="407.9" rx="1.15" ry="1.45"/><ellipse cx="295.9" cy="409.8" rx="1.15" ry="1.45"/><ellipse cx="295.7" cy="411.4" rx="1.15" ry="1.45"/><ellipse cx="297.8" cy="442.4" rx="1.15" ry="1.45"/><ellipse cx="299.0" cy="446.5" rx="1.15" ry="1.45"/><ellipse cx="295.6" cy="445.2" rx="1.15" ry="1.45"/><ellipse cx="295.9" cy="404.0" rx="1.15" ry="1.45"/><ellipse cx="296.4" cy="432.2" rx="1.15" ry="1.45"/><ellipse cx="295.2" cy="411.9" rx="1.15" ry="1.45"/><ellipse cx="297.0" cy="445.2" rx="1.15" ry="1.45"/><ellipse cx="297.0" cy="422.8" rx="1.15" ry="1.45"/><ellipse cx="296.9" cy="405.1" rx="1.15" ry="1.45"/><ellipse cx="299.4" cy="450.8" rx="1.15" ry="1.45"/><ellipse cx="298.6" cy="421.9" rx="1.15" ry="1.45"/><ellipse cx="297.2" cy="417.1" rx="1.15" ry="1.45"/><ellipse cx="298.3" cy="435.9" rx="1.15" ry="1.45"/><ellipse cx="338.1" cy="438.7" rx="1.15" ry="1.45"/><ellipse cx="342.2" cy="405.9" rx="1.15" ry="1.45"/><ellipse cx="343.1" cy="428.7" rx="1.15" ry="1.45"/><ellipse cx="337.5" cy="409.8" rx="1.15" ry="1.45"/><ellipse cx="342.5" cy="399.0" rx="1.15" ry="1.45"/><ellipse cx="339.4" cy="443.2" rx="1.15" ry="1.45"/><ellipse cx="337.6" cy="420.2" rx="1.15" ry="1.45"/><ellipse cx="344.1" cy="438.7" rx="1.15" ry="1.45"/><ellipse cx="342.9" cy="421.7" rx="1.15" ry="1.45"/><ellipse cx="344.3" cy="407.8" rx="1.15" ry="1.45"/><ellipse cx="343.8" cy="415.5" rx="1.15" ry="1.45"/><ellipse cx="341.6" cy="425.6" rx="1.15" ry="1.45"/><ellipse cx="337.8" cy="428.9" rx="1.15" ry="1.45"/><ellipse cx="341.0" cy="444.4" rx="1.15" ry="1.45"/><ellipse cx="341.7" cy="417.0" rx="1.15" ry="1.45"/><ellipse cx="338.8" cy="439.4" rx="1.15" ry="1.45"/><ellipse cx="338.5" cy="428.4" rx="1.15" ry="1.45"/><ellipse cx="341.9" cy="443.2" rx="1.15" ry="1.45"/><ellipse cx="336.9" cy="428.3" rx="1.15" ry="1.45"/><ellipse cx="336.7" cy="427.0" rx="1.15" ry="1.45"/><ellipse cx="341.6" cy="432.2" rx="1.15" ry="1.45"/><ellipse cx="343.7" cy="406.6" rx="1.15" ry="1.45"/><ellipse cx="343.6" cy="412.3" rx="1.15" ry="1.45"/><ellipse cx="339.0" cy="400.6" rx="1.15" ry="1.45"/><ellipse cx="340.3" cy="395.1" rx="1.15" ry="1.45"/><ellipse cx="338.1" cy="428.6" rx="1.15" ry="1.45"/><ellipse cx="342.5" cy="403.4" rx="1.15" ry="1.45"/><ellipse cx="342.8" cy="417.2" rx="1.15" ry="1.45"/><ellipse cx="337.1" cy="432.4" rx="1.15" ry="1.45"/><ellipse cx="342.4" cy="418.4" rx="1.15" ry="1.45"/><ellipse cx="340.3" cy="426.0" rx="1.15" ry="1.45"/><ellipse cx="341.3" cy="433.3" rx="1.15" ry="1.45"/><ellipse cx="342.7" cy="405.0" rx="1.15" ry="1.45"/><ellipse cx="335.2" cy="400.3" rx="1.15" ry="1.45"/><ellipse cx="338.1" cy="424.0" rx="1.15" ry="1.45"/><ellipse cx="317.8" cy="377.5" rx="1.15" ry="1.45"/><ellipse cx="315.5" cy="381.7" rx="1.15" ry="1.45"/><ellipse cx="317.8" cy="382.6" rx="1.15" ry="1.45"/><ellipse cx="315.2" cy="387.7" rx="1.15" ry="1.45"/><ellipse cx="318.0" cy="388.8" rx="1.15" ry="1.45"/><ellipse cx="315.6" cy="370.2" rx="1.15" ry="1.45"/><ellipse cx="315.8" cy="368.9" rx="1.15" ry="1.45"/><ellipse cx="314.5" cy="378.4" rx="1.15" ry="1.45"/><ellipse cx="249.0" cy="366.7" rx="1.15" ry="1.45"/><ellipse cx="245.9" cy="376.3" rx="1.15" ry="1.45"/><ellipse cx="244.3" cy="349.5" rx="1.15" ry="1.45"/><ellipse cx="244.9" cy="361.8" rx="1.15" ry="1.45"/><ellipse cx="249.2" cy="354.5" rx="1.15" ry="1.45"/><ellipse cx="248.8" cy="375.6" rx="1.15" ry="1.45"/><ellipse cx="246.4" cy="373.9" rx="1.15" ry="1.45"/><ellipse cx="249.2" cy="358.1" rx="1.15" ry="1.45"/><ellipse cx="244.2" cy="342.8" rx="1.15" ry="1.45"/><ellipse cx="244.7" cy="357.5" rx="1.15" ry="1.45"/><ellipse cx="243.1" cy="352.5" rx="1.15" ry="1.45"/><ellipse cx="246.5" cy="352.8" rx="1.15" ry="1.45"/><ellipse cx="248.1" cy="361.6" rx="1.15" ry="1.45"/><ellipse cx="246.7" cy="364.1" rx="1.15" ry="1.45"/><ellipse cx="259.5" cy="350.3" rx="1.15" ry="1.45"/><ellipse cx="257.0" cy="356.8" rx="1.15" ry="1.45"/><ellipse cx="256.3" cy="336.3" rx="1.15" ry="1.45"/><ellipse cx="258.1" cy="343.5" rx="1.15" ry="1.45"/><ellipse cx="260.5" cy="340.9" rx="1.15" ry="1.45"/><ellipse cx="258.6" cy="360.7" rx="1.15" ry="1.45"/><ellipse cx="258.5" cy="364.8" rx="1.15" ry="1.45"/><ellipse cx="256.7" cy="341.4" rx="1.15" ry="1.45"/><ellipse cx="257.7" cy="348.5" rx="1.15" ry="1.45"/><ellipse cx="259.4" cy="342.3" rx="1.15" ry="1.45"/></g>
<polygon points="113.0,318.2 115.9,322.0 118.2,330.3 120.0,336.3 121.8,329.3 124.0,325.9 126.5,323.8 128.8,320.3 131.2,315.7 133.5,311.0 135.3,305.0 137.6,309.8 140.0,314.6 142.8,316.2 145.7,311.7 148.6,312.3 151.4,314.6 153.6,318.0 155.7,320.3 158.6,327.4 160.7,331.7 162.9,324.6 165.7,318.9 168.6,316.0 170.8,315.5 172.9,314.6 175.9,314.5 179.4,311.0 182.0,303.5 184.3,305.1 186.7,302.7 189.0,305.0 191.2,305.3 193.3,305.8 195.5,307.6 197.7,307.5 199.8,309.2 202.0,311.6 204.3,309.6 206.7,308.6 209.0,307.6 211.5,309.1 214.0,313.0 216.0,314.4 218.0,314.1 220.0,315.7 222.0,309.3 224.0,312.8 226.0,309.0 228.0,310.2 230.0,311.4 232.0,314.0 234.0,313.8 236.0,309.4 237.5,309.0 239.0,316.6 241.0,328.0 243.0,334.0 244.5,313.0 246.0,281.0 247.5,283.0 249.0,318.0 250.5,298.0 252.0,278.0 254.0,274.0 256.0,276.0 257.5,274.0 259.0,278.0 260.0,308.0 261.0,342.0 263.0,327.6 265.0,325.9 267.0,336.1 269.0,347.9 271.0,339.0 273.0,323.0 275.0,309.0 277.0,315.0 279.0,305.0 281.0,317.0 283.0,303.0 285.0,309.0 287.0,317.0 289.0,307.0 291.0,319.0 293.0,309.0 295.0,321.0 297.7,395.0 299.0,345.0 301.0,315.0 304.0,303.0 307.0,301.0 309.0,315.0 311.0,307.0 313.0,325.0 315.0,349.0 317.0,335.0 319.0,309.0 321.0,311.0 323.0,319.0 326.0,321.0 329.0,315.0 332.0,311.0 334.0,325.0 335.6,393.0 337.0,401.0 339.0,396.0 340.6,385.7 342.6,373.0 344.7,355.0 346.4,338.0 349.0,330.2 350.0,321.8 353.4,339.6 356.0,331.6 358.7,321.0 362.1,305.2 364.8,300.0 367.5,300.2 369.5,292.2 371.5,301.9 374.2,310.1 376.9,300.9 378.9,288.9 380.9,301.2 383.6,304.1 386.3,307.0 389.0,305.8 391.7,298.0 394.4,313.0 397.0,302.4 399.0,302.5 401.0,302.5 403.5,306.0 406.0,305.4 408.5,306.4 411.0,311.6 412.7,316.8 415.3,318.7 417.8,327.2 420.3,325.7 422.8,329.3 425.3,326.1 427.9,331.4 430.4,334.9 433.0,338.5 435.4,342.0 438.0,335.5 440.5,342.4 443.0,347.8 446.0,350.0 449.0,352.8 452.0,359.6 455.0,364.5 458.0,373.3 461.0,370.1 464.0,372.9 467.0,379.7 470.0,384.6 472.0,395.4 474.0,400.2 476.0,389.0 479.0,370.0 481.0,362.8 484.3,352.0 487.3,358.3 490.3,362.4 493.4,366.5 496.4,370.5 499.4,374.6 501.0,378.5 504.0,386.5 506.0,395.5 508.0,405.6 510.0,417.7 512.0,423.7 515.0,424.8 518.0,425.8 520.0,433.9 522.0,427.9 525.0,423.8 528.0,425.9 530.1,427.5 532.3,428.9 534.3,429.5 536.4,430.0 538.4,429.7 540.4,430.0 542.9,429.6 545.4,429.0 547.5,428.1 549.5,428.1 551.5,429.5 553.5,430.1 556.5,432.1 559.0,432.0 561.5,432.7 565.0,431.5 567.1,430.6 569.2,429.8 571.2,430.4 573.3,430.9 576.8,431.0 580.4,429.9 583.9,429.3 586.8,433.4 590.4,436.4 592.5,436.8 594.5,437.0 596.9,437.2 599.2,437.6 601.5,438.4 603.9,438.9 606.2,437.5 608.6,438.3 611.0,438.9 613.3,439.5 616.8,440.8 619.8,441.9 619.8,442.0 619.8,448.0 619.8,447.9 616.8,446.8 613.3,445.7 611.0,445.0 608.6,444.5 606.2,443.7 603.9,445.1 601.5,444.7 599.2,444.0 596.9,443.6 594.5,443.4 592.5,443.2 590.4,442.8 586.8,440.0 583.9,435.9 580.4,436.5 576.8,437.6 573.3,437.7 571.2,437.1 569.2,436.6 567.1,437.4 565.0,438.3 561.5,439.5 559.0,438.9 556.5,439.1 553.5,437.1 551.5,436.5 549.5,435.1 547.5,435.2 545.4,436.2 542.9,436.7 540.4,437.2 538.4,437.0 536.4,437.2 534.3,436.8 532.3,436.3 530.1,434.8 528.0,433.3 525.0,431.2 522.0,435.3 520.0,441.3 518.0,433.4 515.0,432.4 512.0,431.3 510.0,425.3 508.0,413.2 506.0,403.1 504.0,394.3 501.0,386.3 499.4,382.4 496.4,378.3 493.4,374.3 490.3,370.4 487.3,366.3 484.3,360.5 481.0,373.5 479.0,382.0 476.0,403.0 474.0,415.5 472.0,412.1 470.0,402.6 467.0,399.1 464.0,393.7 461.0,392.3 458.0,396.9 455.0,389.5 452.0,386.0 449.0,380.6 446.0,379.2 443.0,378.4 440.5,374.2 438.0,367.6 435.4,374.4 433.0,371.1 430.4,367.8 427.9,364.6 425.3,359.5 422.8,363.0 420.3,359.6 417.8,361.4 415.3,353.0 412.7,351.4 411.0,346.4 408.5,341.4 406.0,340.6 403.5,341.5 401.0,338.2 399.0,338.5 397.0,338.5 394.4,349.4 391.7,334.6 389.0,342.7 386.3,344.1 383.6,341.5 380.9,338.9 378.9,326.8 376.9,338.9 374.2,348.4 371.5,340.5 369.5,331.0 367.5,339.1 364.8,339.2 362.1,344.7 358.7,360.8 356.0,371.7 353.4,379.8 350.0,362.4 349.0,370.9 346.4,379.0 344.7,396.0 342.6,414.0 340.6,426.7 339.0,437.0 337.0,442.0 335.6,434.0 334.0,366.0 332.0,352.0 329.0,356.0 326.0,362.0 323.0,360.0 321.0,352.0 319.0,350.0 317.0,376.0 315.0,390.0 313.0,366.0 311.0,348.0 309.0,356.0 307.0,342.0 304.0,344.0 301.0,356.0 299.0,386.0 297.7,436.0 295.0,362.0 293.0,350.0 291.0,360.0 289.0,348.0 287.0,358.0 285.0,350.0 283.0,344.0 281.0,358.0 279.0,346.0 277.0,356.0 275.0,350.0 273.0,364.0 271.0,380.0 269.0,388.8 267.0,376.8 265.0,366.2 263.0,367.8 261.0,382.1 260.0,348.2 259.0,318.3 257.5,314.4 256.0,316.5 254.0,314.7 252.0,318.9 250.5,339.0 249.0,359.2 247.5,324.3 246.0,322.5 244.5,354.6 243.0,375.7 241.0,369.9 239.0,352.0 237.5,334.5 236.0,325.0 234.0,322.8 232.0,323.0 230.0,320.4 228.0,319.2 226.0,318.0 224.0,321.8 222.0,318.3 220.0,324.7 218.0,323.1 216.0,323.4 214.0,322.0 211.5,318.1 209.0,316.6 206.7,317.6 204.3,318.6 202.0,320.6 199.8,318.2 197.7,316.5 195.5,316.6 193.3,314.8 191.2,314.3 189.0,314.0 186.7,311.7 184.3,314.1 182.0,312.5 179.4,320.0 175.9,323.5 172.9,323.6 170.8,324.5 168.6,325.0 165.7,327.9 162.9,333.6 160.7,340.7 158.6,336.4 155.7,329.3 153.6,327.0 151.4,323.6 148.6,321.3 145.7,320.7 142.8,325.2 140.0,323.6 137.6,318.8 135.3,314.0 133.5,320.0 131.2,324.7 128.8,329.6 126.5,333.6 124.0,336.4 121.8,340.2 120.0,347.7 118.2,342.1 115.9,334.3 113.0,331.2" fill="url(#gs)"/>
<polygon points="113.0,320.2 115.9,323.8 118.2,332.0 120.0,337.9 121.8,330.8 124.0,327.3 126.5,325.0 128.8,321.4 131.2,316.7 133.5,312.0 135.3,306.0 137.6,310.8 140.0,315.6 142.8,317.2 145.7,312.7 148.6,313.3 151.4,315.6 153.6,319.0 155.7,321.3 158.6,328.4 160.7,332.7 162.9,325.6 165.7,319.9 168.6,317.0 170.8,316.5 172.9,315.6 175.9,315.5 179.4,312.0 182.0,304.5 184.3,306.1 186.7,303.7 189.0,306.0 191.2,306.3 193.3,306.8 195.5,308.6 197.7,308.5 199.8,310.2 202.0,312.6 204.3,310.6 206.7,309.6 209.0,308.6 211.5,310.1 214.0,314.0 216.0,315.4 218.0,315.1 220.0,316.7 222.0,310.3 224.0,313.8 226.0,310.0 228.0,311.2 230.0,312.4 232.0,315.0 234.0,314.8 236.0,311.8 237.5,313.5 239.0,323.2 241.0,336.0 243.0,342.0 244.5,321.0 246.0,289.0 247.5,291.0 249.0,326.0 250.5,306.0 252.0,286.0 254.0,282.0 256.0,284.0 257.5,282.0 259.0,286.0 260.0,316.0 261.0,350.0 263.0,335.9 265.0,334.6 267.0,345.4 269.0,357.6 271.0,349.0 273.0,333.0 275.0,319.0 277.0,325.0 279.0,315.0 281.0,327.0 283.0,313.0 285.0,319.0 287.0,327.0 289.0,317.0 291.0,329.0 293.0,319.0 295.0,331.0 297.7,405.0 299.0,355.0 301.0,325.0 304.0,313.0 307.0,311.0 309.0,325.0 311.0,317.0 313.0,335.0 315.0,359.0 317.0,345.0 319.0,319.0 321.0,321.0 323.0,329.0 326.0,331.0 329.0,325.0 332.0,321.0 334.0,335.0 335.6,403.0 337.0,411.0 339.0,406.0 340.6,395.7 342.6,383.0 344.7,365.0 346.4,348.0 349.0,340.1 350.0,331.6 353.4,349.2 356.0,341.2 358.7,330.5 362.1,314.5 364.8,309.2 367.5,309.3 369.5,301.2 371.5,310.8 374.2,318.9 376.9,309.6 378.9,297.6 380.9,309.7 383.6,312.5 386.3,315.3 389.0,314.0 391.7,306.1 394.4,320.9 397.0,310.2 399.0,310.3 401.0,310.2 403.5,313.5 406.0,312.8 408.5,313.7 411.0,318.9 412.7,323.9 415.3,325.7 417.8,334.2 420.3,332.6 422.8,336.1 425.3,332.7 427.9,337.9 430.4,341.3 433.0,344.8 435.4,348.2 438.0,341.5 440.5,348.4 443.0,353.6 446.0,355.6 449.0,358.2 452.0,364.8 455.0,369.5 458.0,378.1 461.0,374.7 464.0,377.3 467.0,383.9 470.0,388.6 472.0,399.0 474.0,403.4 476.0,391.8 479.0,372.2 481.0,364.6 484.3,353.2 487.3,359.3 490.3,363.4 493.4,367.4 496.4,371.4 499.4,375.5 501.0,379.4 504.0,387.4 506.0,396.3 508.0,406.4 510.0,418.5 512.0,424.5 515.0,425.6 518.0,426.6 520.0,434.6 522.0,428.6 525.0,424.5 528.0,426.6 530.1,428.2 532.3,429.6 534.3,430.1 536.4,430.6 538.4,430.3 540.4,430.6 542.9,430.2 545.4,429.6 547.5,428.6 549.5,428.6 551.5,430.0 553.5,430.6 556.5,432.6 559.0,432.5 561.5,433.1 565.0,431.9 567.1,431.0 569.2,430.2 571.2,430.8 573.3,431.3 576.8,431.3 580.4,430.2 583.9,429.6 586.8,433.7 590.4,436.6 592.5,437.0 594.5,437.2 596.9,437.4 599.2,437.8 601.5,438.5 603.9,439.0 606.2,437.6 608.6,438.4 611.0,438.9 613.3,439.6 616.8,440.8 619.8,441.9 619.8,442.0 619.8,448.0 619.8,447.9 616.8,446.8 613.3,445.6 611.0,444.9 608.6,444.4 606.2,443.6 603.9,445.0 601.5,444.5 599.2,443.8 596.9,443.4 594.5,443.2 592.5,443.0 590.4,442.6 586.8,439.7 583.9,435.6 580.4,436.2 576.8,437.3 573.3,437.3 571.2,436.8 569.2,436.2 567.1,437.0 565.0,437.9 561.5,439.1 559.0,438.5 556.5,438.6 553.5,436.6 551.5,436.0 549.5,434.6 547.5,434.6 545.4,435.6 542.9,436.2 540.4,436.6 538.4,436.3 536.4,436.6 534.3,436.1 532.3,435.6 530.1,434.2 528.0,432.6 525.0,430.5 522.0,434.6 520.0,440.6 518.0,432.6 515.0,431.6 512.0,430.5 510.0,424.5 508.0,412.4 506.0,402.3 504.0,393.4 501.0,385.4 499.4,381.5 496.4,377.4 493.4,373.4 490.3,369.4 487.3,365.3 484.3,359.4 481.0,371.9 479.0,380.2 476.0,400.8 474.0,413.1 472.0,409.3 470.0,399.6 467.0,396.0 464.0,390.5 461.0,389.0 458.0,393.5 455.0,386.0 452.0,382.4 449.0,376.9 446.0,375.4 443.0,374.5 440.5,370.2 438.0,363.6 435.4,370.4 433.0,367.1 430.4,363.8 427.9,360.6 425.3,355.5 422.8,359.0 420.3,355.6 417.8,357.4 415.3,349.0 412.7,347.4 411.0,342.4 408.5,337.4 406.0,336.6 403.5,337.5 401.0,334.2 399.0,334.5 397.0,334.5 394.4,345.4 391.7,330.6 389.0,338.7 386.3,340.1 383.6,337.5 380.9,334.9 378.9,322.8 376.9,334.9 374.2,344.4 371.5,336.5 369.5,327.0 367.5,335.1 364.8,335.2 362.1,340.7 358.7,356.8 356.0,367.7 353.4,375.8 350.0,358.4 349.0,366.9 346.4,375.0 344.7,392.0 342.6,410.0 340.6,422.7 339.0,433.0 337.0,438.0 335.6,430.0 334.0,362.0 332.0,348.0 329.0,352.0 326.0,358.0 323.0,356.0 321.0,348.0 319.0,346.0 317.0,372.0 315.0,386.0 313.0,362.0 311.0,344.0 309.0,352.0 307.0,338.0 304.0,340.0 301.0,352.0 299.0,382.0 297.7,432.0 295.0,358.0 293.0,346.0 291.0,356.0 289.0,344.0 287.0,354.0 285.0,346.0 283.0,340.0 281.0,354.0 279.0,342.0 277.0,352.0 275.0,346.0 273.0,360.0 271.0,376.0 269.0,384.5 267.0,372.0 265.0,361.0 263.0,362.0 261.0,376.1 260.0,342.2 259.0,312.3 257.5,308.4 256.0,310.5 254.0,308.7 252.0,312.9 250.5,333.0 249.0,353.2 247.5,318.3 246.0,316.5 244.5,348.6 243.0,369.7 241.0,363.9 239.0,346.8 237.5,330.5 236.0,322.2 234.0,320.8 232.0,321.0 230.0,318.4 228.0,317.2 226.0,316.0 224.0,319.8 222.0,316.3 220.0,322.7 218.0,321.1 216.0,321.4 214.0,320.0 211.5,316.1 209.0,314.6 206.7,315.6 204.3,316.6 202.0,318.6 199.8,316.2 197.7,314.5 195.5,314.6 193.3,312.8 191.2,312.3 189.0,312.0 186.7,309.7 184.3,312.1 182.0,310.5 179.4,318.0 175.9,321.5 172.9,321.6 170.8,322.5 168.6,323.0 165.7,325.9 162.9,331.6 160.7,338.7 158.6,334.4 155.7,327.3 153.6,325.0 151.4,321.6 148.6,319.3 145.7,318.7 142.8,323.2 140.0,321.6 137.6,316.8 135.3,312.0 133.5,318.0 131.2,322.7 128.8,327.5 126.5,331.4 124.0,334.0 121.8,337.8 120.0,345.1 118.2,339.4 115.9,331.5 113.0,328.2" fill="url(#gd)"/>
<polygon points="113.0,323.2 115.9,326.8 118.2,335.0 120.0,340.9 121.8,333.8 124.0,330.3 126.5,328.0 128.8,324.4 131.2,319.7 133.5,315.0 135.3,309.0 137.6,313.8 140.0,318.6 142.8,320.2 145.7,315.7 148.6,316.3 151.4,318.6 153.6,322.0 155.7,324.3 158.6,331.4 160.7,335.7 162.9,328.6 165.7,322.9 168.6,320.0 170.8,319.5 172.9,318.6 175.9,318.5 179.4,315.0 182.0,307.5 184.3,309.1 186.7,306.7 189.0,309.0 191.2,309.3 193.3,309.8 195.5,311.6 197.7,311.5 199.8,313.2 202.0,315.6 204.3,313.6 206.7,312.6 209.0,311.6 211.5,313.1 214.0,317.0 216.0,318.4 218.0,318.1 220.0,319.7 222.0,313.3 224.0,316.8 226.0,313.0 228.0,314.2 230.0,315.4 232.0,318.0 234.0,317.8 236.0,317.0 237.5,320.5 239.0,332.0 241.0,346.0 243.0,352.0 244.5,331.0 246.0,299.0 247.5,301.0 249.0,336.0 250.5,316.0 252.0,296.0 254.0,292.0 256.0,294.0 257.5,292.0 259.0,296.0 260.0,326.0 261.0,360.0 263.0,346.1 265.0,345.3 267.0,356.5 269.0,369.2 271.0,360.9 273.0,345.0 275.0,331.0 277.0,337.0 279.0,327.0 281.0,339.0 283.0,325.0 285.0,331.0 287.0,339.0 289.0,329.0 291.0,341.0 293.0,331.0 295.0,343.0 297.7,417.0 299.0,367.0 301.0,337.0 304.0,325.0 307.0,323.0 309.0,337.0 311.0,329.0 313.0,347.0 315.0,371.0 317.0,357.0 319.0,331.0 321.0,333.0 323.0,341.0 326.0,343.0 329.0,337.0 332.0,333.0 334.0,347.0 335.6,415.0 337.0,423.0 339.0,418.0 340.6,407.7 342.6,395.0 344.7,377.0 346.4,360.0 349.0,352.0 350.0,343.5 353.4,361.0 356.0,352.9 358.7,342.1 362.1,326.0 364.8,320.6 367.5,320.6 369.5,312.5 371.5,322.0 374.2,330.0 376.9,320.6 378.9,308.5 380.9,320.6 383.6,323.3 386.3,326.0 389.0,324.6 391.7,316.6 394.4,331.4 397.0,320.6 399.0,320.6 401.0,320.4 403.5,323.7 406.0,322.9 408.5,323.7 411.0,328.8 412.7,333.8 415.3,335.5 417.8,343.9 420.3,342.2 422.8,345.6 425.3,342.2 427.9,347.3 430.4,350.6 433.0,354.0 435.4,357.3 438.0,350.6 440.5,357.3 443.0,362.1 446.0,363.5 449.0,365.5 452.0,371.6 455.0,375.8 458.0,383.8 461.0,379.9 464.0,381.9 467.0,387.9 470.0,392.1 472.0,402.4 474.0,406.8 476.0,395.1 479.0,375.4 481.0,367.7 484.3,356.2 487.3,362.3 490.3,366.4 493.4,370.4 496.4,374.4 499.4,378.5 501.0,382.4 504.0,390.4 506.0,399.3 508.0,409.4 510.0,421.5 512.0,427.5 515.0,428.6 518.0,429.6 520.0,437.6 522.0,431.6 525.0,427.5 528.0,429.6 530.1,431.2 532.3,432.6 534.3,433.1 536.4,433.6 538.4,433.3 540.4,433.6 542.9,433.2 545.4,432.6 547.5,431.6 549.5,431.6 551.5,433.0 553.5,433.6 556.5,435.6 559.0,435.5 561.5,436.1 565.0,434.9 567.1,434.0 569.2,433.2 571.2,433.8 573.3,434.3 576.8,434.3 580.4,433.2 583.9,432.6 586.8,436.7 590.4,439.6 592.5,440.0 594.5,440.2 596.9,440.4 599.2,440.8 601.5,441.5 603.9,442.0 606.2,440.6 608.6,441.4 611.0,441.9 613.3,442.6 616.8,443.8 619.8,444.9 619.8,445.0 619.8,445.0 619.8,444.9 616.8,443.8 613.3,442.6 611.0,441.9 608.6,441.4 606.2,440.6 603.9,442.0 601.5,441.5 599.2,440.8 596.9,440.4 594.5,440.2 592.5,440.0 590.4,439.6 586.8,436.7 583.9,432.6 580.4,433.2 576.8,434.3 573.3,434.3 571.2,433.8 569.2,433.2 567.1,434.0 565.0,434.9 561.5,436.1 559.0,435.5 556.5,435.6 553.5,433.6 551.5,433.0 549.5,431.6 547.5,431.6 545.4,432.6 542.9,433.2 540.4,433.6 538.4,433.3 536.4,433.6 534.3,433.1 532.3,432.6 530.1,431.2 528.0,429.6 525.0,427.5 522.0,431.6 520.0,437.6 518.0,429.6 515.0,428.6 512.0,427.5 510.0,421.5 508.0,409.4 506.0,399.3 504.0,390.4 501.0,382.4 499.4,378.5 496.4,374.4 493.4,370.4 490.3,366.4 487.3,362.3 484.3,356.4 481.0,369.1 479.0,377.4 476.0,398.1 474.0,410.4 472.0,406.8 470.0,397.1 467.0,393.1 464.0,387.1 461.0,385.1 458.0,389.2 455.0,381.2 452.0,377.2 449.0,371.2 446.0,369.3 443.0,367.9 440.5,363.3 438.0,356.6 435.4,363.3 433.0,360.0 430.4,356.6 427.9,353.3 425.3,348.2 422.8,351.6 420.3,348.2 417.8,349.9 415.3,341.5 412.7,339.8 411.0,334.8 408.5,329.7 406.0,328.9 403.5,329.7 401.0,326.4 399.0,326.6 397.0,326.6 394.4,337.4 391.7,322.6 389.0,330.6 386.3,332.0 383.6,329.3 380.9,326.6 378.9,314.5 376.9,326.6 374.2,336.0 371.5,328.0 369.5,318.5 367.5,326.6 364.8,326.6 362.1,332.0 358.7,348.1 356.0,358.9 353.4,367.0 350.0,349.5 349.0,358.0 346.4,366.0 344.7,383.0 342.6,401.0 340.6,413.7 339.0,424.0 337.0,429.0 335.6,421.0 334.0,353.0 332.0,339.0 329.0,343.0 326.0,349.0 323.0,347.0 321.0,339.0 319.0,337.0 317.0,363.0 315.0,377.0 313.0,353.0 311.0,335.0 309.0,343.0 307.0,329.0 304.0,331.0 301.0,343.0 299.0,373.0 297.7,423.0 295.0,349.0 293.0,337.0 291.0,347.0 289.0,335.0 287.0,345.0 285.0,337.0 283.0,331.0 281.0,345.0 279.0,333.0 277.0,343.0 275.0,337.0 273.0,351.0 271.0,367.1 269.0,375.8 267.0,363.5 265.0,352.7 263.0,353.9 261.0,368.0 260.0,334.0 259.0,304.0 257.5,300.0 256.0,302.0 254.0,300.0 252.0,304.0 250.5,324.0 249.0,344.0 247.5,309.0 246.0,307.0 244.5,339.0 243.0,360.0 241.0,354.0 239.0,338.0 237.5,323.5 236.0,317.0 234.0,317.8 232.0,318.0 230.0,315.4 228.0,314.2 226.0,313.0 224.0,316.8 222.0,313.3 220.0,319.7 218.0,318.1 216.0,318.4 214.0,317.0 211.5,313.1 209.0,311.6 206.7,312.6 204.3,313.6 202.0,315.6 199.8,313.2 197.7,311.5 195.5,311.6 193.3,309.8 191.2,309.3 189.0,309.0 186.7,306.7 184.3,309.1 182.0,307.5 179.4,315.0 175.9,318.5 172.9,318.6 170.8,319.5 168.6,320.0 165.7,322.9 162.9,328.6 160.7,335.7 158.6,331.4 155.7,324.3 153.6,322.0 151.4,318.6 148.6,316.3 145.7,315.7 142.8,320.2 140.0,318.6 137.6,313.8 135.3,309.0 133.5,315.0 131.2,319.7 128.8,324.4 126.5,328.0 124.0,330.3 121.8,333.8 120.0,340.9 118.2,335.0 115.9,326.8 113.0,323.2" fill="#64ff64"/>
<polyline points="113.0,323.2 115.9,326.8 118.2,335.0 120.0,340.9 121.8,333.8 124.0,330.3 126.5,328.0 128.8,324.4 131.2,319.7 133.5,315.0 135.3,309.0 137.6,313.8 140.0,318.6 142.8,320.2 145.7,315.7 148.6,316.3 151.4,318.6 153.6,322.0 155.7,324.3 158.6,331.4 160.7,335.7 162.9,328.6 165.7,322.9 168.6,320.0 170.8,319.5 172.9,318.6 175.9,318.5 179.4,315.0 182.0,307.5 184.3,309.1 186.7,306.7 189.0,309.0 191.2,309.3 193.3,309.8 195.5,311.6 197.7,311.5 199.8,313.2 202.0,315.6 204.3,313.6 206.7,312.6 209.0,311.6 211.5,313.1 214.0,317.0 216.0,318.4 218.0,318.1 220.0,319.7 222.0,313.3 224.0,316.8 226.0,313.0 228.0,314.2 230.0,315.4 232.0,318.0 234.0,317.8 236.0,317.0" fill="none" stroke="#64ff64" stroke-width="6.0" stroke-linejoin="round" stroke-linecap="round"/><polyline points="236.0,317.0 237.5,322.0" fill="none" stroke="#64ff64" stroke-width="5.0" stroke-linejoin="round" stroke-linecap="round"/><polyline points="237.5,322.0 239.0,335.0" fill="none" stroke="#64ff64" stroke-width="4.0" stroke-linejoin="round" stroke-linecap="round"/><polyline points="239.0,335.0 241.0,350.0 243.0,356.0 244.5,335.0 246.0,303.0 247.5,305.0 249.0,340.0 250.5,320.0 252.0,300.0 254.0,296.0 256.0,298.0 257.5,296.0 259.0,300.0 260.0,330.0 261.0,364.0 263.0,350.0 265.0,349.0 267.0,360.0 269.0,372.5 271.0,364.0 273.0,348.0 275.0,334.0 277.0,340.0 279.0,330.0 281.0,342.0 283.0,328.0 285.0,334.0 287.0,342.0 289.0,332.0 291.0,344.0 293.0,334.0 295.0,346.0 297.7,420.0" fill="none" stroke="#64ff64" stroke-width="2.0" stroke-linejoin="round" stroke-linecap="round"/><polyline points="297.7,420.0 299.0,370.0 301.0,340.0 304.0,328.0 307.0,326.0 309.0,340.0 311.0,332.0 313.0,350.0 315.0,374.0 317.0,360.0 319.0,334.0 321.0,336.0 323.0,344.0 326.0,346.0 329.0,340.0 332.0,336.0 334.0,350.0 335.6,418.0 337.0,426.0 339.0,421.0 340.6,410.7" fill="none" stroke="#64ff64" stroke-width="1.5" stroke-linejoin="round" stroke-linecap="round"/><polyline points="340.6,410.7 342.6,398.0 344.7,380.0 346.4,363.0 349.0,355.0 350.0,346.5 353.4,364.0 356.0,355.9 358.7,345.1 362.1,329.0 364.8,323.6 367.5,323.6 369.5,315.5 371.5,325.0 374.2,333.0 376.9,323.6 378.9,311.5 380.9,323.6 383.6,326.3 386.3,329.0 389.0,327.6 391.7,319.6 394.4,334.4 397.0,323.6 399.0,323.6 401.0,323.4 403.5,326.7 406.0,325.9 408.5,326.7 411.0,331.8 412.7,336.8 415.3,338.5 417.8,346.9 420.3,345.2 422.8,348.6 425.3,345.2 427.9,350.3 430.4,353.6 433.0,357.0 435.4,360.3 438.0,353.6 440.5,360.3 443.0,365.0" fill="none" stroke="#64ff64" stroke-width="2.0" stroke-linejoin="round" stroke-linecap="round"/><polyline points="443.0,365.0 446.0,366.4 449.0,368.4" fill="none" stroke="#64ff64" stroke-width="2.5" stroke-linejoin="round" stroke-linecap="round"/><polyline points="449.0,368.4 452.0,374.4 455.0,378.5" fill="none" stroke="#64ff64" stroke-width="3.0" stroke-linejoin="round" stroke-linecap="round"/><polyline points="455.0,378.5 458.0,386.5 461.0,382.5" fill="none" stroke="#64ff64" stroke-width="3.5" stroke-linejoin="round" stroke-linecap="round"/><polyline points="461.0,382.5 464.0,384.5 467.0,390.5" fill="none" stroke="#64ff64" stroke-width="4.0" stroke-linejoin="round" stroke-linecap="round"/><polyline points="467.0,390.5 470.0,394.6 472.0,404.6" fill="none" stroke="#64ff64" stroke-width="4.5" stroke-linejoin="round" stroke-linecap="round"/><polyline points="472.0,404.6 474.0,408.6 476.0,396.6 479.0,376.4 481.0,368.4 484.3,356.3" fill="none" stroke="#64ff64" stroke-width="5.0" stroke-linejoin="round" stroke-linecap="round"/><polyline points="484.3,356.3 487.3,362.3 490.3,366.4 493.4,370.4 496.4,374.4 499.4,378.5 501.0,382.4 504.0,390.4 506.0,399.3 508.0,409.4 510.0,421.5 512.0,427.5 515.0,428.6 518.0,429.6" fill="none" stroke="#64ff64" stroke-width="5.5" stroke-linejoin="round" stroke-linecap="round"/><polyline points="518.0,429.6 520.0,437.6 522.0,431.6 525.0,427.5 528.0,429.6 530.1,431.2 532.3,432.6 534.3,433.1 536.4,433.6 538.4,433.3 540.4,433.6 542.9,433.2 545.4,432.6 547.5,431.6 549.5,431.6 551.5,433.0 553.5,433.6 556.5,435.6 559.0,435.5 561.5,436.1 565.0,434.9 567.1,434.0 569.2,433.2 571.2,433.8 573.3,434.3 576.8,434.3 580.4,433.2 583.9,432.6 586.8,436.7 590.4,439.6 592.5,440.0 594.5,440.2 596.9,440.4 599.2,440.8 601.5,441.5 603.9,442.0 606.2,440.6 608.6,441.4 611.0,441.9 613.3,442.6 616.8,443.8 619.8,444.9 619.8,445.0" fill="none" stroke="#64ff64" stroke-width="6.0" stroke-linejoin="round" stroke-linecap="round"/>
<g fill="none" stroke="#ff6464" stroke-width="1"><ellipse cx="117.3" cy="351.1" rx="1.15" ry="1.45"/><ellipse cx="121.0" cy="351.2" rx="1.15" ry="1.45"/><ellipse cx="118.7" cy="346.8" rx="1.15" ry="1.45"/><ellipse cx="115.4" cy="351.4" rx="1.15" ry="1.45"/><ellipse cx="126.1" cy="371.7" rx="1.15" ry="1.45"/><ellipse cx="125.6" cy="371.4" rx="1.15" ry="1.45"/><ellipse cx="131.2" cy="323.5" rx="1.15" ry="1.45"/><ellipse cx="139.9" cy="322.7" rx="1.15" ry="1.45"/><ellipse cx="133.6" cy="318.4" rx="1.15" ry="1.45"/><ellipse cx="152.7" cy="324.2" rx="1.15" ry="1.45"/><ellipse cx="150.6" cy="333.9" rx="1.15" ry="1.45"/><ellipse cx="160.4" cy="332.8" rx="1.15" ry="1.45"/><ellipse cx="161.9" cy="323.6" rx="1.15" ry="1.45"/><ellipse cx="167.2" cy="308.0" rx="1.15" ry="1.45"/><ellipse cx="173.0" cy="326.4" rx="1.15" ry="1.45"/><ellipse cx="165.3" cy="312.0" rx="1.15" ry="1.45"/><ellipse cx="177.6" cy="344.0" rx="1.15" ry="1.45"/><ellipse cx="176.4" cy="343.6" rx="1.15" ry="1.45"/><ellipse cx="173.4" cy="308.0" rx="1.15" ry="1.45"/><ellipse cx="186.4" cy="327.2" rx="1.15" ry="1.45"/><ellipse cx="188.9" cy="327.5" rx="1.15" ry="1.45"/><ellipse cx="186.9" cy="325.2" rx="1.15" ry="1.45"/><ellipse cx="195.2" cy="315.6" rx="1.15" ry="1.45"/><ellipse cx="198.5" cy="312.3" rx="1.15" ry="1.45"/><ellipse cx="195.1" cy="315.3" rx="1.15" ry="1.45"/><ellipse cx="212.9" cy="345.9" rx="1.15" ry="1.45"/><ellipse cx="205.0" cy="333.5" rx="1.15" ry="1.45"/><ellipse cx="209.9" cy="332.3" rx="1.15" ry="1.45"/><ellipse cx="214.8" cy="323.4" rx="1.15" ry="1.45"/><ellipse cx="222.2" cy="388.7" rx="1.15" ry="1.45"/><ellipse cx="216.6" cy="329.5" rx="1.15" ry="1.45"/><ellipse cx="230.7" cy="405.6" rx="1.15" ry="1.45"/><ellipse cx="223.2" cy="363.8" rx="1.15" ry="1.45"/><ellipse cx="223.8" cy="380.5" rx="1.15" ry="1.45"/><ellipse cx="238.2" cy="387.7" rx="1.15" ry="1.45"/><ellipse cx="235.4" cy="393.4" rx="1.15" ry="1.45"/><ellipse cx="239.0" cy="394.3" rx="1.15" ry="1.45"/><ellipse cx="248.4" cy="391.0" rx="1.15" ry="1.45"/><ellipse cx="245.6" cy="422.1" rx="1.15" ry="1.45"/><ellipse cx="244.5" cy="403.1" rx="1.15" ry="1.45"/><ellipse cx="257.1" cy="404.6" rx="1.15" ry="1.45"/><ellipse cx="255.3" cy="406.1" rx="1.15" ry="1.45"/><ellipse cx="255.2" cy="406.8" rx="1.15" ry="1.45"/><ellipse cx="268.7" cy="418.0" rx="1.15" ry="1.45"/><ellipse cx="266.0" cy="407.2" rx="1.15" ry="1.45"/><ellipse cx="265.2" cy="399.0" rx="1.15" ry="1.45"/><ellipse cx="272.6" cy="400.7" rx="1.15" ry="1.45"/><ellipse cx="269.3" cy="373.7" rx="1.15" ry="1.45"/><ellipse cx="273.6" cy="362.5" rx="1.15" ry="1.45"/><ellipse cx="278.0" cy="349.2" rx="1.15" ry="1.45"/><ellipse cx="277.0" cy="352.4" rx="1.15" ry="1.45"/><ellipse cx="279.7" cy="348.1" rx="1.15" ry="1.45"/><ellipse cx="276.4" cy="354.5" rx="1.15" ry="1.45"/><ellipse cx="278.8" cy="387.0" rx="1.15" ry="1.45"/><ellipse cx="283.2" cy="354.3" rx="1.15" ry="1.45"/><ellipse cx="283.6" cy="356.0" rx="1.15" ry="1.45"/><ellipse cx="288.0" cy="388.3" rx="1.15" ry="1.45"/><ellipse cx="286.3" cy="354.0" rx="1.15" ry="1.45"/><ellipse cx="286.5" cy="392.4" rx="1.15" ry="1.45"/><ellipse cx="285.6" cy="389.2" rx="1.15" ry="1.45"/><ellipse cx="299.2" cy="412.0" rx="1.15" ry="1.45"/><ellipse cx="298.8" cy="423.3" rx="1.15" ry="1.45"/><ellipse cx="299.3" cy="411.0" rx="1.15" ry="1.45"/><ellipse cx="297.2" cy="402.4" rx="1.15" ry="1.45"/><ellipse cx="301.8" cy="343.6" rx="1.15" ry="1.45"/><ellipse cx="293.4" cy="340.3" rx="1.15" ry="1.45"/><ellipse cx="306.6" cy="373.6" rx="1.15" ry="1.45"/><ellipse cx="304.9" cy="331.4" rx="1.15" ry="1.45"/><ellipse cx="305.3" cy="333.0" rx="1.15" ry="1.45"/><ellipse cx="306.9" cy="339.6" rx="1.15" ry="1.45"/><ellipse cx="309.5" cy="339.4" rx="1.15" ry="1.45"/><ellipse cx="308.6" cy="389.6" rx="1.15" ry="1.45"/><ellipse cx="316.5" cy="406.2" rx="1.15" ry="1.45"/><ellipse cx="320.2" cy="379.4" rx="1.15" ry="1.45"/><ellipse cx="322.6" cy="376.7" rx="1.15" ry="1.45"/><ellipse cx="319.2" cy="339.5" rx="1.15" ry="1.45"/><ellipse cx="316.7" cy="364.5" rx="1.15" ry="1.45"/><ellipse cx="318.3" cy="344.8" rx="1.15" ry="1.45"/><ellipse cx="324.8" cy="346.4" rx="1.15" ry="1.45"/><ellipse cx="323.6" cy="344.1" rx="1.15" ry="1.45"/><ellipse cx="330.0" cy="336.4" rx="1.15" ry="1.45"/><ellipse cx="330.7" cy="335.0" rx="1.15" ry="1.45"/><ellipse cx="331.7" cy="365.5" rx="1.15" ry="1.45"/><ellipse cx="325.5" cy="345.8" rx="1.15" ry="1.45"/><ellipse cx="340.2" cy="420.9" rx="1.15" ry="1.45"/><ellipse cx="336.3" cy="441.0" rx="1.15" ry="1.45"/><ellipse cx="341.4" cy="457.3" rx="1.15" ry="1.45"/><ellipse cx="341.3" cy="453.3" rx="1.15" ry="1.45"/><ellipse cx="336.8" cy="477.3" rx="1.15" ry="1.45"/><ellipse cx="343.1" cy="449.2" rx="1.15" ry="1.45"/><ellipse cx="352.7" cy="356.4" rx="1.15" ry="1.45"/><ellipse cx="347.2" cy="387.2" rx="1.15" ry="1.45"/><ellipse cx="352.3" cy="390.8" rx="1.15" ry="1.45"/><ellipse cx="350.1" cy="355.5" rx="1.15" ry="1.45"/><ellipse cx="345.9" cy="396.6" rx="1.15" ry="1.45"/><ellipse cx="356.3" cy="348.7" rx="1.15" ry="1.45"/><ellipse cx="357.8" cy="345.8" rx="1.15" ry="1.45"/><ellipse cx="361.0" cy="370.7" rx="1.15" ry="1.45"/><ellipse cx="356.9" cy="385.1" rx="1.15" ry="1.45"/><ellipse cx="362.8" cy="328.8" rx="1.15" ry="1.45"/><ellipse cx="358.5" cy="377.6" rx="1.15" ry="1.45"/><ellipse cx="364.1" cy="357.2" rx="1.15" ry="1.45"/><ellipse cx="367.9" cy="319.9" rx="1.15" ry="1.45"/><ellipse cx="363.2" cy="360.8" rx="1.15" ry="1.45"/><ellipse cx="369.3" cy="316.7" rx="1.15" ry="1.45"/><ellipse cx="367.8" cy="320.2" rx="1.15" ry="1.45"/><ellipse cx="363.5" cy="324.8" rx="1.15" ry="1.45"/><ellipse cx="373.8" cy="329.7" rx="1.15" ry="1.45"/><ellipse cx="383.0" cy="323.6" rx="1.15" ry="1.45"/><ellipse cx="377.8" cy="316.9" rx="1.15" ry="1.45"/><ellipse cx="377.0" cy="322.2" rx="1.15" ry="1.45"/><ellipse cx="379.6" cy="349.1" rx="1.15" ry="1.45"/><ellipse cx="382.4" cy="362.6" rx="1.15" ry="1.45"/><ellipse cx="391.3" cy="352.9" rx="1.15" ry="1.45"/><ellipse cx="383.3" cy="325.9" rx="1.15" ry="1.45"/><ellipse cx="383.7" cy="324.0" rx="1.15" ry="1.45"/><ellipse cx="386.1" cy="327.9" rx="1.15" ry="1.45"/><ellipse cx="385.1" cy="356.2" rx="1.15" ry="1.45"/><ellipse cx="388.3" cy="361.4" rx="1.15" ry="1.45"/><ellipse cx="397.0" cy="359.6" rx="1.15" ry="1.45"/><ellipse cx="400.7" cy="352.9" rx="1.15" ry="1.45"/><ellipse cx="402.5" cy="323.4" rx="1.15" ry="1.45"/><ellipse cx="395.5" cy="357.6" rx="1.15" ry="1.45"/><ellipse cx="398.8" cy="320.6" rx="1.15" ry="1.45"/><ellipse cx="396.7" cy="360.3" rx="1.15" ry="1.45"/><ellipse cx="409.4" cy="328.0" rx="1.15" ry="1.45"/><ellipse cx="412.1" cy="334.8" rx="1.15" ry="1.45"/><ellipse cx="406.3" cy="354.0" rx="1.15" ry="1.45"/><ellipse cx="410.4" cy="328.1" rx="1.15" ry="1.45"/><ellipse cx="404.8" cy="323.8" rx="1.15" ry="1.45"/><ellipse cx="406.5" cy="326.0" rx="1.15" ry="1.45"/><ellipse cx="417.0" cy="342.0" rx="1.15" ry="1.45"/><ellipse cx="422.5" cy="347.3" rx="1.15" ry="1.45"/><ellipse cx="416.2" cy="368.9" rx="1.15" ry="1.45"/><ellipse cx="422.9" cy="346.1" rx="1.15" ry="1.45"/><ellipse cx="415.2" cy="339.0" rx="1.15" ry="1.45"/><ellipse cx="414.8" cy="338.5" rx="1.15" ry="1.45"/><ellipse cx="426.2" cy="352.0" rx="1.15" ry="1.45"/><ellipse cx="432.9" cy="359.3" rx="1.15" ry="1.45"/><ellipse cx="426.8" cy="377.5" rx="1.15" ry="1.45"/><ellipse cx="429.2" cy="378.8" rx="1.15" ry="1.45"/><ellipse cx="429.3" cy="347.1" rx="1.15" ry="1.45"/><ellipse cx="424.1" cy="376.4" rx="1.15" ry="1.45"/><ellipse cx="439.7" cy="361.3" rx="1.15" ry="1.45"/><ellipse cx="435.3" cy="382.8" rx="1.15" ry="1.45"/><ellipse cx="438.2" cy="355.3" rx="1.15" ry="1.45"/><ellipse cx="437.5" cy="383.8" rx="1.15" ry="1.45"/><ellipse cx="442.3" cy="365.6" rx="1.15" ry="1.45"/><ellipse cx="442.9" cy="392.2" rx="1.15" ry="1.45"/><ellipse cx="452.9" cy="375.1" rx="1.15" ry="1.45"/><ellipse cx="444.3" cy="394.0" rx="1.15" ry="1.45"/><ellipse cx="445.3" cy="395.7" rx="1.15" ry="1.45"/><ellipse cx="452.4" cy="401.8" rx="1.15" ry="1.45"/><ellipse cx="448.1" cy="394.9" rx="1.15" ry="1.45"/><ellipse cx="460.1" cy="388.5" rx="1.15" ry="1.45"/><ellipse cx="457.5" cy="388.5" rx="1.15" ry="1.45"/><ellipse cx="455.0" cy="379.0" rx="1.15" ry="1.45"/><ellipse cx="453.7" cy="403.2" rx="1.15" ry="1.45"/><ellipse cx="465.4" cy="409.8" rx="1.15" ry="1.45"/><ellipse cx="470.7" cy="391.0" rx="1.15" ry="1.45"/><ellipse cx="471.0" cy="395.5" rx="1.15" ry="1.45"/><ellipse cx="464.0" cy="383.0" rx="1.15" ry="1.45"/><ellipse cx="481.3" cy="365.6" rx="1.15" ry="1.45"/><ellipse cx="476.9" cy="404.7" rx="1.15" ry="1.45"/></g>
<g fill="none" stroke="#ff6464" stroke-width="1"><ellipse cx="297.0" cy="404.0" rx="1.15" ry="1.45"/><ellipse cx="295.9" cy="406.2" rx="1.15" ry="1.45"/><ellipse cx="298.8" cy="406.3" rx="1.15" ry="1.45"/><ellipse cx="296.9" cy="425.8" rx="1.15" ry="1.45"/><ellipse cx="297.7" cy="437.2" rx="1.15" ry="1.45"/><ellipse cx="297.4" cy="414.0" rx="1.15" ry="1.45"/><ellipse cx="298.1" cy="404.8" rx="1.15" ry="1.45"/><ellipse cx="299.5" cy="411.8" rx="1.15" ry="1.45"/><ellipse cx="296.9" cy="425.7" rx="1.15" ry="1.45"/><ellipse cx="295.8" cy="424.7" rx="1.15" ry="1.45"/><ellipse cx="299.2" cy="410.2" rx="1.15" ry="1.45"/><ellipse cx="299.7" cy="418.8" rx="1.15" ry="1.45"/><ellipse cx="298.9" cy="416.1" rx="1.15" ry="1.45"/><ellipse cx="297.0" cy="407.1" rx="1.15" ry="1.45"/><ellipse cx="295.0" cy="404.2" rx="1.15" ry="1.45"/><ellipse cx="299.9" cy="419.0" rx="1.15" ry="1.45"/><ellipse cx="297.3" cy="435.5" rx="1.15" ry="1.45"/><ellipse cx="298.0" cy="439.0" rx="1.15" ry="1.45"/><ellipse cx="315.4" cy="382.6" rx="1.15" ry="1.45"/><ellipse cx="317.7" cy="380.6" rx="1.15" ry="1.45"/><ellipse cx="317.2" cy="395.8" rx="1.15" ry="1.45"/><ellipse cx="317.9" cy="408.0" rx="1.15" ry="1.45"/><ellipse cx="316.6" cy="376.3" rx="1.15" ry="1.45"/><ellipse cx="314.1" cy="391.6" rx="1.15" ry="1.45"/><ellipse cx="317.3" cy="377.8" rx="1.15" ry="1.45"/><ellipse cx="315.7" cy="378.0" rx="1.15" ry="1.45"/><ellipse cx="315.2" cy="375.2" rx="1.15" ry="1.45"/><ellipse cx="315.3" cy="393.3" rx="1.15" ry="1.45"/><ellipse cx="314.8" cy="402.6" rx="1.15" ry="1.45"/><ellipse cx="314.2" cy="382.4" rx="1.15" ry="1.45"/><ellipse cx="315.0" cy="389.1" rx="1.15" ry="1.45"/><ellipse cx="317.1" cy="387.4" rx="1.15" ry="1.45"/><ellipse cx="316.8" cy="407.3" rx="1.15" ry="1.45"/><ellipse cx="314.5" cy="405.2" rx="1.15" ry="1.45"/><ellipse cx="309.4" cy="386.4" rx="1.15" ry="1.45"/><ellipse cx="309.4" cy="379.0" rx="1.15" ry="1.45"/><ellipse cx="307.4" cy="373.2" rx="1.15" ry="1.45"/><ellipse cx="307.7" cy="373.9" rx="1.15" ry="1.45"/><ellipse cx="307.6" cy="374.6" rx="1.15" ry="1.45"/><ellipse cx="309.2" cy="387.0" rx="1.15" ry="1.45"/><ellipse cx="310.2" cy="388.6" rx="1.15" ry="1.45"/><ellipse cx="307.5" cy="388.1" rx="1.15" ry="1.45"/><ellipse cx="335.1" cy="452.2" rx="1.15" ry="1.45"/><ellipse cx="335.7" cy="467.6" rx="1.15" ry="1.45"/><ellipse cx="334.3" cy="456.5" rx="1.15" ry="1.45"/><ellipse cx="336.4" cy="474.7" rx="1.15" ry="1.45"/><ellipse cx="336.4" cy="462.4" rx="1.15" ry="1.45"/><ellipse cx="336.2" cy="452.8" rx="1.15" ry="1.45"/><ellipse cx="339.3" cy="477.7" rx="1.15" ry="1.45"/><ellipse cx="338.3" cy="462.0" rx="1.15" ry="1.45"/><ellipse cx="336.7" cy="459.3" rx="1.15" ry="1.45"/><ellipse cx="337.9" cy="469.6" rx="1.15" ry="1.45"/><ellipse cx="335.9" cy="476.2" rx="1.15" ry="1.45"/><ellipse cx="338.3" cy="456.6" rx="1.15" ry="1.45"/><ellipse cx="338.9" cy="470.2" rx="1.15" ry="1.45"/><ellipse cx="335.5" cy="458.9" rx="1.15" ry="1.45"/><ellipse cx="338.5" cy="452.4" rx="1.15" ry="1.45"/><ellipse cx="336.6" cy="478.9" rx="1.15" ry="1.45"/><ellipse cx="335.5" cy="465.1" rx="1.15" ry="1.45"/><ellipse cx="339.4" cy="476.2" rx="1.15" ry="1.45"/><ellipse cx="338.7" cy="466.0" rx="1.15" ry="1.45"/><ellipse cx="339.6" cy="457.7" rx="1.15" ry="1.45"/><ellipse cx="339.3" cy="462.3" rx="1.15" ry="1.45"/><ellipse cx="337.9" cy="468.3" rx="1.15" ry="1.45"/><ellipse cx="340.0" cy="447.1" rx="1.15" ry="1.45"/><ellipse cx="342.2" cy="459.5" rx="1.15" ry="1.45"/><ellipse cx="342.7" cy="437.6" rx="1.15" ry="1.45"/><ellipse cx="340.7" cy="455.5" rx="1.15" ry="1.45"/><ellipse cx="340.4" cy="446.7" rx="1.15" ry="1.45"/><ellipse cx="342.9" cy="458.6" rx="1.15" ry="1.45"/><ellipse cx="339.4" cy="446.6" rx="1.15" ry="1.45"/><ellipse cx="339.2" cy="445.6" rx="1.15" ry="1.45"/><ellipse cx="342.6" cy="449.7" rx="1.15" ry="1.45"/><ellipse cx="344.1" cy="429.2" rx="1.15" ry="1.45"/><ellipse cx="344.0" cy="433.8" rx="1.15" ry="1.45"/><ellipse cx="340.8" cy="424.5" rx="1.15" ry="1.45"/><ellipse cx="341.7" cy="420.1" rx="1.15" ry="1.45"/><ellipse cx="340.2" cy="446.9" rx="1.15" ry="1.45"/><ellipse cx="343.2" cy="426.7" rx="1.15" ry="1.45"/><ellipse cx="343.5" cy="437.8" rx="1.15" ry="1.45"/><ellipse cx="218.8" cy="416.7" rx="1.15" ry="1.45"/><ellipse cx="221.0" cy="408.6" rx="1.15" ry="1.45"/><ellipse cx="220.1" cy="413.0" rx="1.15" ry="1.45"/><ellipse cx="220.5" cy="417.2" rx="1.15" ry="1.45"/><ellipse cx="221.1" cy="400.8" rx="1.15" ry="1.45"/><ellipse cx="218.1" cy="398.0" rx="1.15" ry="1.45"/><ellipse cx="219.2" cy="411.8" rx="1.15" ry="1.45"/><ellipse cx="221.8" cy="407.1" rx="1.15" ry="1.45"/><ellipse cx="219.5" cy="411.2" rx="1.15" ry="1.45"/><ellipse cx="221.8" cy="412.1" rx="1.15" ry="1.45"/><ellipse cx="219.2" cy="416.9" rx="1.15" ry="1.45"/><ellipse cx="222.0" cy="418.0" rx="1.15" ry="1.45"/><ellipse cx="115.0" cy="364.8" rx="1.15" ry="1.45"/><ellipse cx="115.3" cy="363.6" rx="1.15" ry="1.45"/><ellipse cx="113.7" cy="372.5" rx="1.15" ry="1.45"/><ellipse cx="117.3" cy="379.7" rx="1.15" ry="1.45"/><ellipse cx="115.1" cy="386.7" rx="1.15" ry="1.45"/><ellipse cx="113.9" cy="367.0" rx="1.15" ry="1.45"/><ellipse cx="114.4" cy="376.0" rx="1.15" ry="1.45"/><ellipse cx="117.4" cy="370.7" rx="1.15" ry="1.45"/><ellipse cx="117.1" cy="386.2" rx="1.15" ry="1.45"/><ellipse cx="115.4" cy="385.0" rx="1.15" ry="1.45"/><ellipse cx="158.6" cy="360.5" rx="1.15" ry="1.45"/><ellipse cx="155.7" cy="351.6" rx="1.15" ry="1.45"/><ellipse cx="156.0" cy="360.1" rx="1.15" ry="1.45"/><ellipse cx="155.1" cy="357.3" rx="1.15" ry="1.45"/><ellipse cx="157.0" cy="357.4" rx="1.15" ry="1.45"/><ellipse cx="157.9" cy="362.5" rx="1.15" ry="1.45"/><ellipse cx="157.1" cy="363.9" rx="1.15" ry="1.45"/><ellipse cx="157.3" cy="359.1" rx="1.15" ry="1.45"/><ellipse cx="205.7" cy="353.8" rx="1.15" ry="1.45"/><ellipse cx="205.2" cy="345.5" rx="1.15" ry="1.45"/><ellipse cx="206.4" cy="348.4" rx="1.15" ry="1.45"/><ellipse cx="208.0" cy="347.4" rx="1.15" ry="1.45"/><ellipse cx="206.8" cy="355.4" rx="1.15" ry="1.45"/><ellipse cx="206.7" cy="357.1" rx="1.15" ry="1.45"/></g>
<polygon points="113.0,344.0 116.0,354.2 119.0,348.4 122.0,356.6 124.0,355.0 126.0,353.2 128.0,344.0 130.6,325.5 133.5,318.3 134.7,327.7 136.5,308.9 138.2,304.2 140.0,304.5 142.9,309.5 146.4,312.3 150.0,316.6 152.1,322.3 154.3,333.6 155.7,345.0 157.1,356.5 157.9,360.6 158.6,353.6 160.0,336.5 161.4,326.4 163.6,317.8 166.4,310.5 169.3,302.0 170.7,299.1 172.9,307.4 175.0,317.3 175.9,324.8 177.6,327.1 180.0,318.9 181.0,306.3 183.0,305.2 185.0,305.8 188.0,309.2 191.0,311.6 194.0,315.1 196.0,316.6 198.0,313.0 201.0,311.0 203.5,315.0 206.0,345.0 208.5,336.5 211.8,328.0 214.4,323.0 216.0,328.0 217.7,339.8 218.6,365.0 220.0,390.3 222.0,373.5 223.6,361.7 225.3,373.5 227.0,370.0 228.6,378.5 231.2,387.0 233.7,390.3 235.4,393.7 238.0,387.0 239.6,400.4 242.1,402.0 244.6,403.8 247.2,402.0 248.8,390.3 250.5,400.4 253.0,405.4 255.6,407.1 258.1,407.1 259.8,403.2 260.6,381.1 262.3,363.6 265.0,359.0 267.0,371.5 269.0,375.6 272.0,367.5 275.0,359.5 278.0,349.4 280.0,348.0 282.0,352.0 284.0,357.0 287.0,353.0 290.0,346.0 293.0,337.0 295.0,361.0 297.0,407.0 299.0,377.5 301.0,351.0 303.0,339.0 305.0,333.0 308.0,345.0 311.0,337.0 314.0,351.0 316.0,377.0 318.0,347.0 320.0,337.0 323.0,343.0 326.0,349.0 329.0,341.0 332.0,331.0 334.0,333.0 335.0,395.9 335.6,444.4 337.0,441.8 339.0,426.6 340.6,421.4 342.6,416.3 344.7,383.1 345.5,358.0 347.0,352.0 350.0,355.3 352.0,358.3 354.0,358.1 356.7,348.6 359.4,343.3 362.1,334.0 364.1,324.6 366.8,323.2 369.5,316.6 371.5,324.7 373.5,331.3 376.2,327.3 378.9,314.0 380.9,326.1 384.3,326.1 387.0,328.8 390.3,324.9 392.3,322.2 394.4,331.5 396.4,327.5 399.0,320.9 401.8,327.4 403.5,322.4 406.0,325.6 408.5,327.5 411.0,330.7 412.7,337.6 415.3,341.0 417.8,344.4 420.3,349.5 422.0,351.1 424.0,346.1 426.2,352.9 428.7,346.2 430.4,352.9 433.0,361.3 435.4,354.7 438.0,356.4 440.0,363.4 443.0,367.7 446.0,370.1 449.0,374.4 452.0,376.7 455.0,381.0 458.0,393.4 460.0,391.6 462.0,385.7 464.0,383.9 466.0,392.2 468.0,396.4 470.0,388.6 472.0,405.0 474.0,409.2 476.0,397.4 478.0,383.6 480.3,367.8 482.3,364.0 484.3,356.2 486.3,360.4 489.3,364.4 492.3,368.5 495.4,370.5 498.4,376.6 501.0,382.5 504.0,388.6 506.0,396.7 508.0,408.8 510.0,420.9 512.0,427.0 515.0,429.0 518.0,431.0 520.0,438.2 522.0,431.1 525.0,428.1 528.0,430.1 530.1,430.9 532.3,432.1 534.3,433.0 536.4,433.2 538.4,433.3 540.4,433.6 542.9,433.1 545.4,432.8 547.5,432.8 549.5,431.7 551.5,433.5 553.5,435.3 556.5,437.4 559.0,436.7 561.5,436.0 565.0,434.8 567.4,434.2 569.8,433.1 573.3,434.2 576.8,434.9 580.4,433.2 583.9,432.0 586.8,437.3 590.4,440.3 592.5,440.9 594.5,440.9 596.9,441.5 599.2,442.1 601.5,442.9 603.9,443.4 606.2,442.8 608.6,442.8 611.0,443.3 613.3,443.9 616.8,444.6 619.8,445.2 619.8,445.2 619.8,451.2 619.8,451.2 616.8,450.6 613.3,450.1 611.0,449.4 608.6,449.0 606.2,449.0 603.9,449.6 601.5,449.2 599.2,448.5 596.9,447.9 594.5,447.3 592.5,447.3 590.4,446.7 586.8,443.9 583.9,438.6 580.4,439.8 576.8,441.5 573.3,441.0 569.8,439.9 567.4,441.0 565.0,441.6 561.5,442.8 559.0,443.6 556.5,444.4 553.5,442.3 551.5,440.6 549.5,438.7 547.5,439.9 545.4,440.0 542.9,440.3 540.4,440.8 538.4,440.5 536.4,440.4 534.3,440.2 532.3,439.5 530.1,438.2 528.0,437.5 525.0,435.5 522.0,438.5 520.0,445.6 518.0,438.6 515.0,436.6 512.0,434.6 510.0,428.5 508.0,416.4 506.0,404.3 504.0,396.4 501.0,390.3 498.4,384.4 495.4,378.3 492.3,376.3 489.3,372.4 486.3,368.4 484.3,364.5 482.3,373.3 480.3,378.0 478.0,394.8 476.0,409.6 474.0,422.4 472.0,419.0 470.0,403.6 468.0,412.0 466.0,408.4 464.0,400.7 462.0,403.1 460.0,409.6 458.0,412.0 455.0,400.5 452.0,397.1 449.0,395.7 446.0,392.3 443.0,390.8 440.0,387.4 438.0,380.6 435.4,379.1 433.0,386.0 430.4,377.8 428.7,371.3 426.2,378.2 424.0,371.7 422.0,376.8 420.3,375.4 417.8,370.5 415.3,367.4 412.7,364.2 411.0,357.5 408.5,354.5 406.0,352.9 403.5,349.9 401.8,355.1 399.0,348.8 396.4,355.7 394.4,359.9 392.3,350.8 390.3,353.6 387.0,357.9 384.3,355.4 380.9,355.7 378.9,343.8 376.2,357.4 373.5,361.7 371.5,355.2 369.5,347.3 366.8,354.2 364.1,355.9 362.1,365.4 359.4,375.1 356.7,380.6 354.0,390.3 352.0,390.8 350.0,388.0 347.0,384.9 345.5,391.0 344.7,416.1 342.6,449.3 340.6,454.4 339.0,459.6 337.0,474.8 335.6,477.4 335.0,428.9 334.0,366.0 332.0,364.0 329.0,374.0 326.0,382.0 323.0,376.0 320.0,370.0 318.0,380.0 316.0,410.0 314.0,384.0 311.0,370.0 308.0,378.0 305.0,366.0 303.0,372.0 301.0,384.0 299.0,410.5 297.0,440.0 295.0,394.0 293.0,370.0 290.0,379.0 287.0,386.0 284.0,390.0 282.0,385.0 280.0,381.0 278.0,382.4 275.0,392.5 272.0,400.5 269.0,408.6 267.0,404.5 265.0,392.0 262.3,391.8 260.6,404.5 259.8,424.3 258.1,423.4 255.6,423.1 253.0,421.4 250.5,416.4 248.8,406.3 247.2,418.0 244.6,419.8 242.1,418.0 239.6,416.4 238.0,403.0 235.4,409.7 233.7,406.3 231.2,403.0 228.6,394.5 227.0,386.0 225.3,389.5 223.6,377.7 222.0,389.5 220.0,406.3 218.6,381.0 217.7,355.8 216.0,344.0 214.4,339.0 211.8,344.0 208.5,352.5 206.0,361.0 203.5,331.0 201.0,327.0 198.0,329.0 196.0,332.5 194.0,331.0 191.0,327.5 188.0,325.0 185.0,321.6 183.0,321.0 181.0,322.0 180.0,334.6 177.6,342.8 175.9,340.5 175.0,333.0 172.9,323.0 170.7,314.7 169.3,317.6 166.4,326.0 163.6,333.3 161.4,341.9 160.0,351.9 158.6,369.0 157.9,376.0 157.1,371.9 155.7,360.4 154.3,349.0 152.1,337.6 150.0,331.9 146.4,327.6 142.9,324.7 140.0,319.7 138.2,319.3 136.5,324.0 134.7,342.8 133.5,333.4 130.6,340.5 128.0,359.0 126.0,370.5 124.0,374.6 122.0,378.4 119.0,373.6 116.0,382.8 113.0,376.0" fill="url(#rs)"/>
<polygon points="113.0,348.0 116.0,357.8 119.0,351.6 122.0,359.4 124.0,357.6 126.0,355.5 128.0,346.0 130.6,327.5 133.5,320.4 134.7,329.8 136.5,311.0 138.2,306.3 140.0,306.7 142.9,311.7 146.4,314.6 150.0,318.9 152.1,324.6 154.3,336.0 155.7,347.4 157.1,358.9 157.9,363.0 158.6,356.0 160.0,338.9 161.4,328.9 163.6,320.3 166.4,313.0 169.3,304.6 170.7,301.7 172.9,310.0 175.0,320.0 175.9,327.5 177.6,329.8 180.0,321.6 181.0,309.0 183.0,308.0 185.0,308.6 188.0,312.0 191.0,314.5 194.0,318.0 196.0,319.5 198.0,316.0 201.0,314.0 203.5,318.0 206.0,348.0 208.5,339.5 211.8,331.0 214.4,326.0 216.0,331.0 217.7,342.8 218.6,368.0 220.0,393.3 222.0,376.5 223.6,364.7 225.3,376.5 227.0,373.0 228.6,381.5 231.2,390.0 233.7,393.3 235.4,396.7 238.0,390.0 239.6,403.4 242.1,405.0 244.6,406.8 247.2,405.0 248.8,393.3 250.5,403.4 253.0,408.4 255.6,410.1 258.1,410.1 259.8,406.2 260.6,384.1 262.3,366.6 265.0,362.0 267.0,374.5 269.0,378.6 272.0,370.5 275.0,362.5 278.0,352.4 280.0,351.0 282.0,355.0 284.0,360.0 287.0,356.0 290.0,349.0 293.0,340.0 295.0,364.0 297.0,410.0 299.0,380.5 301.0,354.0 303.0,342.0 305.0,336.0 308.0,348.0 311.0,340.0 314.0,354.0 316.0,380.0 318.0,350.0 320.0,340.0 323.0,346.0 326.0,352.0 329.0,344.0 332.0,334.0 334.0,336.0 335.0,398.9 335.6,447.4 337.0,444.8 339.0,429.6 340.6,424.4 342.6,419.3 344.7,386.1 345.5,361.0 347.0,355.0 350.0,358.3 352.0,361.3 354.0,361.1 356.7,351.6 359.4,346.3 362.1,337.0 364.1,327.6 366.8,326.2 369.5,319.6 371.5,327.7 373.5,334.3 376.2,330.3 378.9,317.0 380.9,329.1 384.3,329.1 387.0,331.8 390.3,327.9 392.3,325.2 394.4,334.5 396.4,330.5 399.0,323.9 401.8,330.4 403.5,325.4 406.0,328.6 408.5,330.5 411.0,333.7 412.7,340.6 415.3,344.0 417.8,347.4 420.3,352.5 422.0,354.1 424.0,349.1 426.2,355.9 428.7,349.2 430.4,355.9 433.0,364.3 435.4,357.7 438.0,359.4 440.0,366.4 443.0,370.6 446.0,372.9 449.0,377.1 452.0,379.3 455.0,383.5 458.0,395.8 460.0,393.9 462.0,388.0 464.0,386.1 466.0,394.3 468.0,398.5 470.0,390.6 472.0,406.8 474.0,411.0 476.0,399.0 478.0,385.0 480.3,369.1 482.3,365.2 484.3,357.3 486.3,361.4 489.3,365.4 492.3,369.4 495.4,371.4 498.4,377.5 501.0,383.4 504.0,389.5 506.0,397.5 508.0,409.6 510.0,421.7 512.0,427.8 515.0,429.8 518.0,431.8 520.0,438.9 522.0,431.8 525.0,428.8 528.0,430.8 530.1,431.5 532.3,432.8 534.3,433.6 536.4,433.8 538.4,433.9 540.4,434.2 542.9,433.7 545.4,433.4 547.5,433.4 549.5,432.2 551.5,434.0 553.5,435.8 556.5,437.9 559.0,437.1 561.5,436.4 565.0,435.2 567.4,434.6 569.8,433.5 573.3,434.6 576.8,435.2 580.4,433.5 583.9,432.3 586.8,437.6 590.4,440.5 592.5,441.1 594.5,441.1 596.9,441.7 599.2,442.3 601.5,443.1 603.9,443.5 606.2,442.9 608.6,442.9 611.0,443.3 613.3,444.0 616.8,444.6 619.8,445.2 619.8,445.2 619.8,451.2 619.8,451.2 616.8,450.6 613.3,450.0 611.0,449.3 608.6,448.9 606.2,448.9 603.9,449.5 601.5,449.1 599.2,448.3 596.9,447.7 594.5,447.1 592.5,447.1 590.4,446.5 586.8,443.6 583.9,438.3 580.4,439.5 576.8,441.2 573.3,440.6 569.8,439.5 567.4,440.6 565.0,441.2 561.5,442.4 559.0,443.1 556.5,443.9 553.5,441.8 551.5,440.0 549.5,438.2 547.5,439.4 545.4,439.4 542.9,439.7 540.4,440.2 538.4,439.9 536.4,439.8 534.3,439.6 532.3,438.8 530.1,437.5 528.0,436.8 525.0,434.8 522.0,437.8 520.0,444.9 518.0,437.8 515.0,435.8 512.0,433.8 510.0,427.7 508.0,415.6 506.0,403.5 504.0,395.5 501.0,389.4 498.4,383.5 495.4,377.4 492.3,375.4 489.3,371.4 486.3,367.4 484.3,363.4 482.3,371.9 480.3,376.3 478.0,392.9 476.0,407.4 474.0,419.9 472.0,416.3 470.0,400.6 468.0,408.9 466.0,405.3 464.0,397.5 462.0,399.8 460.0,406.3 458.0,408.6 455.0,397.0 452.0,393.5 449.0,392.0 446.0,388.5 443.0,386.9 440.0,383.4 438.0,376.5 435.4,375.0 433.0,381.8 430.4,373.6 428.7,367.0 426.2,373.9 424.0,367.3 422.0,372.4 420.3,371.0 417.8,366.0 415.3,362.9 412.7,359.6 411.0,352.9 408.5,349.8 406.0,348.2 403.5,345.1 401.8,350.2 399.0,343.9 396.4,350.8 394.4,354.9 392.3,345.7 390.3,348.6 387.0,352.8 384.3,350.3 380.9,350.5 378.9,338.5 376.2,352.1 373.5,356.2 371.5,349.8 369.5,341.8 366.8,348.7 364.1,350.2 362.1,359.8 359.4,369.3 356.7,374.8 354.0,384.5 352.0,384.9 350.0,382.0 347.0,378.9 345.5,385.0 344.7,410.0 342.6,443.0 340.6,448.0 339.0,453.0 337.0,468.0 335.6,470.5 335.0,422.0 334.0,359.0 332.0,357.0 329.0,367.0 326.0,375.0 323.0,369.0 320.0,363.0 318.0,373.0 316.0,403.0 314.0,377.0 311.0,363.0 308.0,371.0 305.0,359.0 303.0,365.0 301.0,377.0 299.0,403.5 297.0,433.0 295.0,387.0 293.0,363.0 290.0,372.0 287.0,379.0 284.0,383.0 282.0,378.0 280.0,374.0 278.0,375.4 275.0,385.5 272.0,393.5 269.0,401.6 267.0,397.5 265.0,385.0 262.3,385.6 260.6,399.2 259.8,419.4 258.1,419.3 255.6,419.1 253.0,417.4 250.5,412.4 248.8,402.3 247.2,414.0 244.6,415.8 242.1,414.0 239.6,412.4 238.0,399.0 235.4,405.7 233.7,402.3 231.2,399.0 228.6,390.5 227.0,382.0 225.3,385.5 223.6,373.7 222.0,385.5 220.0,402.3 218.6,377.0 217.7,351.8 216.0,340.0 214.4,335.0 211.8,340.0 208.5,348.5 206.0,357.0 203.5,327.0 201.0,323.0 198.0,325.0 196.0,328.6 194.0,327.1 191.0,323.6 188.0,321.2 185.0,317.8 183.0,317.2 181.0,318.3 180.0,330.9 177.6,339.1 175.9,336.8 175.0,329.3 172.9,319.4 170.7,311.1 169.3,314.0 166.4,322.5 163.6,329.8 161.4,338.4 160.0,348.5 158.6,365.6 157.9,372.6 157.1,368.5 155.7,357.0 154.3,345.6 152.1,334.3 150.0,328.6 146.4,324.3 142.9,321.5 140.0,316.5 138.2,316.2 136.5,320.9 134.7,339.7 133.5,330.3 130.6,337.5 128.0,356.0 126.0,366.8 124.0,370.2 122.0,373.4 119.0,367.6 116.0,375.8 113.0,368.0" fill="url(#rd)"/>
<polygon points="113.0,356.0 116.0,365.0 119.0,358.0 122.0,365.0 124.0,362.6 126.0,360.0 128.0,350.0 130.6,331.5 133.5,324.4 134.7,333.8 136.5,315.0 138.2,310.3 140.0,310.7 142.9,315.7 146.4,318.6 150.0,322.9 152.1,328.6 154.3,340.0 155.7,351.4 157.1,362.9 157.9,367.0 158.6,360.0 160.0,342.9 161.4,332.9 163.6,324.3 166.4,317.0 169.3,308.6 170.7,305.7 172.9,314.0 175.0,324.0 175.9,331.5 177.6,333.8 180.0,325.6 181.0,313.0 183.0,312.0 185.0,312.6 188.0,316.0 191.0,318.5 194.0,322.0 196.0,323.5 198.0,320.0 201.0,318.0 203.5,322.0 206.0,352.0 208.5,343.5 211.8,335.0 214.4,330.0 216.0,335.0 217.7,346.8 218.6,372.0 220.0,397.3 222.0,380.5 223.6,368.7 225.3,380.5 227.0,377.0 228.6,385.5 231.2,394.0 233.7,397.3 235.4,400.7 238.0,394.0 239.6,407.4 242.1,409.0 244.6,410.8 247.2,409.0 248.8,397.3 250.5,407.4 253.0,412.4 255.6,414.1 258.1,414.1 259.8,410.1 260.6,387.9 262.3,370.2 265.0,365.5 267.0,378.0 269.0,382.1 272.0,374.0 275.0,366.0 278.0,355.9 280.0,354.5 282.0,358.5 284.0,363.5 287.0,359.5 290.0,352.5 293.0,343.5 295.0,367.5 297.0,413.5 299.0,384.0 301.0,357.5 303.0,345.5 305.0,339.5 308.0,351.5 311.0,343.5 314.0,357.5 316.0,383.5 318.0,353.5 320.0,343.5 323.0,349.5 326.0,355.5 329.0,347.5 332.0,337.5 334.0,339.5 335.0,402.5 335.6,451.0 337.0,448.5 339.0,433.5 340.6,428.5 342.6,423.5 344.7,390.5 345.5,365.5 347.0,359.5 350.0,362.8 352.0,365.8 354.0,365.5 356.7,356.0 359.4,350.7 362.1,341.3 364.1,331.9 366.8,330.5 369.5,323.8 371.5,331.9 373.5,338.5 376.2,334.5 378.9,321.1 380.9,333.2 384.3,333.2 387.0,335.9 390.3,331.9 392.3,329.2 394.4,338.5 396.4,334.5 399.0,327.8 401.8,334.3 403.5,329.3 406.0,332.5 408.5,334.3 411.0,337.5 412.7,344.4 415.3,347.8 417.8,351.1 420.3,356.2 422.0,357.8 424.0,352.8 426.2,359.5 428.7,352.8 430.4,359.5 433.0,367.9 435.4,361.2 438.0,362.9 440.0,369.9 443.0,373.9 446.0,376.1 449.0,380.1 452.0,382.2 455.0,386.2 458.0,398.4 460.0,396.4 462.0,390.4 464.0,388.4 466.0,396.5 468.0,400.6 470.0,392.6 472.0,409.0 474.0,413.2 476.0,401.4 478.0,387.6 480.3,371.8 482.3,368.0 484.3,360.2 486.3,364.4 489.3,368.4 492.3,372.4 495.4,374.4 498.4,380.5 501.0,386.4 504.0,392.5 506.0,400.5 508.0,412.6 510.0,424.7 512.0,430.8 515.0,432.8 518.0,434.8 520.0,441.9 522.0,434.8 525.0,431.8 528.0,433.8 530.1,434.5 532.3,435.8 534.3,436.6 536.4,436.8 538.4,436.9 540.4,437.2 542.9,436.7 545.4,436.4 547.5,436.4 549.5,435.2 551.5,437.0 553.5,438.8 556.5,440.9 559.0,440.1 561.5,439.4 565.0,438.2 567.4,437.6 569.8,436.5 573.3,437.6 576.8,438.2 580.4,436.5 583.9,435.3 586.8,440.6 590.4,443.5 592.5,444.1 594.5,444.1 596.9,444.7 599.2,445.3 601.5,446.1 603.9,446.5 606.2,445.9 608.6,445.9 611.0,446.3 613.3,447.0 616.8,447.6 619.8,448.2 619.8,448.2 619.8,448.2 619.8,448.2 616.8,447.6 613.3,447.0 611.0,446.3 608.6,445.9 606.2,445.9 603.9,446.5 601.5,446.1 599.2,445.3 596.9,444.7 594.5,444.1 592.5,444.1 590.4,443.5 586.8,440.6 583.9,435.3 580.4,436.5 576.8,438.2 573.3,437.6 569.8,436.5 567.4,437.6 565.0,438.2 561.5,439.4 559.0,440.1 556.5,440.9 553.5,438.8 551.5,437.0 549.5,435.2 547.5,436.4 545.4,436.4 542.9,436.7 540.4,437.2 538.4,436.9 536.4,436.8 534.3,436.6 532.3,435.8 530.1,434.5 528.0,433.8 525.0,431.8 522.0,434.8 520.0,441.9 518.0,434.8 515.0,432.8 512.0,430.8 510.0,424.7 508.0,412.6 506.0,400.5 504.0,392.5 501.0,386.4 498.4,380.5 495.4,374.4 492.3,372.4 489.3,368.4 486.3,364.4 484.3,360.5 482.3,369.1 480.3,373.7 478.0,390.4 476.0,405.0 474.0,417.6 472.0,414.2 470.0,398.6 468.0,406.9 466.0,403.1 464.0,395.3 462.0,397.6 460.0,403.9 458.0,406.2 455.0,394.5 452.0,390.9 449.0,389.3 446.0,385.7 443.0,384.0 440.0,380.4 438.0,373.4 435.4,371.8 433.0,378.5 430.4,370.2 428.7,363.5 426.2,370.3 424.0,363.6 422.0,368.7 420.3,367.1 417.8,362.1 415.3,358.8 412.7,355.5 411.0,348.6 408.5,345.5 406.0,343.7 403.5,340.6 401.8,345.6 399.0,339.2 396.4,345.9 394.4,350.0 392.3,340.7 390.3,343.5 387.0,347.5 384.3,344.9 380.9,345.0 378.9,332.9 376.2,346.4 373.5,350.4 371.5,343.9 369.5,335.8 366.8,342.6 364.1,344.0 362.1,353.5 359.4,362.9 356.7,368.3 354.0,377.8 352.0,378.1 350.0,375.2 347.0,372.0 345.5,377.9 344.7,402.8 342.6,435.4 340.6,440.1 339.0,444.8 337.0,459.5 335.6,461.8 335.0,413.2 334.0,350.0 332.0,348.0 329.0,358.0 326.0,366.0 323.0,360.0 320.0,354.0 318.0,364.0 316.0,394.0 314.0,368.0 311.0,354.0 308.0,362.0 305.0,350.0 303.0,356.0 301.0,368.0 299.0,394.5 297.0,424.0 295.0,378.0 293.0,354.0 290.0,363.0 287.0,370.0 284.0,374.0 282.0,369.0 280.0,365.0 278.0,366.4 275.0,376.5 272.0,384.5 269.0,392.6 267.0,388.5 265.0,376.0 262.3,377.7 260.6,392.5 259.8,413.2 258.1,414.2 255.6,414.1 253.0,412.4 250.5,407.4 248.8,397.3 247.2,409.0 244.6,410.8 242.1,409.0 239.6,407.4 238.0,394.0 235.4,400.7 233.7,397.3 231.2,394.0 228.6,385.5 227.0,377.0 225.3,380.5 223.6,368.7 222.0,380.5 220.0,397.3 218.6,372.0 217.7,346.8 216.0,335.0 214.4,330.0 211.8,335.0 208.5,343.5 206.0,352.0 203.5,322.0 201.0,318.0 198.0,320.0 196.0,323.5 194.0,322.0 191.0,318.5 188.0,316.0 185.0,312.6 183.0,312.0 181.0,313.0 180.0,325.6 177.6,333.8 175.9,331.5 175.0,324.0 172.9,314.0 170.7,305.7 169.3,308.6 166.4,317.0 163.6,324.3 161.4,332.9 160.0,342.9 158.6,360.0 157.9,367.0 157.1,362.9 155.7,351.4 154.3,340.0 152.1,328.6 150.0,322.9 146.4,318.6 142.9,315.7 140.0,310.7 138.2,310.3 136.5,315.0 134.7,333.8 133.5,324.4 130.6,331.5 128.0,350.0 126.0,360.0 124.0,362.6 122.0,365.0 119.0,358.0 116.0,365.0 113.0,356.0" fill="#ff6464"/>
<polyline points="113.0,356.0 116.0,365.0 119.0,358.0 122.0,365.0 124.0,362.6 126.0,360.0 128.0,350.0 130.6,331.5 133.5,324.4 134.7,333.8 136.5,315.0 138.2,310.3 140.0,310.7 142.9,315.7 146.4,318.6 150.0,322.9 152.1,328.6 154.3,340.0 155.7,351.4 157.1,362.9 157.9,367.0 158.6,360.0 160.0,342.9 161.4,332.9 163.6,324.3 166.4,317.0 169.3,308.6 170.7,305.7 172.9,314.0 175.0,324.0 175.9,331.5 177.6,333.8 180.0,325.6 181.0,313.0 183.0,312.0 185.0,312.6 188.0,316.0 191.0,318.5 194.0,322.0 196.0,323.5 198.0,320.0 201.0,318.0 203.5,322.0 206.0,352.0 208.5,343.5 211.8,335.0 214.4,330.0 216.0,335.0 217.7,346.8 218.6,372.0 220.0,397.3 222.0,380.5 223.6,368.7 225.3,380.5 227.0,377.0 228.6,385.5 231.2,394.0 233.7,397.3 235.4,400.7 238.0,394.0 239.6,407.4 242.1,409.0 244.6,410.8 247.2,409.0 248.8,397.3 250.5,407.4 253.0,412.4 255.6,414.1 258.1,414.1" fill="none" stroke="#ff6464" stroke-width="6.0" stroke-linejoin="round" stroke-linecap="round"/><polyline points="258.1,414.1 259.8,410.8" fill="none" stroke="#ff6464" stroke-width="5.5" stroke-linejoin="round" stroke-linecap="round"/><polyline points="259.8,410.8 260.6,389.0" fill="none" stroke="#ff6464" stroke-width="5.0" stroke-linejoin="round" stroke-linecap="round"/><polyline points="260.6,389.0 262.3,372.0" fill="none" stroke="#ff6464" stroke-width="4.5" stroke-linejoin="round" stroke-linecap="round"/><polyline points="262.3,372.0 265.0,368.0 267.0,380.5 269.0,384.6 272.0,376.5 275.0,368.5 278.0,358.4 280.0,357.0 282.0,361.0 284.0,366.0 287.0,362.0 290.0,355.0 293.0,346.0 295.0,370.0 297.0,416.0 299.0,386.5 301.0,360.0 303.0,348.0 305.0,342.0 308.0,354.0 311.0,346.0 314.0,360.0 316.0,386.0 318.0,356.0 320.0,346.0 323.0,352.0 326.0,358.0 329.0,350.0 332.0,340.0 334.0,342.0 335.0,405.0 335.6,453.5 337.0,451.0 339.0,436.0 340.6,431.0 342.6,426.0 344.7,393.0 345.5,368.0 347.0,362.0 350.0,365.3 352.0,368.3 354.0,368.0 356.7,358.5 359.4,353.2 362.1,343.8 364.1,334.4 366.8,333.0 369.5,326.3 371.5,334.4 373.5,341.0 376.2,337.0 378.9,323.6 380.9,335.7 384.3,335.7 387.0,338.4 390.3,334.4 392.3,331.7 394.4,341.0 396.4,337.0 399.0,330.3 401.8,336.8 403.5,331.8 406.0,335.0 408.5,336.8 411.0,340.0 412.7,346.9 415.3,350.3 417.8,353.6 420.3,358.7 422.0,360.3 424.0,355.3 426.2,362.0 428.7,355.3 430.4,362.0 433.0,370.4 435.4,363.7 438.0,365.4 440.0,372.4 443.0,376.4" fill="none" stroke="#ff6464" stroke-width="3.0" stroke-linejoin="round" stroke-linecap="round"/><polyline points="443.0,376.4 446.0,378.5 449.0,382.5 452.0,384.5" fill="none" stroke="#ff6464" stroke-width="3.5" stroke-linejoin="round" stroke-linecap="round"/><polyline points="452.0,384.5 455.0,388.5 458.0,400.6" fill="none" stroke="#ff6464" stroke-width="4.0" stroke-linejoin="round" stroke-linecap="round"/><polyline points="458.0,400.6 460.0,398.6 462.0,392.5 464.0,390.5 466.0,398.6" fill="none" stroke="#ff6464" stroke-width="4.5" stroke-linejoin="round" stroke-linecap="round"/><polyline points="466.0,398.6 468.0,402.6 470.0,394.6 472.0,410.7 474.0,414.7 476.0,402.6 478.0,388.5 480.3,372.4 482.3,368.4 484.3,360.3" fill="none" stroke="#ff6464" stroke-width="5.0" stroke-linejoin="round" stroke-linecap="round"/><polyline points="484.3,360.3 486.3,364.4 489.3,368.4 492.3,372.4 495.4,374.4 498.4,380.5 501.0,386.4 504.0,392.5 506.0,400.5 508.0,412.6 510.0,424.7 512.0,430.8 515.0,432.8 518.0,434.8" fill="none" stroke="#ff6464" stroke-width="5.5" stroke-linejoin="round" stroke-linecap="round"/><polyline points="518.0,434.8 520.0,441.9 522.0,434.8 525.0,431.8 528.0,433.8 530.1,434.5 532.3,435.8 534.3,436.6 536.4,436.8 538.4,436.9 540.4,437.2 542.9,436.7 545.4,436.4 547.5,436.4 549.5,435.2 551.5,437.0 553.5,438.8 556.5,440.9 559.0,440.1 561.5,439.4 565.0,438.2 567.4,437.6 569.8,436.5 573.3,437.6 576.8,438.2 580.4,436.5 583.9,435.3 586.8,440.6 590.4,443.5 592.5,444.1 594.5,444.1 596.9,444.7 599.2,445.3 601.5,446.1 603.9,446.5 606.2,445.9 608.6,445.9 611.0,446.3 613.3,447.0 616.8,447.6 619.8,448.2 619.8,448.2" fill="none" stroke="#ff6464" stroke-width="6.0" stroke-linejoin="round" stroke-linecap="round"/>
<polyline points="113.0,295.0 115.0,297.9 117.0,297.4 119.4,302.0 121.8,299.7 124.0,304.4 126.5,300.3 128.8,303.2 131.0,305.6 133.5,310.3 135.3,308.0 138.2,300.9 141.2,297.4 144.1,293.8 146.5,298.5 148.2,303.2 150.6,292.6 153.0,299.7 155.3,296.2 157.6,298.5 159.4,302.0 161.2,298.5 163.5,289.0 165.9,296.2 168.2,293.8 170.0,289.0 172.4,292.6 174.7,291.5 177.6,293.8 180.0,291.5 183.0,286.0 185.3,289.2 187.7,288.8 190.0,290.0 192.3,289.5 194.7,289.6 197.0,291.5 199.5,292.8 202.0,294.0 204.0,293.7 206.0,294.1 208.0,297.0 210.5,291.3 213.0,285.0 215.5,290.4 218.0,295.5 220.0,297.0 222.0,297.0 224.0,294.5 226.0,294.3 228.0,293.0 230.5,289.4 233.0,286.0 235.0,278.5 237.0,275.0 240.0,272.0 242.0,270.0 245.0,266.0 247.0,261.0 249.0,256.0 250.5,250.0 251.7,241.8 253.4,245.0 254.2,252.0 255.9,238.4 257.6,228.4 259.2,241.8 260.0,255.2 261.7,272.0 263.4,288.8 265.0,304.0 266.8,319.0 269.0,335.0 271.5,326.0 273.0,312.0 274.3,297.0 276.8,302.0 279.4,307.0 281.0,298.8 282.7,283.7 284.4,273.7 286.0,283.7 287.8,288.8 290.0,296.0 292.0,300.0 294.0,302.0 295.0,292.0 296.5,350.0 298.0,340.0 299.0,322.6 302.0,304.5 305.0,290.4 307.0,304.5 309.0,306.5 311.0,296.4 313.0,314.6 315.0,328.6 317.0,320.6 319.0,300.5 320.0,288.4 322.0,300.5 324.0,306.5 327.0,306.5 329.0,296.4 331.0,276.3 333.0,280.3 334.5,349.0 336.0,393.0 339.0,383.0 340.6,368.0 342.6,350.0 344.4,327.4 345.3,310.6 347.6,315.3 350.0,307.0 352.4,317.6 354.7,313.0 357.0,317.6 359.4,301.0 361.8,287.0 364.1,277.6 366.5,284.7 368.8,273.0 371.2,270.6 373.5,296.5 375.9,284.7 378.2,274.0 380.6,287.0 383.0,289.4 385.3,287.0 387.6,284.7 390.0,288.2 392.4,285.9 394.7,298.8 397.0,289.4 399.4,281.2 401.8,294.1 404.1,298.8 406.5,291.8 408.8,291.8 411.2,303.5 413.5,310.6 415.9,313.0 418.2,317.6 420.0,313.7 422.2,319.2 424.4,315.9 426.6,322.5 428.7,317.0 430.9,325.7 433.1,322.5 435.3,333.4 437.5,326.8 439.2,325.7 440.8,340.0 443.0,347.6 445.1,349.8 447.3,353.1 449.5,354.2 451.7,357.4 453.9,356.3 456.1,361.8 458.3,372.7 460.4,366.2 462.6,362.9 464.8,366.2 467.0,372.7 469.2,368.4 471.4,379.3 473.6,392.4 475.7,385.8 477.9,364.0 480.1,353.1 482.3,342.1 484.5,334.5 486.7,340.0 489.9,344.3 493.2,345.4 496.5,350.9 500.0,356.3 501.0,358.0 504.0,364.2 506.0,372.3 508.0,382.4 510.0,394.5 512.0,402.5 514.0,406.6 516.0,406.6 518.0,412.6 520.0,416.7 522.0,410.6 525.0,404.6 528.0,406.6 531.0,409.6 533.0,410.8 535.0,411.6 537.2,411.2 539.4,410.6 541.4,410.8 543.4,409.6 545.5,408.7 547.5,407.6 550.5,406.6 553.5,409.6 556.5,412.6 559.6,412.6 561.5,413.5 565.0,411.8 568.6,410.0 572.0,410.6 575.6,411.8 579.0,410.0 581.1,409.4 583.3,408.8 586.2,412.4 589.8,415.9 593.3,417.6 595.6,418.0 598.0,417.6 600.4,418.6 602.7,419.4 605.0,419.4 607.4,418.8 609.7,418.7 612.0,418.8 615.6,420.6 619.2,421.8 619.6,422.0" fill="none" stroke="#0000ff" stroke-width="1.45" stroke-linejoin="round"/>
<polyline points="113.0,295.0 115.0,297.9 117.0,297.4 119.4,302.0 121.8,299.7 124.0,304.4 126.5,300.3 128.8,303.2 131.0,305.6 133.5,310.3 135.3,308.0 138.2,300.9 141.2,297.4 144.1,293.8 146.5,298.5 148.2,303.2 150.6,292.6 153.0,299.7 155.3,296.2 157.6,298.5 159.4,302.0 161.2,298.5 163.5,289.0 165.9,296.2 168.2,293.8 170.0,289.0 172.4,292.6 174.7,291.5 177.6,293.8 180.0,291.5 183.0,286.0 185.3,289.2 187.7,288.8 190.0,290.0 192.3,289.5 194.7,289.6 197.0,291.5 199.5,292.8 202.0,294.0 204.0,293.7 206.0,294.1 208.0,297.0 210.5,291.3 213.0,285.0 215.5,290.4 218.0,295.5 220.0,297.0 222.0,297.0 224.0,294.5 226.0,294.3 228.0,293.0 230.5,289.4 233.0,286.0 235.0,278.5 237.0,275.0 240.0,272.0 242.0,270.0 245.0,266.0 247.0,261.0 249.0,256.0 250.5,250.0 251.7,241.8 253.4,245.0 254.2,252.0 255.9,238.4" fill="none" stroke="#0000ff" stroke-width="1.8" stroke-linejoin="round"/>
<polyline points="473.6,392.4 475.7,385.8 477.9,364.0 480.1,353.1 482.3,342.1 484.5,334.5 486.7,340.0 489.9,344.3 493.2,345.4 496.5,350.9 500.0,356.3 501.0,358.0 504.0,364.2 506.0,372.3 508.0,382.4 510.0,394.5 512.0,402.5 514.0,406.6 516.0,406.6 518.0,412.6 520.0,416.7 522.0,410.6 525.0,404.6 528.0,406.6 531.0,409.6 533.0,410.8 535.0,411.6 537.2,411.2 539.4,410.6 541.4,410.8 543.4,409.6 545.5,408.7 547.5,407.6 550.5,406.6 553.5,409.6 556.5,412.6 559.6,412.6 561.5,413.5 565.0,411.8 568.6,410.0 572.0,410.6 575.6,411.8 579.0,410.0 581.1,409.4 583.3,408.8 586.2,412.4 589.8,415.9 593.3,417.6 595.6,418.0 598.0,417.6 600.4,418.6 602.7,419.4 605.0,419.4 607.4,418.8 609.7,418.7 612.0,418.8 615.6,420.6 619.2,421.8 619.6,422.0" fill="none" stroke="#0000ff" stroke-width="1.8" stroke-linejoin="round"/>
<polyline points="113.0,323.2 115.9,326.8 118.2,335.0 120.0,340.9 121.8,333.8 124.0,330.3 126.5,328.0 128.8,324.4 131.2,319.7 133.5,315.0 135.3,309.0 137.6,313.8 140.0,318.6 142.8,320.2 145.7,315.7 148.6,316.3 151.4,318.6 153.6,322.0 155.7,324.3 158.6,331.4 160.7,335.7 162.9,328.6 165.7,322.9 168.6,320.0 170.8,319.5 172.9,318.6 175.9,318.5 179.4,315.0 182.0,307.5 184.3,309.1 186.7,306.7 189.0,309.0 191.2,309.3 193.3,309.8 195.5,311.6 197.7,311.5 199.8,313.2 202.0,315.6 204.3,313.6 206.7,312.6 209.0,311.6 211.5,313.1 214.0,317.0 216.0,318.4 218.0,318.1 220.0,319.7 222.0,313.3 224.0,316.8 226.0,313.0 228.0,314.2 230.0,315.4 232.0,318.0 234.0,317.8 236.0,317.0 237.5,322.0 239.0,335.0 241.0,350.0 243.0,356.0 244.5,335.0 246.0,303.0 247.5,305.0 249.0,340.0 250.5,320.0 252.0,300.0 254.0,296.0 256.0,298.0 257.5,296.0 259.0,300.0 260.0,330.0 261.0,364.0 263.0,350.0 265.0,349.0 267.0,360.0 269.0,372.5 271.0,364.0 273.0,348.0 275.0,334.0 277.0,340.0 279.0,330.0 281.0,342.0 283.0,328.0 285.0,334.0 287.0,342.0 289.0,332.0 291.0,344.0 293.0,334.0 295.0,346.0 297.7,420.0 299.0,370.0 301.0,340.0 304.0,328.0 307.0,326.0 309.0,340.0 311.0,332.0 313.0,350.0 315.0,374.0 317.0,360.0 319.0,334.0 321.0,336.0 323.0,344.0 326.0,346.0 329.0,340.0 332.0,336.0 334.0,350.0 335.6,418.0 337.0,426.0 339.0,421.0 340.6,410.7 342.6,398.0 344.7,380.0 346.4,363.0 349.0,355.0 350.0,346.5 353.4,364.0 356.0,355.9 358.7,345.1 362.1,329.0 364.8,323.6 367.5,323.6 369.5,315.5 371.5,325.0 374.2,333.0 376.9,323.6 378.9,311.5 380.9,323.6 383.6,326.3 386.3,329.0 389.0,327.6 391.7,319.6 394.4,334.4 397.0,323.6 399.0,323.6 401.0,323.4 403.5,326.7 406.0,325.9 408.5,326.7 411.0,331.8 412.7,336.8 415.3,338.5 417.8,346.9 420.3,345.2 422.8,348.6 425.3,345.2 427.9,350.3 430.4,353.6 433.0,357.0 435.4,360.3 438.0,353.6 440.5,360.3 443.0,365.0 446.0,366.4 449.0,368.4 452.0,374.4 455.0,378.5 458.0,386.5 461.0,382.5 464.0,384.5 467.0,390.5 470.0,394.6 472.0,404.6 474.0,408.6 476.0,396.6 479.0,376.4 481.0,368.4 484.3,356.3 487.3,362.3 490.3,366.4 493.4,370.4 496.4,374.4 499.4,378.5 501.0,382.4 504.0,390.4 506.0,399.3 508.0,409.4 510.0,421.5 512.0,427.5 515.0,428.6 518.0,429.6 520.0,437.6 522.0,431.6 525.0,427.5 528.0,429.6 530.1,431.2 532.3,432.6 534.3,433.1 536.4,433.6 538.4,433.3 540.4,433.6 542.9,433.2 545.4,432.6 547.5,431.6 549.5,431.6 551.5,433.0 553.5,433.6 556.5,435.6 559.0,435.5 561.5,436.1 565.0,434.9 567.1,434.0 569.2,433.2 571.2,433.8 573.3,434.3 576.8,434.3 580.4,433.2 583.9,432.6 586.8,436.7 590.4,439.6 592.5,440.0 594.5,440.2 596.9,440.4 599.2,440.8 601.5,441.5 603.9,442.0 606.2,440.6 608.6,441.4 611.0,441.9 613.3,442.6 616.8,443.8 619.8,444.9 619.8,445.0" fill="none" stroke="#00ff00" stroke-width="1.45" stroke-linejoin="round"/>
<polyline points="113.0,323.2 115.9,326.8 118.2,335.0 120.0,340.9 121.8,333.8 124.0,330.3 126.5,328.0 128.8,324.4 131.2,319.7 133.5,315.0 135.3,309.0 137.6,313.8 140.0,318.6 142.8,320.2 145.7,315.7 148.6,316.3 151.4,318.6 153.6,322.0 155.7,324.3 158.6,331.4 160.7,335.7 162.9,328.6 165.7,322.9 168.6,320.0 170.8,319.5 172.9,318.6 175.9,318.5 179.4,315.0 182.0,307.5 184.3,309.1 186.7,306.7 189.0,309.0 191.2,309.3 193.3,309.8 195.5,311.6 197.7,311.5 199.8,313.2 202.0,315.6 204.3,313.6 206.7,312.6 209.0,311.6 211.5,313.1 214.0,317.0 216.0,318.4 218.0,318.1 220.0,319.7 222.0,313.3 224.0,316.8 226.0,313.0 228.0,314.2 230.0,315.4 232.0,318.0 234.0,317.8 236.0,317.0" fill="none" stroke="#00ff00" stroke-width="1.8" stroke-linejoin="round"/>
<polyline points="472.0,404.6 474.0,408.6 476.0,396.6 479.0,376.4 481.0,368.4 484.3,356.3 487.3,362.3 490.3,366.4 493.4,370.4 496.4,374.4 499.4,378.5 501.0,382.4 504.0,390.4 506.0,399.3 508.0,409.4 510.0,421.5 512.0,427.5 515.0,428.6 518.0,429.6 520.0,437.6 522.0,431.6 525.0,427.5 528.0,429.6 530.1,431.2 532.3,432.6 534.3,433.1 536.4,433.6 538.4,433.3 540.4,433.6 542.9,433.2 545.4,432.6 547.5,431.6 549.5,431.6 551.5,433.0 553.5,433.6 556.5,435.6 559.0,435.5 561.5,436.1 565.0,434.9 567.1,434.0 569.2,433.2 571.2,433.8 573.3,434.3 576.8,434.3 580.4,433.2 583.9,432.6 586.8,436.7 590.4,439.6 592.5,440.0 594.5,440.2 596.9,440.4 599.2,440.8 601.5,441.5 603.9,442.0 606.2,440.6 608.6,441.4 611.0,441.9 613.3,442.6 616.8,443.8 619.8,444.9 619.8,445.0" fill="none" stroke="#00ff00" stroke-width="1.8" stroke-linejoin="round"/>
<polyline points="113.0,356.0 116.0,365.0 119.0,358.0 122.0,365.0 124.0,362.6 126.0,360.0 128.0,350.0 130.6,331.5 133.5,324.4 134.7,333.8 136.5,315.0 138.2,310.3 140.0,310.7 142.9,315.7 146.4,318.6 150.0,322.9 152.1,328.6 154.3,340.0 155.7,351.4 157.1,362.9 157.9,367.0 158.6,360.0 160.0,342.9 161.4,332.9 163.6,324.3 166.4,317.0 169.3,308.6 170.7,305.7 172.9,314.0 175.0,324.0 175.9,331.5 177.6,333.8 180.0,325.6 181.0,313.0 183.0,312.0 185.0,312.6 188.0,316.0 191.0,318.5 194.0,322.0 196.0,323.5 198.0,320.0 201.0,318.0 203.5,322.0 206.0,352.0 208.5,343.5 211.8,335.0 214.4,330.0 216.0,335.0 217.7,346.8 218.6,372.0 220.0,397.3 222.0,380.5 223.6,368.7 225.3,380.5 227.0,377.0 228.6,385.5 231.2,394.0 233.7,397.3 235.4,400.7 238.0,394.0 239.6,407.4 242.1,409.0 244.6,410.8 247.2,409.0 248.8,397.3 250.5,407.4 253.0,412.4 255.6,414.1 258.1,414.1 259.8,410.8 260.6,389.0 262.3,372.0 265.0,368.0 267.0,380.5 269.0,384.6 272.0,376.5 275.0,368.5 278.0,358.4 280.0,357.0 282.0,361.0 284.0,366.0 287.0,362.0 290.0,355.0 293.0,346.0 295.0,370.0 297.0,416.0 299.0,386.5 301.0,360.0 303.0,348.0 305.0,342.0 308.0,354.0 311.0,346.0 314.0,360.0 316.0,386.0 318.0,356.0 320.0,346.0 323.0,352.0 326.0,358.0 329.0,350.0 332.0,340.0 334.0,342.0 335.0,405.0 335.6,453.5 337.0,451.0 339.0,436.0 340.6,431.0 342.6,426.0 344.7,393.0 345.5,368.0 347.0,362.0 350.0,365.3 352.0,368.3 354.0,368.0 356.7,358.5 359.4,353.2 362.1,343.8 364.1,334.4 366.8,333.0 369.5,326.3 371.5,334.4 373.5,341.0 376.2,337.0 378.9,323.6 380.9,335.7 384.3,335.7 387.0,338.4 390.3,334.4 392.3,331.7 394.4,341.0 396.4,337.0 399.0,330.3 401.8,336.8 403.5,331.8 406.0,335.0 408.5,336.8 411.0,340.0 412.7,346.9 415.3,350.3 417.8,353.6 420.3,358.7 422.0,360.3 424.0,355.3 426.2,362.0 428.7,355.3 430.4,362.0 433.0,370.4 435.4,363.7 438.0,365.4 440.0,372.4 443.0,376.4 446.0,378.5 449.0,382.5 452.0,384.5 455.0,388.5 458.0,400.6 460.0,398.6 462.0,392.5 464.0,390.5 466.0,398.6 468.0,402.6 470.0,394.6 472.0,410.7 474.0,414.7 476.0,402.6 478.0,388.5 480.3,372.4 482.3,368.4 484.3,360.3 486.3,364.4 489.3,368.4 492.3,372.4 495.4,374.4 498.4,380.5 501.0,386.4 504.0,392.5 506.0,400.5 508.0,412.6 510.0,424.7 512.0,430.8 515.0,432.8 518.0,434.8 520.0,441.9 522.0,434.8 525.0,431.8 528.0,433.8 530.1,434.5 532.3,435.8 534.3,436.6 536.4,436.8 538.4,436.9 540.4,437.2 542.9,436.7 545.4,436.4 547.5,436.4 549.5,435.2 551.5,437.0 553.5,438.8 556.5,440.9 559.0,440.1 561.5,439.4 565.0,438.2 567.4,437.6 569.8,436.5 573.3,437.6 576.8,438.2 580.4,436.5 583.9,435.3 586.8,440.6 590.4,443.5 592.5,444.1 594.5,444.1 596.9,444.7 599.2,445.3 601.5,446.1 603.9,446.5 606.2,445.9 608.6,445.9 611.0,446.3 613.3,447.0 616.8,447.6 619.8,448.2 619.8,448.2" fill="none" stroke="#ff0000" stroke-width="1.45" stroke-linejoin="round"/>
<polyline points="113.0,356.0 116.0,365.0 119.0,358.0 122.0,365.0 124.0,362.6 126.0,360.0 128.0,350.0 130.6,331.5 133.5,324.4 134.7,333.8 136.5,315.0 138.2,310.3 140.0,310.7 142.9,315.7 146.4,318.6 150.0,322.9 152.1,328.6 154.3,340.0 155.7,351.4 157.1,362.9 157.9,367.0 158.6,360.0 160.0,342.9 161.4,332.9 163.6,324.3 166.4,317.0 169.3,308.6 170.7,305.7 172.9,314.0 175.0,324.0 175.9,331.5 177.6,333.8 180.0,325.6 181.0,313.0 183.0,312.0 185.0,312.6 188.0,316.0 191.0,318.5 194.0,322.0 196.0,323.5 198.0,320.0 201.0,318.0 203.5,322.0 206.0,352.0 208.5,343.5 211.8,335.0 214.4,330.0 216.0,335.0 217.7,346.8 218.6,372.0 220.0,397.3 222.0,380.5 223.6,368.7 225.3,380.5 227.0,377.0 228.6,385.5 231.2,394.0 233.7,397.3 235.4,400.7 238.0,394.0 239.6,407.4 242.1,409.0 244.6,410.8 247.2,409.0 248.8,397.3 250.5,407.4 253.0,412.4 255.6,414.1" fill="none" stroke="#ff0000" stroke-width="1.8" stroke-linejoin="round"/>
<polyline points="472.0,410.7 474.0,414.7 476.0,402.6 478.0,388.5 480.3,372.4 482.3,368.4 484.3,360.3 486.3,364.4 489.3,368.4 492.3,372.4 495.4,374.4 498.4,380.5 501.0,386.4 504.0,392.5 506.0,400.5 508.0,412.6 510.0,424.7 512.0,430.8 515.0,432.8 518.0,434.8 520.0,441.9 522.0,434.8 525.0,431.8 528.0,433.8 530.1,434.5 532.3,435.8 534.3,436.6 536.4,436.8 538.4,436.9 540.4,437.2 542.9,436.7 545.4,436.4 547.5,436.4 549.5,435.2 551.5,437.0 553.5,438.8 556.5,440.9 559.0,440.1 561.5,439.4 565.0,438.2 567.4,437.6 569.8,436.5 573.3,437.6 576.8,438.2 580.4,436.5 583.9,435.3 586.8,440.6 590.4,443.5 592.5,444.1 594.5,444.1 596.9,444.7 599.2,445.3 601.5,446.1 603.9,446.5 606.2,445.9 608.6,445.9 611.0,446.3 613.3,447.0 616.8,447.6 619.8,448.2 619.8,448.2" fill="none" stroke="#ff0000" stroke-width="1.8" stroke-linejoin="round"/>
</g>
<rect x="113" y="79" width="1.1" height="408.6" fill="#000"/><rect x="623" y="84" width="1.2" height="398" fill="#000"/><rect x="113" y="84" width="511" height="1.6" fill="#262626"/><rect x="107" y="481" width="517" height="1.2" fill="#000"/><rect x="134" y="81" width="1" height="3" fill="#555"/><rect x="134" y="482" width="1" height="2.6" fill="#333"/><rect x="155" y="81" width="1" height="3" fill="#555"/><rect x="155" y="482" width="1" height="2.6" fill="#333"/><rect x="176" y="81" width="1" height="3" fill="#555"/><rect x="176" y="482" width="1" height="2.6" fill="#333"/><rect x="198" y="81" width="1" height="3" fill="#555"/><rect x="198" y="482" width="1" height="2.6" fill="#333"/><rect x="219" y="81" width="1" height="3" fill="#555"/><rect x="219" y="482" width="1" height="2.6" fill="#333"/><rect x="240" y="79" width="1" height="5" fill="#777"/><rect x="240" y="482" width="1" height="5.5" fill="#777"/><rect x="262" y="81" width="1" height="3" fill="#555"/><rect x="262" y="482" width="1" height="2.6" fill="#333"/><rect x="283" y="81" width="1" height="3" fill="#555"/><rect x="283" y="482" width="1" height="2.6" fill="#333"/><rect x="304" y="81" width="1" height="3" fill="#555"/><rect x="304" y="482" width="1" height="2.6" fill="#333"/><rect x="326" y="81" width="1" height="3" fill="#555"/><rect x="326" y="482" width="1" height="2.6" fill="#333"/><rect x="347" y="81" width="1" height="3" fill="#555"/><rect x="347" y="482" width="1" height="2.6" fill="#333"/><rect x="368" y="79" width="1" height="5" fill="#777"/><rect x="368" y="482" width="1" height="5.5" fill="#777"/><rect x="389" y="81" width="1" height="3" fill="#555"/><rect x="389" y="482" width="1" height="2.6" fill="#333"/><rect x="411" y="81" width="1" height="3" fill="#555"/><rect x="411" y="482" width="1" height="2.6" fill="#333"/><rect x="432" y="81" width="1" height="3" fill="#555"/><rect x="432" y="482" width="1" height="2.6" fill="#333"/><rect x="453" y="81" width="1" height="3" fill="#555"/><rect x="453" y="482" width="1" height="2.6" fill="#333"/><rect x="475" y="81" width="1" height="3" fill="#555"/><rect x="475" y="482" width="1" height="2.6" fill="#333"/><rect x="496" y="79" width="1" height="5" fill="#777"/><rect x="496" y="482" width="1" height="5.5" fill="#777"/><rect x="517" y="81" width="1" height="3" fill="#555"/><rect x="517" y="482" width="1" height="2.6" fill="#333"/><rect x="539" y="81" width="1" height="3" fill="#555"/><rect x="539" y="482" width="1" height="2.6" fill="#333"/><rect x="560" y="81" width="1" height="3" fill="#555"/><rect x="560" y="482" width="1" height="2.6" fill="#333"/><rect x="581" y="81" width="1" height="3" fill="#555"/><rect x="581" y="482" width="1" height="2.6" fill="#333"/><rect x="602" y="81" width="1" height="3" fill="#555"/><rect x="602" y="482" width="1" height="2.6" fill="#333"/><rect x="107" y="481" width="6" height="1" fill="#222"/><rect x="624" y="481" width="5.5" height="1" fill="#444"/><rect x="110" y="441" width="3" height="1" fill="#444"/><rect x="624" y="441" width="3" height="1" fill="#999"/><rect x="110" y="402" width="3" height="1" fill="#444"/><rect x="624" y="402" width="3" height="1" fill="#999"/><rect x="110" y="362" width="3" height="1" fill="#444"/><rect x="624" y="362" width="3" height="1" fill="#999"/><rect x="110" y="322" width="3" height="1" fill="#444"/><rect x="624" y="322" width="3" height="1" fill="#999"/><rect x="107" y="283" width="6" height="1" fill="#222"/><rect x="624" y="283" width="5.5" height="1" fill="#444"/><rect x="110" y="243" width="3" height="1" fill="#444"/><rect x="624" y="243" width="3" height="1" fill="#999"/><rect x="110" y="203" width="3" height="1" fill="#444"/><rect x="624" y="203" width="3" height="1" fill="#999"/><rect x="110" y="164" width="3" height="1" fill="#444"/><rect x="624" y="164" width="3" height="1" fill="#999"/><rect x="110" y="124" width="3" height="1" fill="#444"/><rect x="624" y="124" width="3" height="1" fill="#999"/><rect x="107" y="84" width="6" height="1" fill="#222"/><rect x="624" y="84" width="5.5" height="1" fill="#444"/>
<rect x="638" y="397" width="184" height="84" fill="#fff" stroke="#000" stroke-width="1.2"/>
<g stroke-width="1.6">
<line x1="643" x2="655" y1="410.5" y2="410.5" stroke="#ff4a4a"/><circle cx="649" cy="410.5" r="1.3" fill="none" stroke="#ff9090" stroke-width="0.8"/>
<line x1="643" x2="655" y1="439" y2="439" stroke="#4aff4a"/><circle cx="649" cy="439" r="1.3" fill="none" stroke="#90ff90" stroke-width="0.8"/>
<line x1="643" x2="655" y1="467" y2="467" stroke="#4a4aff"/><circle cx="649" cy="467" r="1.3" fill="none" stroke="#9090ff" stroke-width="0.8"/>
</g>
<text x="194.2" y="45.9" font-size="36.5" textLength="347.6" lengthAdjust="spacingAndGlyphs">Dew Point / 2007-08-17</text>
<text x="82.6" y="91" font-size="20" textLength="21.14" lengthAdjust="spacingAndGlyphs" stroke="#000" stroke-width="0.3">30</text>
<text x="83.3" y="290" font-size="20" textLength="20.24" lengthAdjust="spacingAndGlyphs" stroke="#000" stroke-width="0.3">25</text>
<text x="82.3" y="488" font-size="20" textLength="21.35" lengthAdjust="spacingAndGlyphs" stroke="#000" stroke-width="0.3">20</text>
<text x="90.0" y="506.8" font-size="19.5" textLength="47.94" lengthAdjust="spacingAndGlyphs" stroke="#000" stroke-width="0.3">00:00</text>
<text x="217.7" y="506.8" font-size="19.5" textLength="46.7" lengthAdjust="spacingAndGlyphs" stroke="#000" stroke-width="0.3">06:00</text>
<text x="347.0" y="506.8" font-size="19.5" textLength="47.39" lengthAdjust="spacingAndGlyphs" stroke="#000" stroke-width="0.3">12:00</text>
<text x="475.0" y="506.8" font-size="19.5" textLength="46.33" lengthAdjust="spacingAndGlyphs" stroke="#000" stroke-width="0.3">18:00</text>
<text x="339.6" y="530.9" font-size="20" textLength="59.31" lengthAdjust="spacingAndGlyphs" stroke="#000" stroke-width="0.3">Aug-17</text>
<text x="340.6" y="554.9" font-size="23" textLength="58.51" lengthAdjust="spacingAndGlyphs" stroke="#000" stroke-width="0.3">(LST)</text>
<text x="658.9" y="416.1" font-size="18" textLength="68.53" lengthAdjust="spacingAndGlyphs" stroke="#000" stroke-width="0.3">at 29.5 m</text>
<text x="658.9" y="444.8" font-size="18" textLength="68.53" lengthAdjust="spacingAndGlyphs" stroke="#000" stroke-width="0.3">at 12.3 m</text>
<text x="658.9" y="472.6" font-size="18" textLength="59.94" lengthAdjust="spacingAndGlyphs" stroke="#000" stroke-width="0.3">at 1.6 m</text>
<text x="662.0" y="532.6" font-size="12.4" textLength="117.83" lengthAdjust="spacing" stroke="#000" stroke-width="0.15">©TERC, Univ. Tsukuba</text>
<text x="655.5" y="549.6" font-size="12.6" textLength="167.98" lengthAdjust="spacing" stroke="#000" stroke-width="0.15">Observed at TERC Tower site</text>
<text x="561.6" y="566.6" font-size="12.3" textLength="261.2" lengthAdjust="spacing" stroke="#000" stroke-width="0.15">Created Automatically at 2007-08-17/23:55:25</text>
<text x="435.5" y="582.8" font-size="12.3" textLength="385.01" lengthAdjust="spacing" stroke="#000" stroke-width="0.15">Data source : /home/hojyo/new/TERC-data/sorted_data/MET.10s.dat</text>
<g font-size="18"><text x="100" y="70.2" stroke="#000" stroke-width="0.35">[</text><text x="111.9" y="70.2" textLength="11.2" lengthAdjust="spacingAndGlyphs">C</text><text x="124" y="70.2" stroke="#000" stroke-width="0.35">]</text></g>
<ellipse cx="108.95" cy="58.9" rx="1.7" ry="1.45" fill="none" stroke="#000" stroke-width="0.9"/>
<g transform="translate(785,504)">
<rect x="0" y="0" width="34" height="34" rx="1" fill="#1060f0"/>
<path d="M11.1,0 C11.6,2.4 12.6,4.6 14.6,6 L15,6 H19.6 L20,6 C21.8,4.6 22.6,2.4 23,0 Z" fill="#fff"/>
<path d="M17.2,8 C16.6,10 14.2,11.6 14.2,14.4 C14.2,16.4 15.4,17.8 17.2,17.8 C19,17.8 20.3,16.4 20.3,14.4 C20.3,11.6 17.8,10 17.2,8 Z" fill="#fff"/>
<g fill="none" stroke="#fff" stroke-width="1.1">
<path d="M0,10.6 C3.5,16.8 9.5,21.6 17.1,21.9 C24.7,21.6 30.6,16.8 34,10.6"/>
<path d="M0,16.1 C4,20.4 10,23.4 17.1,23.6 C24.2,23.4 30.2,20.4 34,16.1"/>
</g>
<g fill="#fff" stroke="#fff" stroke-width="0.35" transform="translate(0,-0.9)">
<path d="M1.2,27.2h5.2v1.3h-1.95v5.3h-1.3v-5.3h-1.95z"/>
<path d="M8.9,27.2h4.5v1.3h-3.2v1.5h2.9v1.2h-2.9v1.3h3.2v1.3h-4.5z"/>
<path d="M17.8,27.2h3.6c1.3,0 2,0.8 2,1.8c0,0.9-0.5,1.4-1.2,1.6l1.6,3.2h-1.45l-1.4-3h-1.85v3h-1.3z M19.1,28.4v1.8h2.2c0.55,0 0.85-0.35 0.85-0.9c0-0.55-0.3-0.9-0.85-0.9z"/>
<path d="M33.2,28.6 C32.6,27.7 31.7,27.2 30.6,27.2 C28.6,27.2 27.3,28.7 27.3,30.5 C27.3,32.3 28.6,33.8 30.6,33.8 C31.7,33.8 32.6,33.3 33.2,32.4 L32.1,31.8 C31.7,32.3 31.2,32.5 30.6,32.5 C29.4,32.5 28.6,31.6 28.6,30.5 C28.6,29.4 29.4,28.5 30.6,28.5 C31.2,28.5 31.7,28.7 32.1,29.2 Z"/>
</g>
</g>
</svg>
</body></html>
